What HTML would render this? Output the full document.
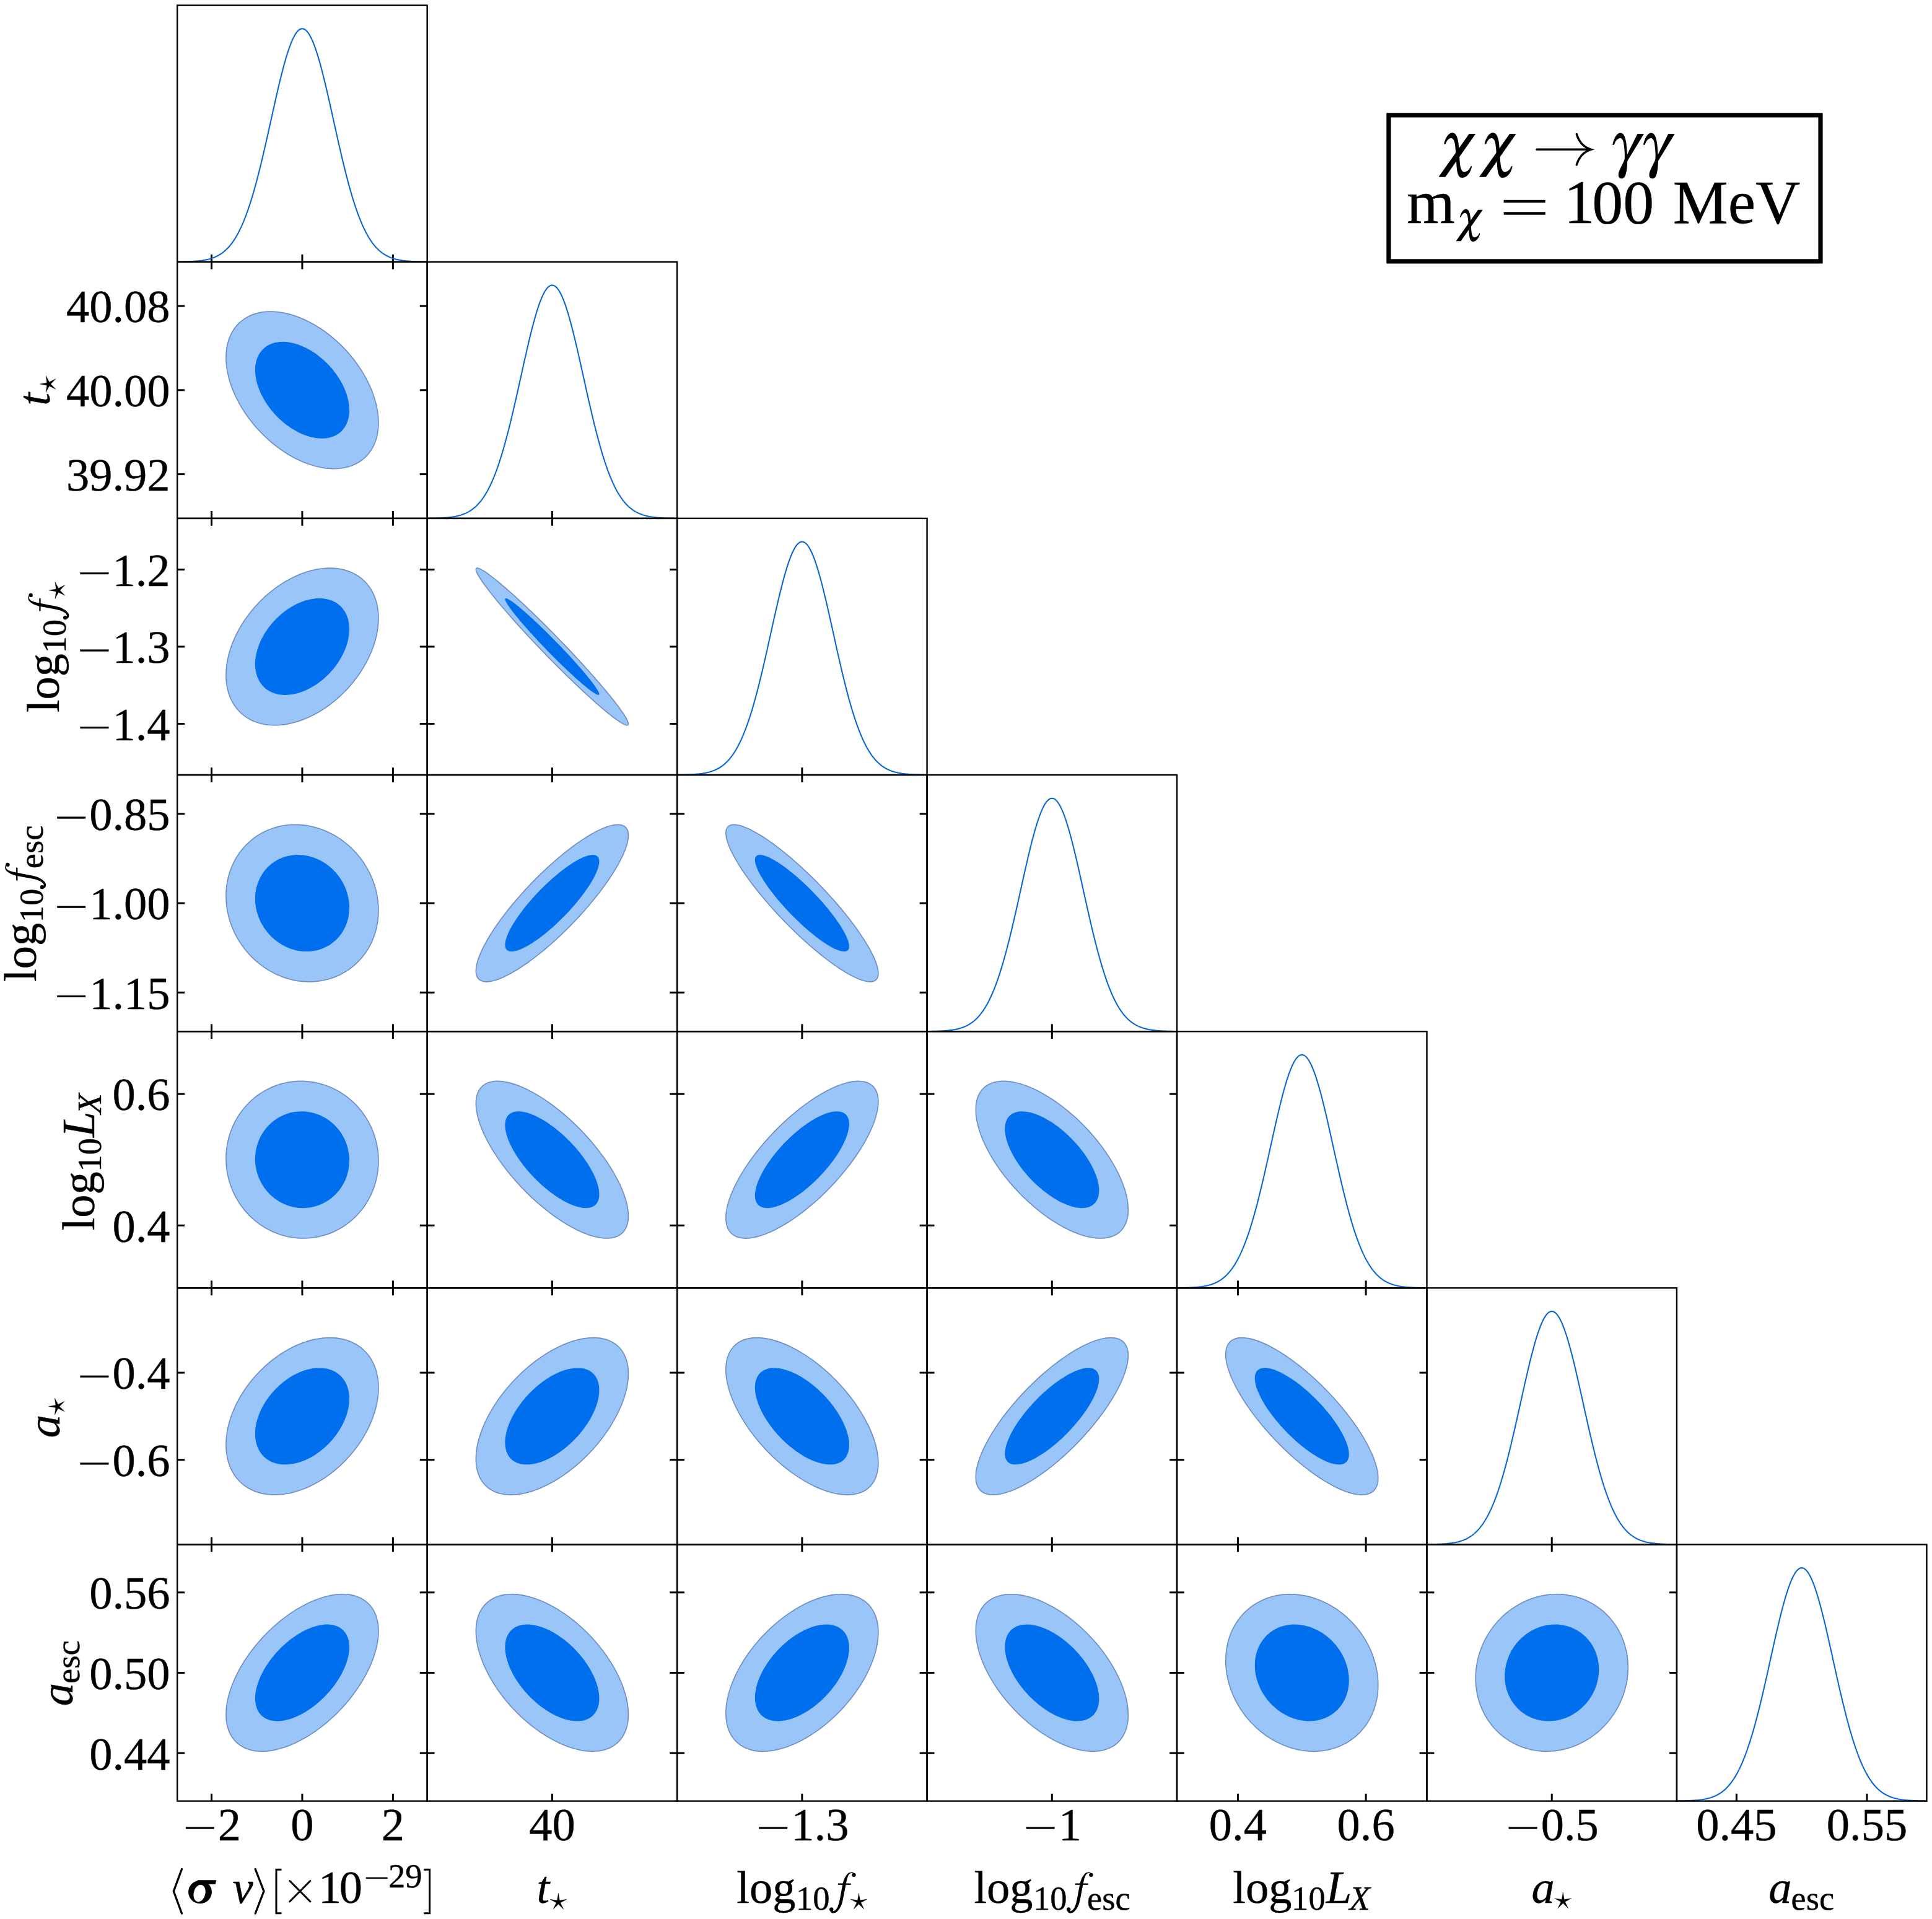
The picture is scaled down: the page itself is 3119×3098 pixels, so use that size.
<!DOCTYPE html>
<html><head><meta charset="utf-8"><title>corner plot</title>
<style>
html,body{margin:0;padding:0;background:#fff;}
body{width:3119px;height:3098px;overflow:hidden;font-family:"Liberation Serif",serif;}
svg{display:block;}
</style></head><body>
<svg width="3119" height="3098" viewBox="0 0 3119 3098">
<rect width="3119" height="3098" fill="#fff"/>
<g>
<path d="M610.93,682.43L610.84,677.86L610.55,673.22L610.08,668.51L609.42,663.74L608.57,658.91L607.53,654.05L606.31,649.14L604.91,644.21L603.33,639.25L601.57,634.28L599.63,629.3L597.52,624.32L595.25,619.35L592.8,614.4L590.2,609.47L587.44,604.57L584.52,599.71L581.46,594.9L578.25,590.14L574.9,585.44L571.42,580.81L567.81,576.26L564.08,571.79L560.23,567.41L556.27,563.12L552.2,558.94L548.03,554.87L543.77,550.91L539.43,547.07L535,543.36L530.5,539.79L525.94,536.35L521.32,533.06L516.64,529.92L511.93,526.93L507.17,524.1L502.39,521.43L497.58,518.93L492.76,516.6L487.93,514.44L483.1,512.47L478.28,510.67L473.47,509.06L468.69,507.63L463.93,506.4L459.22,505.35L454.54,504.49L449.92,503.83L445.36,503.36L440.86,503.09L436.43,503.01L432.09,503.13L427.83,503.44L423.66,503.95L419.59,504.65L415.63,505.55L411.78,506.63L408.05,507.91L404.44,509.37L400.96,511.03L397.61,512.86L394.4,514.87L391.34,517.06L388.42,519.43L385.66,521.96L383.06,524.66L380.61,527.53L378.34,530.55L376.23,533.72L374.29,537.05L372.53,540.51L370.95,544.11L369.55,547.85L368.33,551.71L367.29,555.69L366.44,559.79L365.78,563.99L365.31,568.3L365.02,572.7L364.93,577.19L365.02,581.76L365.31,586.4L365.78,591.11L366.44,595.88L367.29,600.71L368.33,605.57L369.55,610.48L370.95,615.41L372.53,620.37L374.29,625.34L376.23,630.32L378.34,635.3L380.61,640.27L383.06,645.22L385.66,650.15L388.42,655.05L391.34,659.91L394.4,664.72L397.61,669.48L400.96,674.18L404.44,678.81L408.05,683.36L411.78,687.83L415.63,692.21L419.59,696.5L423.66,700.68L427.83,704.75L432.09,708.71L436.43,712.55L440.86,716.26L445.36,719.83L449.92,723.27L454.54,726.56L459.22,729.7L463.93,732.69L468.69,735.52L473.47,738.19L478.28,740.69L483.1,743.02L487.93,745.18L492.76,747.15L497.58,748.95L502.39,750.56L507.17,751.99L511.93,753.22L516.64,754.27L521.32,755.13L525.94,755.79L530.5,756.26L535,756.53L539.43,756.61L543.77,756.49L548.03,756.18L552.2,755.67L556.27,754.97L560.23,754.07L564.08,752.99L567.81,751.71L571.42,750.25L574.9,748.59L578.25,746.76L581.46,744.75L584.52,742.56L587.44,740.19L590.2,737.66L592.8,734.96L595.25,732.09L597.52,729.07L599.63,725.9L601.57,722.57L603.33,719.11L604.91,715.51L606.31,711.77L607.53,707.91L608.57,703.93L609.42,699.83L610.08,695.63L610.55,691.32L610.84,686.92Z" fill="#99c5f8" stroke="#7090c4" stroke-width="1.7"/>
<path d="M563.93,662.18L563.87,659.37L563.7,656.51L563.4,653.61L562.99,650.68L562.47,647.71L561.83,644.72L561.08,641.7L560.21,638.67L559.23,635.62L558.14,632.56L556.95,629.5L555.65,626.43L554.24,623.38L552.73,620.33L551.12,617.3L549.42,614.29L547.61,611.3L545.72,608.34L543.74,605.41L541.67,602.52L539.52,599.67L537.29,596.87L534.98,594.12L532.6,591.42L530.15,588.79L527.64,586.21L525.07,583.71L522.43,581.27L519.75,578.91L517.01,576.63L514.23,574.43L511.42,572.32L508.56,570.29L505.67,568.36L502.76,566.52L499.82,564.78L496.86,563.14L493.89,561.6L490.91,560.17L487.93,558.84L484.95,557.63L481.97,556.52L479,555.53L476.04,554.65L473.1,553.89L470.19,553.25L467.3,552.72L464.44,552.31L461.63,552.03L458.85,551.86L456.11,551.81L453.43,551.88L450.79,552.08L448.22,552.39L445.71,552.82L443.26,553.37L440.88,554.04L438.57,554.82L436.34,555.73L434.19,556.74L432.12,557.87L430.14,559.11L428.25,560.45L426.44,561.91L424.74,563.47L423.13,565.13L421.62,566.89L420.21,568.75L418.91,570.7L417.72,572.75L416.63,574.88L415.65,577.09L414.78,579.39L414.03,581.77L413.39,584.22L412.87,586.74L412.46,589.32L412.16,591.97L411.99,594.68L411.93,597.44L411.99,600.25L412.16,603.11L412.46,606.01L412.87,608.94L413.39,611.91L414.03,614.9L414.78,617.92L415.65,620.95L416.63,624L417.72,627.06L418.91,630.12L420.21,633.19L421.62,636.24L423.13,639.29L424.74,642.32L426.44,645.33L428.25,648.32L430.14,651.28L432.12,654.21L434.19,657.1L436.34,659.95L438.57,662.75L440.88,665.5L443.26,668.2L445.71,670.83L448.22,673.41L450.79,675.91L453.43,678.35L456.11,680.71L458.85,682.99L461.63,685.19L464.44,687.3L467.3,689.33L470.19,691.26L473.1,693.1L476.04,694.84L479,696.48L481.97,698.02L484.95,699.45L487.93,700.78L490.91,701.99L493.89,703.1L496.86,704.09L499.82,704.97L502.76,705.73L505.67,706.37L508.56,706.9L511.42,707.31L514.23,707.59L517.01,707.76L519.75,707.81L522.43,707.74L525.07,707.54L527.64,707.23L530.15,706.8L532.6,706.25L534.98,705.58L537.29,704.8L539.52,703.89L541.67,702.88L543.74,701.75L545.72,700.51L547.61,699.17L549.42,697.71L551.12,696.15L552.73,694.49L554.24,692.73L555.65,690.87L556.95,688.92L558.14,686.87L559.23,684.74L560.21,682.53L561.08,680.23L561.83,677.85L562.47,675.4L562.99,672.88L563.4,670.3L563.7,667.65L563.87,664.94Z" fill="#006fed"/>
<path d="M610.93,998.05L610.84,993.44L610.55,988.92L610.08,984.47L609.42,980.12L608.57,975.87L607.53,971.72L606.31,967.69L604.91,963.77L603.33,959.97L601.57,956.31L599.63,952.78L597.52,949.39L595.25,946.15L592.8,943.05L590.2,940.12L587.44,937.34L584.52,934.73L581.46,932.28L578.25,930.01L574.9,927.91L571.42,925.99L567.81,924.26L564.08,922.71L560.23,921.34L556.27,920.17L552.2,919.18L548.03,918.39L543.77,917.79L539.43,917.39L535,917.18L530.5,917.17L525.94,917.35L521.32,917.73L516.64,918.3L511.93,919.07L507.17,920.02L502.39,921.17L497.58,922.51L492.76,924.04L487.93,925.75L483.1,927.64L478.28,929.72L473.47,931.96L468.69,934.39L463.93,936.98L459.22,939.73L454.54,942.65L449.92,945.72L445.36,948.94L440.86,952.31L436.43,955.82L432.09,959.47L427.83,963.25L423.66,967.15L419.59,971.17L415.63,975.3L411.78,979.54L408.05,983.88L404.44,988.31L400.96,992.83L397.61,997.42L394.4,1002.09L391.34,1006.82L388.42,1011.61L385.66,1016.45L383.06,1021.33L380.61,1026.24L378.34,1031.19L376.23,1036.15L374.29,1041.12L372.53,1046.1L370.95,1051.08L369.55,1056.04L368.33,1060.99L367.29,1065.91L366.44,1070.8L365.78,1075.64L365.31,1080.44L365.02,1085.18L364.93,1089.85L365.02,1094.46L365.31,1098.98L365.78,1103.43L366.44,1107.78L367.29,1112.03L368.33,1116.18L369.55,1120.21L370.95,1124.13L372.53,1127.93L374.29,1131.59L376.23,1135.12L378.34,1138.51L380.61,1141.75L383.06,1144.85L385.66,1147.78L388.42,1150.56L391.34,1153.17L394.4,1155.62L397.61,1157.89L400.96,1159.99L404.44,1161.91L408.05,1163.64L411.78,1165.19L415.63,1166.56L419.59,1167.73L423.66,1168.72L427.83,1169.51L432.09,1170.11L436.43,1170.51L440.86,1170.72L445.36,1170.73L449.92,1170.55L454.54,1170.17L459.22,1169.6L463.93,1168.83L468.69,1167.88L473.47,1166.73L478.28,1165.39L483.1,1163.86L487.93,1162.15L492.76,1160.26L497.58,1158.18L502.39,1155.94L507.17,1153.51L511.93,1150.92L516.64,1148.17L521.32,1145.25L525.94,1142.18L530.5,1138.96L535,1135.59L539.43,1132.08L543.77,1128.43L548.03,1124.65L552.2,1120.75L556.27,1116.73L560.23,1112.6L564.08,1108.36L567.81,1104.02L571.42,1099.59L574.9,1095.07L578.25,1090.48L581.46,1085.81L584.52,1081.08L587.44,1076.29L590.2,1071.45L592.8,1066.57L595.25,1061.66L597.52,1056.71L599.63,1051.75L601.57,1046.78L603.33,1041.8L604.91,1036.82L606.31,1031.86L607.53,1026.91L608.57,1021.99L609.42,1017.1L610.08,1012.26L610.55,1007.46L610.84,1002.72Z" fill="#99c5f8" stroke="#7090c4" stroke-width="1.7"/>
<path d="M563.93,1015.71L563.87,1012.88L563.7,1010.1L563.4,1007.36L562.99,1004.69L562.47,1002.07L561.83,999.52L561.08,997.04L560.21,994.63L559.23,992.29L558.14,990.04L556.95,987.87L555.65,985.78L554.24,983.79L552.73,981.88L551.12,980.08L549.42,978.37L547.61,976.76L545.72,975.26L543.74,973.86L541.67,972.57L539.52,971.39L537.29,970.32L534.98,969.37L532.6,968.53L530.15,967.81L527.64,967.2L525.07,966.71L522.43,966.35L519.75,966.1L517.01,965.97L514.23,965.96L511.42,966.07L508.56,966.31L505.67,966.66L502.76,967.13L499.82,967.72L496.86,968.43L493.89,969.25L490.91,970.19L487.93,971.24L484.95,972.4L481.97,973.68L479,975.06L476.04,976.55L473.1,978.15L470.19,979.84L467.3,981.63L464.44,983.52L461.63,985.51L458.85,987.58L456.11,989.74L453.43,991.98L450.79,994.31L448.22,996.71L445.71,999.18L443.26,1001.72L440.88,1004.33L438.57,1007L436.34,1009.72L434.19,1012.5L432.12,1015.33L430.14,1018.2L428.25,1021.11L426.44,1024.06L424.74,1027.03L423.13,1030.03L421.62,1033.06L420.21,1036.1L418.91,1039.15L417.72,1042.21L416.63,1045.27L415.65,1048.34L414.78,1051.39L414.03,1054.43L413.39,1057.46L412.87,1060.46L412.46,1063.44L412.16,1066.39L411.99,1069.31L411.93,1072.19L411.99,1075.02L412.16,1077.8L412.46,1080.54L412.87,1083.21L413.39,1085.83L414.03,1088.38L414.78,1090.86L415.65,1093.27L416.63,1095.61L417.72,1097.86L418.91,1100.03L420.21,1102.12L421.62,1104.11L423.13,1106.02L424.74,1107.82L426.44,1109.53L428.25,1111.14L430.14,1112.64L432.12,1114.04L434.19,1115.33L436.34,1116.51L438.57,1117.58L440.88,1118.53L443.26,1119.37L445.71,1120.09L448.22,1120.7L450.79,1121.19L453.43,1121.55L456.11,1121.8L458.85,1121.93L461.63,1121.94L464.44,1121.83L467.3,1121.59L470.19,1121.24L473.1,1120.77L476.04,1120.18L479,1119.47L481.97,1118.65L484.95,1117.71L487.93,1116.66L490.91,1115.5L493.89,1114.22L496.86,1112.84L499.82,1111.35L502.76,1109.75L505.67,1108.06L508.56,1106.27L511.42,1104.38L514.23,1102.39L517.01,1100.32L519.75,1098.16L522.43,1095.92L525.07,1093.59L527.64,1091.19L530.15,1088.72L532.6,1086.18L534.98,1083.57L537.29,1080.9L539.52,1078.18L541.67,1075.4L543.74,1072.57L545.72,1069.7L547.61,1066.79L549.42,1063.84L551.12,1060.87L552.73,1057.87L554.24,1054.84L555.65,1051.8L556.95,1048.75L558.14,1045.69L559.23,1042.63L560.21,1039.56L561.08,1036.51L561.83,1033.47L562.47,1030.44L562.99,1027.44L563.4,1024.46L563.7,1021.51L563.87,1018.59Z" fill="#006fed"/>
<path d="M1014.39,1168.59L1014.3,1167.58L1014.01,1166.38L1013.54,1164.99L1012.88,1163.42L1012.03,1161.66L1010.99,1159.72L1009.77,1157.6L1008.37,1155.3L1006.79,1152.83L1005.03,1150.2L1003.09,1147.4L1000.98,1144.44L998.71,1141.33L996.26,1138.06L993.66,1134.65L990.9,1131.11L987.98,1127.42L984.92,1123.61L981.71,1119.68L978.36,1115.62L974.88,1111.46L971.27,1107.2L967.54,1102.83L963.69,1098.38L959.73,1093.84L955.66,1089.23L951.49,1084.54L947.23,1079.79L942.89,1074.99L938.46,1070.14L933.96,1065.25L929.4,1060.33L924.78,1055.38L920.1,1050.41L915.39,1045.43L910.63,1040.45L905.85,1035.48L901.04,1030.52L896.22,1025.58L891.39,1020.67L886.56,1015.79L881.74,1010.96L876.93,1006.18L872.15,1001.46L867.39,996.8L862.68,992.21L858,987.71L853.38,983.29L848.82,978.97L844.32,974.74L839.89,970.62L835.55,966.62L831.29,962.73L827.12,958.97L823.05,955.34L819.09,951.85L815.24,948.5L811.51,945.3L807.9,942.25L804.42,939.35L801.07,936.62L797.86,934.05L794.8,931.65L791.88,929.43L789.12,927.38L786.52,925.51L784.07,923.82L781.8,922.32L779.69,921.01L777.75,919.88L775.99,918.95L774.41,918.21L773.01,917.67L771.79,917.31L770.75,917.16L769.9,917.2L769.24,917.43L768.77,917.86L768.48,918.49L768.39,919.31L768.48,920.32L768.77,921.52L769.24,922.91L769.9,924.48L770.75,926.24L771.79,928.18L773.01,930.3L774.41,932.6L775.99,935.07L777.75,937.7L779.69,940.5L781.8,943.46L784.07,946.57L786.52,949.84L789.12,953.25L791.88,956.79L794.8,960.48L797.86,964.29L801.07,968.22L804.42,972.28L807.9,976.44L811.51,980.7L815.24,985.07L819.09,989.52L823.05,994.06L827.12,998.67L831.29,1003.36L835.55,1008.11L839.89,1012.91L844.32,1017.76L848.82,1022.65L853.38,1027.57L858,1032.52L862.68,1037.49L867.39,1042.47L872.15,1047.45L876.93,1052.42L881.74,1057.38L886.56,1062.32L891.39,1067.23L896.22,1072.11L901.04,1076.94L905.85,1081.72L910.63,1086.44L915.39,1091.1L920.1,1095.69L924.78,1100.19L929.4,1104.61L933.96,1108.93L938.46,1113.16L942.89,1117.28L947.23,1121.28L951.49,1125.17L955.66,1128.93L959.73,1132.56L963.69,1136.05L967.54,1139.4L971.27,1142.6L974.88,1145.65L978.36,1148.55L981.71,1151.28L984.92,1153.85L987.98,1156.25L990.9,1158.47L993.66,1160.52L996.26,1162.39L998.71,1164.08L1000.98,1165.58L1003.09,1166.89L1005.03,1168.02L1006.79,1168.95L1008.37,1169.69L1009.77,1170.23L1010.99,1170.59L1012.03,1170.74L1012.88,1170.7L1013.54,1170.47L1014.01,1170.04L1014.3,1169.41Z" fill="#99c5f8" stroke="#7090c4" stroke-width="1.7"/>
<path d="M967.39,1120.62L967.33,1120L967.16,1119.26L966.86,1118.41L966.45,1117.44L965.93,1116.36L965.29,1115.16L964.54,1113.86L963.67,1112.45L962.69,1110.93L961.6,1109.31L960.41,1107.59L959.11,1105.77L957.7,1103.85L956.19,1101.84L954.58,1099.75L952.88,1097.56L951.07,1095.3L949.18,1092.95L947.2,1090.53L945.13,1088.04L942.98,1085.48L940.75,1082.86L938.44,1080.17L936.06,1077.43L933.61,1074.64L931.1,1071.8L928.53,1068.92L925.89,1066L923.21,1063.04L920.47,1060.06L917.69,1057.05L914.88,1054.02L912.02,1050.98L909.13,1047.92L906.22,1044.86L903.28,1041.8L900.32,1038.74L897.35,1035.69L894.37,1032.65L891.39,1029.63L888.41,1026.63L885.43,1023.66L882.46,1020.72L879.5,1017.81L876.56,1014.95L873.65,1012.13L870.76,1009.35L867.9,1006.64L865.09,1003.98L862.31,1001.38L859.57,998.84L856.89,996.38L854.25,993.99L851.68,991.68L849.17,989.44L846.72,987.3L844.34,985.23L842.03,983.26L839.8,981.39L837.65,979.61L835.58,977.93L833.6,976.35L831.71,974.87L829.9,973.5L828.2,972.24L826.59,971.09L825.08,970.05L823.67,969.13L822.37,968.32L821.18,967.63L820.09,967.06L819.11,966.6L818.24,966.27L817.49,966.05L816.85,965.96L816.33,965.98L815.92,966.12L815.62,966.39L815.45,966.77L815.39,967.28L815.45,967.9L815.62,968.64L815.92,969.49L816.33,970.46L816.85,971.54L817.49,972.74L818.24,974.04L819.11,975.45L820.09,976.97L821.18,978.59L822.37,980.31L823.67,982.13L825.08,984.05L826.59,986.06L828.2,988.15L829.9,990.34L831.71,992.6L833.6,994.95L835.58,997.37L837.65,999.86L839.8,1002.42L842.03,1005.04L844.34,1007.73L846.72,1010.47L849.17,1013.26L851.68,1016.1L854.25,1018.98L856.89,1021.9L859.57,1024.86L862.31,1027.84L865.09,1030.85L867.9,1033.88L870.76,1036.92L873.65,1039.98L876.56,1043.04L879.5,1046.1L882.46,1049.16L885.43,1052.21L888.41,1055.25L891.39,1058.27L894.37,1061.27L897.35,1064.24L900.32,1067.18L903.28,1070.09L906.22,1072.95L909.13,1075.77L912.02,1078.55L914.88,1081.26L917.69,1083.92L920.47,1086.52L923.21,1089.06L925.89,1091.52L928.53,1093.91L931.1,1096.22L933.61,1098.46L936.06,1100.6L938.44,1102.67L940.75,1104.64L942.98,1106.51L945.13,1108.29L947.2,1109.97L949.18,1111.55L951.07,1113.03L952.88,1114.4L954.58,1115.66L956.19,1116.81L957.7,1117.85L959.11,1118.77L960.41,1119.58L961.6,1120.27L962.69,1120.84L963.67,1121.3L964.54,1121.63L965.29,1121.85L965.93,1121.94L966.45,1121.92L966.86,1121.78L967.16,1121.51L967.33,1121.13Z" fill="#006fed"/>
<path d="M610.93,1469.76L610.84,1464.79L610.55,1459.81L610.08,1454.83L609.42,1449.86L608.57,1444.9L607.53,1439.96L606.31,1435.04L604.91,1430.17L603.33,1425.33L601.57,1420.55L599.63,1415.82L597.52,1411.16L595.25,1406.57L592.8,1402.06L590.2,1397.64L587.44,1393.31L584.52,1389.08L581.46,1384.96L578.25,1380.95L574.9,1377.06L571.42,1373.29L567.81,1369.66L564.08,1366.16L560.23,1362.8L556.27,1359.59L552.2,1356.53L548.03,1353.63L543.77,1350.89L539.43,1348.31L535,1345.9L530.5,1343.67L525.94,1341.61L521.32,1339.73L516.64,1338.04L511.93,1336.53L507.17,1335.21L502.39,1334.07L497.58,1333.13L492.76,1332.38L487.93,1331.83L483.1,1331.47L478.28,1331.3L473.47,1331.33L468.69,1331.56L463.93,1331.98L459.22,1332.59L454.54,1333.4L449.92,1334.4L445.36,1335.59L440.86,1336.97L436.43,1338.54L432.09,1340.29L427.83,1342.23L423.66,1344.34L419.59,1346.63L415.63,1349.08L411.78,1351.71L408.05,1354.5L404.44,1357.45L400.96,1360.56L397.61,1363.82L394.4,1367.22L391.34,1370.76L388.42,1374.44L385.66,1378.24L383.06,1382.17L380.61,1386.22L378.34,1390.37L376.23,1394.64L374.29,1398.99L372.53,1403.44L370.95,1407.98L369.55,1412.59L368.33,1417.27L367.29,1422.02L366.44,1426.82L365.78,1431.66L365.31,1436.55L365.02,1441.48L364.93,1446.42L365.02,1451.39L365.31,1456.37L365.78,1461.35L366.44,1466.32L367.29,1471.28L368.33,1476.22L369.55,1481.14L370.95,1486.01L372.53,1490.85L374.29,1495.63L376.23,1500.36L378.34,1505.02L380.61,1509.61L383.06,1514.12L385.66,1518.54L388.42,1522.87L391.34,1527.1L394.4,1531.22L397.61,1535.23L400.96,1539.12L404.44,1542.89L408.05,1546.52L411.78,1550.02L415.63,1553.38L419.59,1556.59L423.66,1559.65L427.83,1562.55L432.09,1565.29L436.43,1567.87L440.86,1570.28L445.36,1572.51L449.92,1574.57L454.54,1576.45L459.22,1578.14L463.93,1579.65L468.69,1580.97L473.47,1582.11L478.28,1583.05L483.1,1583.8L487.93,1584.35L492.76,1584.71L497.58,1584.88L502.39,1584.85L507.17,1584.62L511.93,1584.2L516.64,1583.59L521.32,1582.78L525.94,1581.78L530.5,1580.59L535,1579.21L539.43,1577.64L543.77,1575.89L548.03,1573.95L552.2,1571.84L556.27,1569.55L560.23,1567.1L564.08,1564.47L567.81,1561.68L571.42,1558.73L574.9,1555.62L578.25,1552.36L581.46,1548.96L584.52,1545.42L587.44,1541.74L590.2,1537.94L592.8,1534.01L595.25,1529.96L597.52,1525.81L599.63,1521.54L601.57,1517.19L603.33,1512.74L604.91,1508.2L606.31,1503.59L607.53,1498.91L608.57,1494.16L609.42,1489.36L610.08,1484.52L610.55,1479.63L610.84,1474.7Z" fill="#99c5f8" stroke="#7090c4" stroke-width="1.7"/>
<path d="M563.93,1465.27L563.87,1462.21L563.7,1459.15L563.4,1456.09L562.99,1453.03L562.47,1449.98L561.83,1446.94L561.08,1443.91L560.21,1440.91L559.23,1437.94L558.14,1435L556.95,1432.09L555.65,1429.22L554.24,1426.4L552.73,1423.63L551.12,1420.91L549.42,1418.24L547.61,1415.64L545.72,1413.1L543.74,1410.64L541.67,1408.24L539.52,1405.93L537.29,1403.69L534.98,1401.54L532.6,1399.47L530.15,1397.5L527.64,1395.62L525.07,1393.83L522.43,1392.14L519.75,1390.56L517.01,1389.08L514.23,1387.71L511.42,1386.44L508.56,1385.28L505.67,1384.24L502.76,1383.31L499.82,1382.5L496.86,1381.8L493.89,1381.22L490.91,1380.76L487.93,1380.42L484.95,1380.2L481.97,1380.1L479,1380.12L476.04,1380.25L473.1,1380.51L470.19,1380.89L467.3,1381.39L464.44,1382L461.63,1382.74L458.85,1383.59L456.11,1384.55L453.43,1385.63L450.79,1386.82L448.22,1388.12L445.71,1389.52L443.26,1391.04L440.88,1392.65L438.57,1394.37L436.34,1396.18L434.19,1398.1L432.12,1400.1L430.14,1402.19L428.25,1404.37L426.44,1406.63L424.74,1408.97L423.13,1411.39L421.62,1413.88L420.21,1416.44L418.91,1419.06L417.72,1421.74L416.63,1424.47L415.65,1427.26L414.78,1430.1L414.03,1432.98L413.39,1435.9L412.87,1438.85L412.46,1441.83L412.16,1444.84L411.99,1447.87L411.93,1450.91L411.99,1453.97L412.16,1457.03L412.46,1460.09L412.87,1463.15L413.39,1466.2L414.03,1469.24L414.78,1472.27L415.65,1475.27L416.63,1478.24L417.72,1481.18L418.91,1484.09L420.21,1486.96L421.62,1489.78L423.13,1492.55L424.74,1495.27L426.44,1497.94L428.25,1500.54L430.14,1503.08L432.12,1505.54L434.19,1507.94L436.34,1510.25L438.57,1512.49L440.88,1514.64L443.26,1516.71L445.71,1518.68L448.22,1520.56L450.79,1522.35L453.43,1524.04L456.11,1525.62L458.85,1527.1L461.63,1528.47L464.44,1529.74L467.3,1530.9L470.19,1531.94L473.1,1532.87L476.04,1533.68L479,1534.38L481.97,1534.96L484.95,1535.42L487.93,1535.76L490.91,1535.98L493.89,1536.08L496.86,1536.06L499.82,1535.93L502.76,1535.67L505.67,1535.29L508.56,1534.79L511.42,1534.18L514.23,1533.44L517.01,1532.59L519.75,1531.63L522.43,1530.55L525.07,1529.36L527.64,1528.06L530.15,1526.66L532.6,1525.14L534.98,1523.53L537.29,1521.81L539.52,1520L541.67,1518.08L543.74,1516.08L545.72,1513.99L547.61,1511.81L549.42,1509.55L551.12,1507.21L552.73,1504.79L554.24,1502.3L555.65,1499.74L556.95,1497.12L558.14,1494.44L559.23,1491.71L560.21,1488.92L561.08,1486.08L561.83,1483.2L562.47,1480.28L562.99,1477.33L563.4,1474.35L563.7,1471.34L563.87,1468.31Z" fill="#006fed"/>
<path d="M1014.39,1348.79L1014.3,1346.35L1014.01,1344.08L1013.54,1341.99L1012.88,1340.08L1012.03,1338.35L1010.99,1336.8L1009.77,1335.45L1008.37,1334.28L1006.79,1333.3L1005.03,1332.51L1003.09,1331.92L1000.98,1331.52L998.71,1331.32L996.26,1331.31L993.66,1331.5L990.9,1331.88L987.98,1332.46L984.92,1333.23L981.71,1334.2L978.36,1335.35L974.88,1336.7L971.27,1338.23L967.54,1339.95L963.69,1341.84L959.73,1343.92L955.66,1346.18L951.49,1348.6L947.23,1351.2L942.89,1353.96L938.46,1356.88L933.96,1359.96L929.4,1363.18L924.78,1366.56L920.1,1370.07L915.39,1373.73L910.63,1377.51L905.85,1381.41L901.04,1385.44L896.22,1389.57L891.39,1393.81L886.56,1398.15L881.74,1402.59L876.93,1407.11L872.15,1411.7L867.39,1416.37L862.68,1421.11L858,1425.9L853.38,1430.74L848.82,1435.62L844.32,1440.53L839.89,1445.48L835.55,1450.44L831.29,1455.42L827.12,1460.4L823.05,1465.37L819.09,1470.34L815.24,1475.28L811.51,1480.2L807.9,1485.08L804.42,1489.93L801.07,1494.72L797.86,1499.46L794.8,1504.13L791.88,1508.74L789.12,1513.26L786.52,1517.7L784.07,1522.05L781.8,1526.3L779.69,1530.44L777.75,1534.47L775.99,1538.39L774.41,1542.18L773.01,1545.84L771.79,1549.37L770.75,1552.75L769.9,1555.99L769.24,1559.08L768.77,1562.01L768.48,1564.78L768.39,1567.39L768.48,1569.83L768.77,1572.1L769.24,1574.19L769.9,1576.1L770.75,1577.83L771.79,1579.38L773.01,1580.73L774.41,1581.9L775.99,1582.88L777.75,1583.67L779.69,1584.26L781.8,1584.66L784.07,1584.86L786.52,1584.87L789.12,1584.68L791.88,1584.3L794.8,1583.72L797.86,1582.95L801.07,1581.98L804.42,1580.83L807.9,1579.48L811.51,1577.95L815.24,1576.23L819.09,1574.34L823.05,1572.26L827.12,1570L831.29,1567.58L835.55,1564.98L839.89,1562.22L844.32,1559.3L848.82,1556.22L853.38,1553L858,1549.62L862.68,1546.11L867.39,1542.45L872.15,1538.67L876.93,1534.77L881.74,1530.74L886.56,1526.61L891.39,1522.37L896.22,1518.03L901.04,1513.59L905.85,1509.07L910.63,1504.48L915.39,1499.81L920.1,1495.07L924.78,1490.28L929.4,1485.44L933.96,1480.56L938.46,1475.65L942.89,1470.7L947.23,1465.74L951.49,1460.76L955.66,1455.78L959.73,1450.81L963.69,1445.84L967.54,1440.9L971.27,1435.98L974.88,1431.1L978.36,1426.25L981.71,1421.46L984.92,1416.72L987.98,1412.05L990.9,1407.44L993.66,1402.92L996.26,1398.48L998.71,1394.13L1000.98,1389.88L1003.09,1385.74L1005.03,1381.71L1006.79,1377.79L1008.37,1374L1009.77,1370.34L1010.99,1366.81L1012.03,1363.43L1012.88,1360.19L1013.54,1357.1L1014.01,1354.17L1014.3,1351.4Z" fill="#99c5f8" stroke="#7090c4" stroke-width="1.7"/>
<path d="M967.39,1390.85L967.33,1389.35L967.16,1387.96L966.86,1386.67L966.45,1385.5L965.93,1384.43L965.29,1383.48L964.54,1382.65L963.67,1381.93L962.69,1381.32L961.6,1380.84L960.41,1380.48L959.11,1380.23L957.7,1380.11L956.19,1380.1L954.58,1380.22L952.88,1380.45L951.07,1380.81L949.18,1381.28L947.2,1381.88L945.13,1382.59L942.98,1383.42L940.75,1384.36L938.44,1385.41L936.06,1386.58L933.61,1387.86L931.1,1389.25L928.53,1390.74L925.89,1392.34L923.21,1394.03L920.47,1395.83L917.69,1397.72L914.88,1399.71L912.02,1401.79L909.13,1403.95L906.22,1406.19L903.28,1408.52L900.32,1410.92L897.35,1413.4L894.37,1415.94L891.39,1418.55L888.41,1421.22L885.43,1423.95L882.46,1426.73L879.5,1429.56L876.56,1432.43L873.65,1435.34L870.76,1438.29L867.9,1441.26L865.09,1444.27L862.31,1447.29L859.57,1450.33L856.89,1453.39L854.25,1456.45L851.68,1459.51L849.17,1462.57L846.72,1465.62L844.34,1468.66L842.03,1471.69L839.8,1474.7L837.65,1477.67L835.58,1480.62L833.6,1483.54L831.71,1486.41L829.9,1489.24L828.2,1492.03L826.59,1494.76L825.08,1497.43L823.67,1500.05L822.37,1502.6L821.18,1505.08L820.09,1507.49L819.11,1509.82L818.24,1512.07L817.49,1514.24L816.85,1516.32L816.33,1518.31L815.92,1520.21L815.62,1522.02L815.45,1523.72L815.39,1525.33L815.45,1526.83L815.62,1528.22L815.92,1529.51L816.33,1530.68L816.85,1531.75L817.49,1532.7L818.24,1533.53L819.11,1534.25L820.09,1534.86L821.18,1535.34L822.37,1535.7L823.67,1535.95L825.08,1536.07L826.59,1536.08L828.2,1535.96L829.9,1535.73L831.71,1535.37L833.6,1534.9L835.58,1534.3L837.65,1533.59L839.8,1532.76L842.03,1531.82L844.34,1530.77L846.72,1529.6L849.17,1528.32L851.68,1526.93L854.25,1525.44L856.89,1523.84L859.57,1522.15L862.31,1520.35L865.09,1518.46L867.9,1516.47L870.76,1514.39L873.65,1512.23L876.56,1509.99L879.5,1507.66L882.46,1505.26L885.43,1502.78L888.41,1500.24L891.39,1497.63L894.37,1494.96L897.35,1492.23L900.32,1489.45L903.28,1486.62L906.22,1483.75L909.13,1480.84L912.02,1477.89L914.88,1474.92L917.69,1471.91L920.47,1468.89L923.21,1465.85L925.89,1462.79L928.53,1459.73L931.1,1456.67L933.61,1453.61L936.06,1450.56L938.44,1447.52L940.75,1444.49L942.98,1441.48L945.13,1438.51L947.2,1435.56L949.18,1432.64L951.07,1429.77L952.88,1426.94L954.58,1424.15L956.19,1421.42L957.7,1418.75L959.11,1416.13L960.41,1413.58L961.6,1411.1L962.69,1408.69L963.67,1406.36L964.54,1404.11L965.29,1401.94L965.93,1399.86L966.45,1397.87L966.86,1395.97L967.16,1394.16L967.33,1392.46Z" fill="#006fed"/>
<path d="M1417.85,1571.32L1417.76,1568.99L1417.47,1566.5L1417,1563.83L1416.34,1561L1415.49,1558.01L1414.45,1554.87L1413.23,1551.58L1411.83,1548.15L1410.25,1544.57L1408.49,1540.86L1406.55,1537.03L1404.44,1533.07L1402.17,1529L1399.72,1524.82L1397.12,1520.53L1394.36,1516.15L1391.44,1511.68L1388.38,1507.13L1385.17,1502.5L1381.82,1497.8L1378.34,1493.05L1374.73,1488.23L1371,1483.38L1367.15,1478.48L1363.19,1473.55L1359.12,1468.6L1354.95,1463.63L1350.69,1458.65L1346.35,1453.67L1341.92,1448.7L1337.42,1443.74L1332.86,1438.81L1328.24,1433.9L1323.56,1429.03L1318.85,1424.21L1314.09,1419.44L1309.31,1414.73L1304.5,1410.08L1299.68,1405.51L1294.85,1401.02L1290.02,1396.62L1285.2,1392.31L1280.39,1388.11L1275.61,1384.01L1270.85,1380.03L1266.14,1376.17L1261.46,1372.43L1256.84,1368.83L1252.28,1365.36L1247.78,1362.03L1243.35,1358.86L1239.01,1355.84L1234.75,1352.97L1230.58,1350.27L1226.51,1347.73L1222.55,1345.37L1218.7,1343.17L1214.97,1341.16L1211.36,1339.32L1207.88,1337.67L1204.53,1336.2L1201.32,1334.93L1198.26,1333.84L1195.34,1332.94L1192.58,1332.24L1189.98,1331.73L1187.53,1331.41L1185.26,1331.29L1183.15,1331.37L1181.21,1331.64L1179.45,1332.1L1177.87,1332.76L1176.47,1333.62L1175.25,1334.66L1174.21,1335.9L1173.36,1337.32L1172.7,1338.93L1172.23,1340.73L1171.94,1342.7L1171.85,1344.86L1171.94,1347.19L1172.23,1349.68L1172.7,1352.35L1173.36,1355.18L1174.21,1358.17L1175.25,1361.31L1176.47,1364.6L1177.87,1368.03L1179.45,1371.61L1181.21,1375.32L1183.15,1379.15L1185.26,1383.11L1187.53,1387.18L1189.98,1391.36L1192.58,1395.65L1195.34,1400.03L1198.26,1404.5L1201.32,1409.05L1204.53,1413.68L1207.88,1418.38L1211.36,1423.13L1214.97,1427.95L1218.7,1432.8L1222.55,1437.7L1226.51,1442.63L1230.58,1447.58L1234.75,1452.55L1239.01,1457.53L1243.35,1462.51L1247.78,1467.48L1252.28,1472.44L1256.84,1477.37L1261.46,1482.28L1266.14,1487.15L1270.85,1491.97L1275.61,1496.74L1280.39,1501.45L1285.2,1506.1L1290.02,1510.67L1294.85,1515.16L1299.68,1519.56L1304.5,1523.87L1309.31,1528.07L1314.09,1532.17L1318.85,1536.15L1323.56,1540.01L1328.24,1543.75L1332.86,1547.35L1337.42,1550.82L1341.92,1554.15L1346.35,1557.32L1350.69,1560.34L1354.95,1563.21L1359.12,1565.91L1363.19,1568.45L1367.15,1570.81L1371,1573.01L1374.73,1575.02L1378.34,1576.86L1381.82,1578.51L1385.17,1579.98L1388.38,1581.25L1391.44,1582.34L1394.36,1583.24L1397.12,1583.94L1399.72,1584.45L1402.17,1584.77L1404.44,1584.89L1406.55,1584.81L1408.49,1584.54L1410.25,1584.08L1411.83,1583.42L1413.23,1582.56L1414.45,1581.52L1415.49,1580.28L1416.34,1578.86L1417,1577.25L1417.47,1575.45L1417.76,1573.48Z" fill="#99c5f8" stroke="#7090c4" stroke-width="1.7"/>
<path d="M1370.85,1527.74L1370.79,1526.31L1370.62,1524.78L1370.32,1523.14L1369.91,1521.39L1369.39,1519.56L1368.75,1517.62L1368,1515.6L1367.13,1513.49L1366.15,1511.29L1365.06,1509.01L1363.87,1506.65L1362.57,1504.22L1361.16,1501.71L1359.65,1499.14L1358.04,1496.5L1356.34,1493.81L1354.53,1491.06L1352.64,1488.26L1350.66,1485.41L1348.59,1482.52L1346.44,1479.59L1344.21,1476.63L1341.9,1473.64L1339.52,1470.63L1337.07,1467.6L1334.56,1464.55L1331.99,1461.5L1329.35,1458.43L1326.67,1455.37L1323.93,1452.31L1321.15,1449.26L1318.34,1446.23L1315.48,1443.21L1312.59,1440.22L1309.68,1437.25L1306.74,1434.31L1303.78,1431.42L1300.81,1428.56L1297.83,1425.75L1294.85,1422.99L1291.87,1420.28L1288.89,1417.63L1285.92,1415.04L1282.96,1412.52L1280.02,1410.07L1277.11,1407.7L1274.22,1405.4L1271.36,1403.18L1268.55,1401.05L1265.77,1399L1263.03,1397.05L1260.35,1395.19L1257.71,1393.43L1255.14,1391.76L1252.63,1390.2L1250.18,1388.75L1247.8,1387.4L1245.49,1386.16L1243.26,1385.03L1241.11,1384.01L1239.04,1383.11L1237.06,1382.33L1235.17,1381.66L1233.36,1381.1L1231.66,1380.67L1230.05,1380.36L1228.54,1380.16L1227.13,1380.09L1225.83,1380.14L1224.64,1380.3L1223.55,1380.59L1222.57,1381L1221.7,1381.52L1220.95,1382.17L1220.31,1382.93L1219.79,1383.8L1219.38,1384.79L1219.08,1385.9L1218.91,1387.11L1218.85,1388.44L1218.91,1389.87L1219.08,1391.4L1219.38,1393.04L1219.79,1394.79L1220.31,1396.62L1220.95,1398.56L1221.7,1400.58L1222.57,1402.69L1223.55,1404.89L1224.64,1407.17L1225.83,1409.53L1227.13,1411.96L1228.54,1414.47L1230.05,1417.04L1231.66,1419.68L1233.36,1422.37L1235.17,1425.12L1237.06,1427.92L1239.04,1430.77L1241.11,1433.66L1243.26,1436.59L1245.49,1439.55L1247.8,1442.54L1250.18,1445.55L1252.63,1448.58L1255.14,1451.63L1257.71,1454.68L1260.35,1457.75L1263.03,1460.81L1265.77,1463.87L1268.55,1466.92L1271.36,1469.95L1274.22,1472.97L1277.11,1475.96L1280.02,1478.93L1282.96,1481.87L1285.92,1484.76L1288.89,1487.62L1291.87,1490.43L1294.85,1493.19L1297.83,1495.9L1300.81,1498.55L1303.78,1501.14L1306.74,1503.66L1309.68,1506.11L1312.59,1508.48L1315.48,1510.78L1318.34,1513L1321.15,1515.13L1323.93,1517.18L1326.67,1519.13L1329.35,1520.99L1331.99,1522.75L1334.56,1524.42L1337.07,1525.98L1339.52,1527.43L1341.9,1528.78L1344.21,1530.02L1346.44,1531.15L1348.59,1532.17L1350.66,1533.07L1352.64,1533.85L1354.53,1534.52L1356.34,1535.08L1358.04,1535.51L1359.65,1535.82L1361.16,1536.02L1362.57,1536.09L1363.87,1536.04L1365.06,1535.88L1366.15,1535.59L1367.13,1535.18L1368,1534.66L1368.75,1534.01L1369.39,1533.25L1369.91,1532.38L1370.32,1531.39L1370.62,1530.28L1370.79,1529.07Z" fill="#006fed"/>
<path d="M610.93,1874.13L610.84,1869.15L610.55,1864.18L610.08,1859.22L609.42,1854.27L608.57,1849.36L607.53,1844.48L606.31,1839.65L604.91,1834.86L603.33,1830.13L601.57,1825.47L599.63,1820.88L597.52,1816.37L595.25,1811.94L592.8,1807.61L590.2,1803.37L587.44,1799.25L584.52,1795.23L581.46,1791.34L578.25,1787.56L574.9,1783.92L571.42,1780.42L567.81,1777.06L564.08,1773.84L560.23,1770.78L556.27,1767.87L552.2,1765.12L548.03,1762.54L543.77,1760.13L539.43,1757.89L535,1755.82L530.5,1753.94L525.94,1752.24L521.32,1750.72L516.64,1749.39L511.93,1748.25L507.17,1747.3L502.39,1746.55L497.58,1745.98L492.76,1745.62L487.93,1745.44L483.1,1745.47L478.28,1745.69L473.47,1746.1L468.69,1746.71L463.93,1747.51L459.22,1748.5L454.54,1749.69L449.92,1751.06L445.36,1752.62L440.86,1754.37L436.43,1756.29L432.09,1758.4L427.83,1760.68L423.66,1763.13L419.59,1765.75L415.63,1768.54L411.78,1771.49L408.05,1774.59L404.44,1777.84L400.96,1781.23L397.61,1784.77L394.4,1788.44L391.34,1792.24L388.42,1796.17L385.66,1800.21L383.06,1804.36L380.61,1808.62L378.34,1812.98L376.23,1817.42L374.29,1821.95L372.53,1826.56L370.95,1831.24L369.55,1835.98L368.33,1840.78L367.29,1845.63L366.44,1850.52L365.78,1855.44L365.31,1860.39L365.02,1865.35L364.93,1870.33L365.02,1875.31L365.31,1880.28L365.78,1885.24L366.44,1890.19L367.29,1895.1L368.33,1899.98L369.55,1904.81L370.95,1909.6L372.53,1914.33L374.29,1918.99L376.23,1923.58L378.34,1928.09L380.61,1932.52L383.06,1936.85L385.66,1941.09L388.42,1945.21L391.34,1949.23L394.4,1953.12L397.61,1956.9L400.96,1960.54L404.44,1964.04L408.05,1967.4L411.78,1970.62L415.63,1973.68L419.59,1976.59L423.66,1979.34L427.83,1981.92L432.09,1984.33L436.43,1986.57L440.86,1988.64L445.36,1990.52L449.92,1992.22L454.54,1993.74L459.22,1995.07L463.93,1996.21L468.69,1997.16L473.47,1997.91L478.28,1998.48L483.1,1998.84L487.93,1999.02L492.76,1998.99L497.58,1998.77L502.39,1998.36L507.17,1997.75L511.93,1996.95L516.64,1995.96L521.32,1994.77L525.94,1993.4L530.5,1991.84L535,1990.09L539.43,1988.17L543.77,1986.06L548.03,1983.78L552.2,1981.33L556.27,1978.71L560.23,1975.92L564.08,1972.97L567.81,1969.87L571.42,1966.62L574.9,1963.23L578.25,1959.69L581.46,1956.02L584.52,1952.22L587.44,1948.29L590.2,1944.25L592.8,1940.1L595.25,1935.84L597.52,1931.48L599.63,1927.04L601.57,1922.51L603.33,1917.9L604.91,1913.22L606.31,1908.48L607.53,1903.68L608.57,1898.83L609.42,1893.94L610.08,1889.02L610.55,1884.07L610.84,1879.11Z" fill="#99c5f8" stroke="#7090c4" stroke-width="1.7"/>
<path d="M563.93,1873.4L563.87,1870.34L563.7,1867.28L563.4,1864.23L562.99,1861.19L562.47,1858.16L561.83,1855.16L561.08,1852.19L560.21,1849.24L559.23,1846.33L558.14,1843.46L556.95,1840.64L555.65,1837.87L554.24,1835.14L552.73,1832.48L551.12,1829.87L549.42,1827.33L547.61,1824.86L545.72,1822.47L543.74,1820.15L541.67,1817.91L539.52,1815.75L537.29,1813.68L534.98,1811.71L532.6,1809.82L530.15,1808.03L527.64,1806.34L525.07,1804.75L522.43,1803.27L519.75,1801.89L517.01,1800.62L514.23,1799.46L511.42,1798.42L508.56,1797.48L505.67,1796.67L502.76,1795.97L499.82,1795.38L496.86,1794.92L493.89,1794.57L490.91,1794.34L487.93,1794.24L484.95,1794.25L481.97,1794.39L479,1794.64L476.04,1795.02L473.1,1795.51L470.19,1796.12L467.3,1796.85L464.44,1797.69L461.63,1798.65L458.85,1799.73L456.11,1800.91L453.43,1802.21L450.79,1803.61L448.22,1805.12L445.71,1806.73L443.26,1808.45L440.88,1810.26L438.57,1812.17L436.34,1814.17L434.19,1816.25L432.12,1818.43L430.14,1820.69L428.25,1823.03L426.44,1825.44L424.74,1827.93L423.13,1830.48L421.62,1833.1L420.21,1835.78L418.91,1838.52L417.72,1841.3L416.63,1844.14L415.65,1847.02L414.78,1849.93L414.03,1852.89L413.39,1855.87L412.87,1858.87L412.46,1861.9L412.16,1864.94L411.99,1868L411.93,1871.06L411.99,1874.12L412.16,1877.18L412.46,1880.23L412.87,1883.27L413.39,1886.3L414.03,1889.3L414.78,1892.27L415.65,1895.22L416.63,1898.13L417.72,1901L418.91,1903.82L420.21,1906.59L421.62,1909.32L423.13,1911.98L424.74,1914.59L426.44,1917.13L428.25,1919.6L430.14,1921.99L432.12,1924.31L434.19,1926.55L436.34,1928.71L438.57,1930.78L440.88,1932.75L443.26,1934.64L445.71,1936.43L448.22,1938.12L450.79,1939.71L453.43,1941.19L456.11,1942.57L458.85,1943.84L461.63,1945L464.44,1946.04L467.3,1946.98L470.19,1947.79L473.1,1948.49L476.04,1949.08L479,1949.54L481.97,1949.89L484.95,1950.12L487.93,1950.22L490.91,1950.21L493.89,1950.07L496.86,1949.82L499.82,1949.44L502.76,1948.95L505.67,1948.34L508.56,1947.61L511.42,1946.77L514.23,1945.81L517.01,1944.73L519.75,1943.55L522.43,1942.25L525.07,1940.85L527.64,1939.34L530.15,1937.73L532.6,1936.01L534.98,1934.2L537.29,1932.29L539.52,1930.29L541.67,1928.21L543.74,1926.03L545.72,1923.77L547.61,1921.43L549.42,1919.02L551.12,1916.53L552.73,1913.98L554.24,1911.36L555.65,1908.68L556.95,1905.94L558.14,1903.16L559.23,1900.32L560.21,1897.44L561.08,1894.53L561.83,1891.57L562.47,1888.59L562.99,1885.59L563.4,1882.56L563.7,1879.52L563.87,1876.46Z" fill="#006fed"/>
<path d="M1014.39,1963.02L1014.3,1959.47L1014.01,1955.79L1013.54,1951.99L1012.88,1948.05L1012.03,1944.01L1010.99,1939.85L1009.77,1935.58L1008.37,1931.22L1006.79,1926.77L1005.03,1922.23L1003.09,1917.62L1000.98,1912.94L998.71,1908.19L996.26,1903.39L993.66,1898.54L990.9,1893.65L987.98,1888.73L984.92,1883.78L981.71,1878.81L978.36,1873.83L974.88,1868.86L971.27,1863.88L967.54,1858.92L963.69,1853.98L959.73,1849.07L955.66,1844.19L951.49,1839.36L947.23,1834.58L942.89,1829.85L938.46,1825.19L933.96,1820.61L929.4,1816.1L924.78,1811.68L920.1,1807.35L915.39,1803.12L910.63,1799L905.85,1795L901.04,1791.11L896.22,1787.34L891.39,1783.71L886.56,1780.21L881.74,1776.86L876.93,1773.65L872.15,1770.6L867.39,1767.7L862.68,1764.96L858,1762.39L853.38,1759.99L848.82,1757.76L844.32,1755.71L839.89,1753.83L835.55,1752.14L831.29,1750.64L827.12,1749.32L823.05,1748.19L819.09,1747.25L815.24,1746.51L811.51,1745.96L807.9,1745.6L804.42,1745.44L801.07,1745.47L797.86,1745.71L794.8,1746.13L791.88,1746.75L789.12,1747.56L786.52,1748.57L784.07,1749.76L781.8,1751.15L779.69,1752.72L777.75,1754.48L775.99,1756.41L774.41,1758.53L773.01,1760.82L771.79,1763.29L770.75,1765.92L769.9,1768.71L769.24,1771.67L768.77,1774.78L768.48,1778.04L768.39,1781.44L768.48,1784.99L768.77,1788.67L769.24,1792.47L769.9,1796.41L770.75,1800.45L771.79,1804.61L773.01,1808.88L774.41,1813.24L775.99,1817.69L777.75,1822.23L779.69,1826.84L781.8,1831.52L784.07,1836.27L786.52,1841.07L789.12,1845.92L791.88,1850.81L794.8,1855.73L797.86,1860.68L801.07,1865.65L804.42,1870.63L807.9,1875.6L811.51,1880.58L815.24,1885.54L819.09,1890.48L823.05,1895.39L827.12,1900.27L831.29,1905.1L835.55,1909.88L839.89,1914.61L844.32,1919.27L848.82,1923.85L853.38,1928.36L858,1932.78L862.68,1937.11L867.39,1941.34L872.15,1945.46L876.93,1949.46L881.74,1953.35L886.56,1957.12L891.39,1960.75L896.22,1964.25L901.04,1967.6L905.85,1970.81L910.63,1973.86L915.39,1976.76L920.1,1979.5L924.78,1982.07L929.4,1984.47L933.96,1986.7L938.46,1988.75L942.89,1990.63L947.23,1992.32L951.49,1993.82L955.66,1995.14L959.73,1996.27L963.69,1997.21L967.54,1997.95L971.27,1998.5L974.88,1998.86L978.36,1999.02L981.71,1998.99L984.92,1998.75L987.98,1998.33L990.9,1997.71L993.66,1996.9L996.26,1995.89L998.71,1994.7L1000.98,1993.31L1003.09,1991.74L1005.03,1989.98L1006.79,1988.05L1008.37,1985.93L1009.77,1983.64L1010.99,1981.17L1012.03,1978.54L1012.88,1975.75L1013.54,1972.79L1014.01,1969.68L1014.3,1966.42Z" fill="#99c5f8" stroke="#7090c4" stroke-width="1.7"/>
<path d="M967.39,1928.08L967.33,1925.9L967.16,1923.63L966.86,1921.29L966.45,1918.87L965.93,1916.38L965.29,1913.82L964.54,1911.2L963.67,1908.52L962.69,1905.78L961.6,1902.99L960.41,1900.15L959.11,1897.27L957.7,1894.35L956.19,1891.4L954.58,1888.41L952.88,1885.41L951.07,1882.38L949.18,1879.33L947.2,1876.28L945.13,1873.22L942.98,1870.15L940.75,1867.09L938.44,1864.04L936.06,1861L933.61,1857.98L931.1,1854.98L928.53,1852.01L925.89,1849.07L923.21,1846.16L920.47,1843.3L917.69,1840.47L914.88,1837.7L912.02,1834.98L909.13,1832.32L906.22,1829.72L903.28,1827.19L900.32,1824.72L897.35,1822.33L894.37,1820.01L891.39,1817.78L888.41,1815.63L885.43,1813.56L882.46,1811.59L879.5,1809.71L876.56,1807.93L873.65,1806.25L870.76,1804.66L867.9,1803.19L865.09,1801.81L862.31,1800.55L859.57,1799.4L856.89,1798.36L854.25,1797.43L851.68,1796.62L849.17,1795.93L846.72,1795.35L844.34,1794.89L842.03,1794.55L839.8,1794.34L837.65,1794.24L835.58,1794.26L833.6,1794.4L831.71,1794.66L829.9,1795.04L828.2,1795.54L826.59,1796.16L825.08,1796.9L823.67,1797.75L822.37,1798.72L821.18,1799.8L820.09,1800.99L819.11,1802.29L818.24,1803.7L817.49,1805.21L816.85,1806.83L816.33,1808.55L815.92,1810.37L815.62,1812.28L815.45,1814.29L815.39,1816.38L815.45,1818.56L815.62,1820.83L815.92,1823.17L816.33,1825.59L816.85,1828.08L817.49,1830.64L818.24,1833.26L819.11,1835.94L820.09,1838.68L821.18,1841.47L822.37,1844.31L823.67,1847.19L825.08,1850.11L826.59,1853.06L828.2,1856.05L829.9,1859.05L831.71,1862.08L833.6,1865.13L835.58,1868.18L837.65,1871.24L839.8,1874.31L842.03,1877.37L844.34,1880.42L846.72,1883.46L849.17,1886.48L851.68,1889.48L854.25,1892.45L856.89,1895.39L859.57,1898.3L862.31,1901.16L865.09,1903.99L867.9,1906.76L870.76,1909.48L873.65,1912.14L876.56,1914.74L879.5,1917.27L882.46,1919.74L885.43,1922.13L888.41,1924.45L891.39,1926.68L894.37,1928.83L897.35,1930.9L900.32,1932.87L903.28,1934.75L906.22,1936.53L909.13,1938.21L912.02,1939.8L914.88,1941.27L917.69,1942.65L920.47,1943.91L923.21,1945.06L925.89,1946.1L928.53,1947.03L931.1,1947.84L933.61,1948.53L936.06,1949.11L938.44,1949.57L940.75,1949.91L942.98,1950.12L945.13,1950.22L947.2,1950.2L949.18,1950.06L951.07,1949.8L952.88,1949.42L954.58,1948.92L956.19,1948.3L957.7,1947.56L959.11,1946.71L960.41,1945.74L961.6,1944.66L962.69,1943.47L963.67,1942.17L964.54,1940.76L965.29,1939.25L965.93,1937.63L966.45,1935.91L966.86,1934.09L967.16,1932.18L967.33,1930.17Z" fill="#006fed"/>
<path d="M1417.85,1778.4L1417.76,1775.12L1417.47,1772L1417,1769.02L1416.34,1766.21L1415.49,1763.56L1414.45,1761.08L1413.23,1758.77L1411.83,1756.64L1410.25,1754.68L1408.49,1752.9L1406.55,1751.31L1404.44,1749.91L1402.17,1748.69L1399.72,1747.66L1397.12,1746.83L1394.36,1746.19L1391.44,1745.74L1388.38,1745.49L1385.17,1745.43L1381.82,1745.57L1378.34,1745.91L1374.73,1746.44L1371,1747.16L1367.15,1748.08L1363.19,1749.19L1359.12,1750.48L1354.95,1751.97L1350.69,1753.64L1346.35,1755.49L1341.92,1757.53L1337.42,1759.74L1332.86,1762.12L1328.24,1764.68L1323.56,1767.4L1318.85,1770.28L1314.09,1773.31L1309.31,1776.51L1304.5,1779.84L1299.68,1783.33L1294.85,1786.94L1290.02,1790.69L1285.2,1794.57L1280.39,1798.56L1275.61,1802.67L1270.85,1806.89L1266.14,1811.2L1261.46,1815.62L1256.84,1820.11L1252.28,1824.69L1247.78,1829.34L1243.35,1834.06L1239.01,1838.84L1234.75,1843.67L1230.58,1848.54L1226.51,1853.45L1222.55,1858.38L1218.7,1863.34L1214.97,1868.32L1211.36,1873.3L1207.88,1878.27L1204.53,1883.24L1201.32,1888.19L1198.26,1893.12L1195.34,1898.01L1192.58,1902.87L1189.98,1907.67L1187.53,1912.43L1185.26,1917.12L1183.15,1921.74L1181.21,1926.28L1179.45,1930.74L1177.87,1935.11L1176.47,1939.39L1175.25,1943.56L1174.21,1947.62L1173.36,1951.57L1172.7,1955.39L1172.23,1959.08L1171.94,1962.64L1171.85,1966.06L1171.94,1969.34L1172.23,1972.46L1172.7,1975.44L1173.36,1978.25L1174.21,1980.9L1175.25,1983.38L1176.47,1985.69L1177.87,1987.82L1179.45,1989.78L1181.21,1991.56L1183.15,1993.15L1185.26,1994.55L1187.53,1995.77L1189.98,1996.8L1192.58,1997.63L1195.34,1998.27L1198.26,1998.72L1201.32,1998.97L1204.53,1999.03L1207.88,1998.89L1211.36,1998.55L1214.97,1998.02L1218.7,1997.3L1222.55,1996.38L1226.51,1995.27L1230.58,1993.98L1234.75,1992.49L1239.01,1990.82L1243.35,1988.97L1247.78,1986.93L1252.28,1984.72L1256.84,1982.34L1261.46,1979.78L1266.14,1977.06L1270.85,1974.18L1275.61,1971.15L1280.39,1967.95L1285.2,1964.62L1290.02,1961.13L1294.85,1957.52L1299.68,1953.77L1304.5,1949.89L1309.31,1945.9L1314.09,1941.79L1318.85,1937.57L1323.56,1933.26L1328.24,1928.84L1332.86,1924.35L1337.42,1919.77L1341.92,1915.12L1346.35,1910.4L1350.69,1905.62L1354.95,1900.79L1359.12,1895.92L1363.19,1891.01L1367.15,1886.08L1371,1881.12L1374.73,1876.14L1378.34,1871.16L1381.82,1866.19L1385.17,1861.22L1388.38,1856.27L1391.44,1851.34L1394.36,1846.45L1397.12,1841.59L1399.72,1836.79L1402.17,1832.03L1404.44,1827.34L1406.55,1822.72L1408.49,1818.18L1410.25,1813.72L1411.83,1809.35L1413.23,1805.07L1414.45,1800.9L1415.49,1796.84L1416.34,1792.89L1417,1789.07L1417.47,1785.38L1417.76,1781.82Z" fill="#99c5f8" stroke="#7090c4" stroke-width="1.7"/>
<path d="M1370.85,1814.51L1370.79,1812.49L1370.62,1810.57L1370.32,1808.74L1369.91,1807.01L1369.39,1805.38L1368.75,1803.86L1368,1802.44L1367.13,1801.12L1366.15,1799.92L1365.06,1798.83L1363.87,1797.85L1362.57,1796.98L1361.16,1796.23L1359.65,1795.6L1358.04,1795.09L1356.34,1794.7L1354.53,1794.42L1352.64,1794.27L1350.66,1794.23L1348.59,1794.32L1346.44,1794.52L1344.21,1794.85L1341.9,1795.3L1339.52,1795.86L1337.07,1796.54L1334.56,1797.34L1331.99,1798.25L1329.35,1799.28L1326.67,1800.42L1323.93,1801.67L1321.15,1803.03L1318.34,1804.5L1315.48,1806.07L1312.59,1807.74L1309.68,1809.51L1306.74,1811.38L1303.78,1813.35L1300.81,1815.4L1297.83,1817.54L1294.85,1819.77L1291.87,1822.07L1288.89,1824.46L1285.92,1826.91L1282.96,1829.44L1280.02,1832.04L1277.11,1834.69L1274.22,1837.4L1271.36,1840.17L1268.55,1842.99L1265.77,1845.85L1263.03,1848.75L1260.35,1851.69L1257.71,1854.66L1255.14,1857.66L1252.63,1860.68L1250.18,1863.71L1247.8,1866.76L1245.49,1869.82L1243.26,1872.89L1241.11,1875.95L1239.04,1879L1237.06,1882.05L1235.17,1885.08L1233.36,1888.09L1231.66,1891.08L1230.05,1894.03L1228.54,1896.96L1227.13,1899.84L1225.83,1902.68L1224.64,1905.48L1223.55,1908.22L1222.57,1910.91L1221.7,1913.54L1220.95,1916.11L1220.31,1918.61L1219.79,1921.03L1219.38,1923.38L1219.08,1925.66L1218.91,1927.85L1218.85,1929.95L1218.91,1931.97L1219.08,1933.89L1219.38,1935.72L1219.79,1937.45L1220.31,1939.08L1220.95,1940.6L1221.7,1942.02L1222.57,1943.34L1223.55,1944.54L1224.64,1945.63L1225.83,1946.61L1227.13,1947.48L1228.54,1948.23L1230.05,1948.86L1231.66,1949.37L1233.36,1949.76L1235.17,1950.04L1237.06,1950.19L1239.04,1950.23L1241.11,1950.14L1243.26,1949.94L1245.49,1949.61L1247.8,1949.16L1250.18,1948.6L1252.63,1947.92L1255.14,1947.12L1257.71,1946.21L1260.35,1945.18L1263.03,1944.04L1265.77,1942.79L1268.55,1941.43L1271.36,1939.96L1274.22,1938.39L1277.11,1936.72L1280.02,1934.95L1282.96,1933.08L1285.92,1931.11L1288.89,1929.06L1291.87,1926.92L1294.85,1924.69L1297.83,1922.39L1300.81,1920L1303.78,1917.55L1306.74,1915.02L1309.68,1912.42L1312.59,1909.77L1315.48,1907.06L1318.34,1904.29L1321.15,1901.47L1323.93,1898.61L1326.67,1895.71L1329.35,1892.77L1331.99,1889.8L1334.56,1886.8L1337.07,1883.78L1339.52,1880.75L1341.9,1877.7L1344.21,1874.64L1346.44,1871.57L1348.59,1868.51L1350.66,1865.46L1352.64,1862.41L1354.53,1859.38L1356.34,1856.37L1358.04,1853.38L1359.65,1850.43L1361.16,1847.5L1362.57,1844.62L1363.87,1841.78L1365.06,1838.98L1366.15,1836.24L1367.13,1833.55L1368,1830.92L1368.75,1828.35L1369.39,1825.85L1369.91,1823.43L1370.32,1821.08L1370.62,1818.8L1370.79,1816.61Z" fill="#006fed"/>
<path d="M1821.31,1953L1821.22,1949.1L1820.93,1945.08L1820.46,1940.95L1819.8,1936.72L1818.95,1932.38L1817.91,1927.95L1816.69,1923.44L1815.29,1918.84L1813.71,1914.18L1811.95,1909.45L1810.01,1904.66L1807.9,1899.82L1805.63,1894.94L1803.18,1890.03L1800.58,1885.08L1797.82,1880.12L1794.9,1875.15L1791.84,1870.17L1788.63,1865.19L1785.28,1860.23L1781.8,1855.28L1778.19,1850.36L1774.46,1845.47L1770.61,1840.63L1766.65,1835.83L1762.58,1831.09L1758.41,1826.41L1754.15,1821.81L1749.81,1817.28L1745.38,1812.83L1740.88,1808.48L1736.32,1804.23L1731.7,1800.08L1727.02,1796.04L1722.31,1792.12L1717.55,1788.32L1712.77,1784.66L1707.96,1781.12L1703.14,1777.73L1698.31,1774.48L1693.48,1771.39L1688.66,1768.45L1683.85,1765.67L1679.07,1763.05L1674.31,1760.6L1669.6,1758.33L1664.92,1756.23L1660.3,1754.31L1655.74,1752.57L1651.24,1751.01L1646.81,1749.65L1642.47,1748.47L1638.21,1747.48L1634.04,1746.69L1629.97,1746.08L1626.01,1745.68L1622.16,1745.46L1618.43,1745.45L1614.82,1745.63L1611.34,1746L1607.99,1746.57L1604.78,1747.33L1601.72,1748.29L1598.8,1749.43L1596.04,1750.77L1593.44,1752.29L1590.99,1754L1588.72,1755.89L1586.61,1757.96L1584.67,1760.2L1582.91,1762.62L1581.33,1765.21L1579.93,1767.96L1578.71,1770.87L1577.67,1773.94L1576.82,1777.16L1576.16,1780.53L1575.69,1784.04L1575.4,1787.68L1575.31,1791.46L1575.4,1795.36L1575.69,1799.38L1576.16,1803.51L1576.82,1807.74L1577.67,1812.08L1578.71,1816.51L1579.93,1821.02L1581.33,1825.62L1582.91,1830.28L1584.67,1835.01L1586.61,1839.8L1588.72,1844.64L1590.99,1849.52L1593.44,1854.43L1596.04,1859.38L1598.8,1864.34L1601.72,1869.31L1604.78,1874.29L1607.99,1879.27L1611.34,1884.23L1614.82,1889.18L1618.43,1894.1L1622.16,1898.99L1626.01,1903.83L1629.97,1908.63L1634.04,1913.37L1638.21,1918.05L1642.47,1922.65L1646.81,1927.18L1651.24,1931.63L1655.74,1935.98L1660.3,1940.23L1664.92,1944.38L1669.6,1948.42L1674.31,1952.34L1679.07,1956.14L1683.85,1959.8L1688.66,1963.34L1693.48,1966.73L1698.31,1969.98L1703.14,1973.07L1707.96,1976.01L1712.77,1978.79L1717.55,1981.41L1722.31,1983.86L1727.02,1986.13L1731.7,1988.23L1736.32,1990.15L1740.88,1991.89L1745.38,1993.45L1749.81,1994.81L1754.15,1995.99L1758.41,1996.98L1762.58,1997.77L1766.65,1998.38L1770.61,1998.78L1774.46,1999L1778.19,1999.01L1781.8,1998.83L1785.28,1998.46L1788.63,1997.89L1791.84,1997.13L1794.9,1996.17L1797.82,1995.03L1800.58,1993.69L1803.18,1992.17L1805.63,1990.46L1807.9,1988.57L1810.01,1986.5L1811.95,1984.26L1813.71,1981.84L1815.29,1979.25L1816.69,1976.5L1817.91,1973.59L1818.95,1970.52L1819.8,1967.3L1820.46,1963.93L1820.93,1960.42L1821.22,1956.78Z" fill="#99c5f8" stroke="#7090c4" stroke-width="1.7"/>
<path d="M1774.31,1921.92L1774.25,1919.52L1774.08,1917.05L1773.78,1914.5L1773.37,1911.9L1772.85,1909.23L1772.21,1906.51L1771.46,1903.73L1770.59,1900.9L1769.61,1898.03L1768.52,1895.12L1767.33,1892.18L1766.03,1889.2L1764.62,1886.2L1763.11,1883.18L1761.5,1880.14L1759.8,1877.08L1757.99,1874.02L1756.1,1870.96L1754.12,1867.9L1752.05,1864.85L1749.9,1861.8L1747.67,1858.78L1745.36,1855.77L1742.98,1852.79L1740.53,1849.84L1738.02,1846.92L1735.45,1844.05L1732.81,1841.21L1730.13,1838.43L1727.39,1835.69L1724.61,1833.02L1721.8,1830.4L1718.94,1827.85L1716.05,1825.36L1713.14,1822.95L1710.2,1820.62L1707.24,1818.36L1704.27,1816.19L1701.29,1814.1L1698.31,1812.1L1695.33,1810.2L1692.35,1808.39L1689.38,1806.68L1686.42,1805.07L1683.48,1803.56L1680.57,1802.16L1677.68,1800.87L1674.82,1799.69L1672.01,1798.62L1669.23,1797.67L1666.49,1796.82L1663.81,1796.1L1661.17,1795.49L1658.6,1795L1656.09,1794.63L1653.64,1794.38L1651.26,1794.25L1648.95,1794.24L1646.72,1794.35L1644.57,1794.58L1642.5,1794.93L1640.52,1795.4L1638.63,1795.99L1636.82,1796.69L1635.12,1797.51L1633.51,1798.45L1632,1799.5L1630.59,1800.66L1629.29,1801.94L1628.1,1803.32L1627.01,1804.8L1626.03,1806.4L1625.16,1808.09L1624.41,1809.88L1623.77,1811.77L1623.25,1813.75L1622.84,1815.82L1622.54,1817.98L1622.37,1820.22L1622.31,1822.54L1622.37,1824.94L1622.54,1827.41L1622.84,1829.96L1623.25,1832.56L1623.77,1835.23L1624.41,1837.95L1625.16,1840.73L1626.03,1843.56L1627.01,1846.43L1628.1,1849.34L1629.29,1852.28L1630.59,1855.26L1632,1858.26L1633.51,1861.28L1635.12,1864.32L1636.82,1867.38L1638.63,1870.44L1640.52,1873.5L1642.5,1876.56L1644.57,1879.61L1646.72,1882.66L1648.95,1885.68L1651.26,1888.69L1653.64,1891.67L1656.09,1894.62L1658.6,1897.54L1661.17,1900.41L1663.81,1903.25L1666.49,1906.03L1669.23,1908.77L1672.01,1911.44L1674.82,1914.06L1677.68,1916.61L1680.57,1919.1L1683.48,1921.51L1686.42,1923.84L1689.38,1926.1L1692.35,1928.27L1695.33,1930.36L1698.31,1932.36L1701.29,1934.26L1704.27,1936.07L1707.24,1937.78L1710.2,1939.39L1713.14,1940.9L1716.05,1942.3L1718.94,1943.59L1721.8,1944.77L1724.61,1945.84L1727.39,1946.79L1730.13,1947.64L1732.81,1948.36L1735.45,1948.97L1738.02,1949.46L1740.53,1949.83L1742.98,1950.08L1745.36,1950.21L1747.67,1950.22L1749.9,1950.11L1752.05,1949.88L1754.12,1949.53L1756.1,1949.06L1757.99,1948.47L1759.8,1947.77L1761.5,1946.95L1763.11,1946.01L1764.62,1944.96L1766.03,1943.8L1767.33,1942.52L1768.52,1941.14L1769.61,1939.66L1770.59,1938.06L1771.46,1936.37L1772.21,1934.58L1772.85,1932.69L1773.37,1930.71L1773.78,1928.64L1774.08,1926.48L1774.25,1924.24Z" fill="#006fed"/>
<path d="M610.93,2240.47L610.84,2235.86L610.55,2231.34L610.08,2226.89L609.42,2222.54L608.57,2218.29L607.53,2214.14L606.31,2210.11L604.91,2206.19L603.33,2202.39L601.57,2198.73L599.63,2195.2L597.52,2191.81L595.25,2188.57L592.8,2185.47L590.2,2182.54L587.44,2179.76L584.52,2177.15L581.46,2174.7L578.25,2172.43L574.9,2170.33L571.42,2168.41L567.81,2166.68L564.08,2165.13L560.23,2163.76L556.27,2162.59L552.2,2161.6L548.03,2160.81L543.77,2160.21L539.43,2159.81L535,2159.6L530.5,2159.59L525.94,2159.77L521.32,2160.15L516.64,2160.72L511.93,2161.49L507.17,2162.44L502.39,2163.59L497.58,2164.93L492.76,2166.46L487.93,2168.17L483.1,2170.06L478.28,2172.14L473.47,2174.38L468.69,2176.81L463.93,2179.4L459.22,2182.15L454.54,2185.07L449.92,2188.14L445.36,2191.36L440.86,2194.73L436.43,2198.24L432.09,2201.89L427.83,2205.67L423.66,2209.57L419.59,2213.59L415.63,2217.72L411.78,2221.96L408.05,2226.3L404.44,2230.73L400.96,2235.25L397.61,2239.84L394.4,2244.51L391.34,2249.24L388.42,2254.03L385.66,2258.87L383.06,2263.75L380.61,2268.66L378.34,2273.61L376.23,2278.57L374.29,2283.54L372.53,2288.52L370.95,2293.5L369.55,2298.46L368.33,2303.41L367.29,2308.33L366.44,2313.22L365.78,2318.06L365.31,2322.86L365.02,2327.6L364.93,2332.27L365.02,2336.88L365.31,2341.4L365.78,2345.85L366.44,2350.2L367.29,2354.45L368.33,2358.6L369.55,2362.63L370.95,2366.55L372.53,2370.35L374.29,2374.01L376.23,2377.54L378.34,2380.93L380.61,2384.17L383.06,2387.27L385.66,2390.2L388.42,2392.98L391.34,2395.59L394.4,2398.04L397.61,2400.31L400.96,2402.41L404.44,2404.33L408.05,2406.06L411.78,2407.61L415.63,2408.98L419.59,2410.15L423.66,2411.14L427.83,2411.93L432.09,2412.53L436.43,2412.93L440.86,2413.14L445.36,2413.15L449.92,2412.97L454.54,2412.59L459.22,2412.02L463.93,2411.25L468.69,2410.3L473.47,2409.15L478.28,2407.81L483.1,2406.28L487.93,2404.57L492.76,2402.68L497.58,2400.6L502.39,2398.36L507.17,2395.93L511.93,2393.34L516.64,2390.59L521.32,2387.67L525.94,2384.6L530.5,2381.38L535,2378.01L539.43,2374.5L543.77,2370.85L548.03,2367.07L552.2,2363.17L556.27,2359.15L560.23,2355.02L564.08,2350.78L567.81,2346.44L571.42,2342.01L574.9,2337.49L578.25,2332.9L581.46,2328.23L584.52,2323.5L587.44,2318.71L590.2,2313.87L592.8,2308.99L595.25,2304.08L597.52,2299.13L599.63,2294.17L601.57,2289.2L603.33,2284.22L604.91,2279.24L606.31,2274.28L607.53,2269.33L608.57,2264.41L609.42,2259.52L610.08,2254.68L610.55,2249.88L610.84,2245.14Z" fill="#99c5f8" stroke="#7090c4" stroke-width="1.7"/>
<path d="M563.93,2258.13L563.87,2255.3L563.7,2252.52L563.4,2249.78L562.99,2247.11L562.47,2244.49L561.83,2241.94L561.08,2239.46L560.21,2237.05L559.23,2234.71L558.14,2232.46L556.95,2230.29L555.65,2228.2L554.24,2226.21L552.73,2224.3L551.12,2222.5L549.42,2220.79L547.61,2219.18L545.72,2217.68L543.74,2216.28L541.67,2214.99L539.52,2213.81L537.29,2212.74L534.98,2211.79L532.6,2210.95L530.15,2210.23L527.64,2209.62L525.07,2209.13L522.43,2208.77L519.75,2208.52L517.01,2208.39L514.23,2208.38L511.42,2208.49L508.56,2208.73L505.67,2209.08L502.76,2209.55L499.82,2210.14L496.86,2210.85L493.89,2211.67L490.91,2212.61L487.93,2213.66L484.95,2214.82L481.97,2216.1L479,2217.48L476.04,2218.97L473.1,2220.57L470.19,2222.26L467.3,2224.05L464.44,2225.94L461.63,2227.93L458.85,2230L456.11,2232.16L453.43,2234.4L450.79,2236.73L448.22,2239.13L445.71,2241.6L443.26,2244.14L440.88,2246.75L438.57,2249.42L436.34,2252.14L434.19,2254.92L432.12,2257.75L430.14,2260.62L428.25,2263.53L426.44,2266.48L424.74,2269.45L423.13,2272.45L421.62,2275.48L420.21,2278.52L418.91,2281.57L417.72,2284.63L416.63,2287.69L415.65,2290.76L414.78,2293.81L414.03,2296.85L413.39,2299.88L412.87,2302.88L412.46,2305.86L412.16,2308.81L411.99,2311.73L411.93,2314.61L411.99,2317.44L412.16,2320.22L412.46,2322.96L412.87,2325.63L413.39,2328.25L414.03,2330.8L414.78,2333.28L415.65,2335.69L416.63,2338.03L417.72,2340.28L418.91,2342.45L420.21,2344.54L421.62,2346.53L423.13,2348.44L424.74,2350.24L426.44,2351.95L428.25,2353.56L430.14,2355.06L432.12,2356.46L434.19,2357.75L436.34,2358.93L438.57,2360L440.88,2360.95L443.26,2361.79L445.71,2362.51L448.22,2363.12L450.79,2363.61L453.43,2363.97L456.11,2364.22L458.85,2364.35L461.63,2364.36L464.44,2364.25L467.3,2364.01L470.19,2363.66L473.1,2363.19L476.04,2362.6L479,2361.89L481.97,2361.07L484.95,2360.13L487.93,2359.08L490.91,2357.92L493.89,2356.64L496.86,2355.26L499.82,2353.77L502.76,2352.17L505.67,2350.48L508.56,2348.69L511.42,2346.8L514.23,2344.81L517.01,2342.74L519.75,2340.58L522.43,2338.34L525.07,2336.01L527.64,2333.61L530.15,2331.14L532.6,2328.6L534.98,2325.99L537.29,2323.32L539.52,2320.6L541.67,2317.82L543.74,2314.99L545.72,2312.12L547.61,2309.21L549.42,2306.26L551.12,2303.29L552.73,2300.29L554.24,2297.26L555.65,2294.22L556.95,2291.17L558.14,2288.11L559.23,2285.05L560.21,2281.98L561.08,2278.93L561.83,2275.89L562.47,2272.86L562.99,2269.86L563.4,2266.88L563.7,2263.93L563.87,2261.01Z" fill="#006fed"/>
<path d="M1014.39,2217.64L1014.3,2213.51L1014.01,2209.5L1013.54,2205.6L1012.88,2201.82L1012.03,2198.18L1010.99,2194.67L1009.77,2191.3L1008.37,2188.08L1006.79,2185.01L1005.03,2182.1L1003.09,2179.34L1000.98,2176.76L998.71,2174.34L996.26,2172.09L993.66,2170.03L990.9,2168.14L987.98,2166.43L984.92,2164.91L981.71,2163.57L978.36,2162.42L974.88,2161.47L971.27,2160.71L967.54,2160.14L963.69,2159.77L959.73,2159.59L955.66,2159.6L951.49,2159.82L947.23,2160.22L942.89,2160.83L938.46,2161.62L933.96,2162.61L929.4,2163.79L924.78,2165.16L920.1,2166.71L915.39,2168.45L910.63,2170.37L905.85,2172.47L901.04,2174.75L896.22,2177.19L891.39,2179.81L886.56,2182.59L881.74,2185.53L876.93,2188.63L872.15,2191.87L867.39,2195.27L862.68,2198.8L858,2202.47L853.38,2206.26L848.82,2210.18L844.32,2214.22L839.89,2218.37L835.55,2222.63L831.29,2226.98L827.12,2231.42L823.05,2235.95L819.09,2240.56L815.24,2245.23L811.51,2249.97L807.9,2254.77L804.42,2259.62L801.07,2264.5L797.86,2269.42L794.8,2274.37L791.88,2279.34L789.12,2284.31L786.52,2289.29L784.07,2294.27L781.8,2299.23L779.69,2304.17L777.75,2309.09L775.99,2313.97L774.41,2318.8L773.01,2323.59L771.79,2328.32L770.75,2332.99L769.9,2337.58L769.24,2342.09L768.77,2346.52L768.48,2350.86L768.39,2355.1L768.48,2359.23L768.77,2363.24L769.24,2367.14L769.9,2370.92L770.75,2374.56L771.79,2378.07L773.01,2381.44L774.41,2384.66L775.99,2387.73L777.75,2390.64L779.69,2393.4L781.8,2395.98L784.07,2398.4L786.52,2400.65L789.12,2402.71L791.88,2404.6L794.8,2406.31L797.86,2407.83L801.07,2409.17L804.42,2410.32L807.9,2411.27L811.51,2412.03L815.24,2412.6L819.09,2412.97L823.05,2413.15L827.12,2413.14L831.29,2412.92L835.55,2412.52L839.89,2411.91L844.32,2411.12L848.82,2410.13L853.38,2408.95L858,2407.58L862.68,2406.03L867.39,2404.29L872.15,2402.37L876.93,2400.27L881.74,2397.99L886.56,2395.55L891.39,2392.93L896.22,2390.15L901.04,2387.21L905.85,2384.11L910.63,2380.87L915.39,2377.47L920.1,2373.94L924.78,2370.27L929.4,2366.48L933.96,2362.56L938.46,2358.52L942.89,2354.37L947.23,2350.11L951.49,2345.76L955.66,2341.32L959.73,2336.79L963.69,2332.18L967.54,2327.51L971.27,2322.77L974.88,2317.97L978.36,2313.12L981.71,2308.24L984.92,2303.32L987.98,2298.37L990.9,2293.4L993.66,2288.43L996.26,2283.45L998.71,2278.47L1000.98,2273.51L1003.09,2268.57L1005.03,2263.65L1006.79,2258.77L1008.37,2253.94L1009.77,2249.15L1010.99,2244.42L1012.03,2239.75L1012.88,2235.16L1013.54,2230.65L1014.01,2226.22L1014.3,2221.88Z" fill="#99c5f8" stroke="#7090c4" stroke-width="1.7"/>
<path d="M967.39,2244.09L967.33,2241.55L967.16,2239.08L966.86,2236.68L966.45,2234.36L965.93,2232.12L965.29,2229.96L964.54,2227.89L963.67,2225.91L962.69,2224.02L961.6,2222.23L960.41,2220.53L959.11,2218.94L957.7,2217.46L956.19,2216.07L954.58,2214.8L952.88,2213.64L951.07,2212.59L949.18,2211.65L947.2,2210.83L945.13,2210.13L942.98,2209.54L940.75,2209.07L938.44,2208.72L936.06,2208.49L933.61,2208.38L931.1,2208.39L928.53,2208.52L925.89,2208.77L923.21,2209.14L920.47,2209.63L917.69,2210.24L914.88,2210.96L912.02,2211.81L909.13,2212.76L906.22,2213.83L903.28,2215.01L900.32,2216.31L897.35,2217.71L894.37,2219.21L891.39,2220.82L888.41,2222.53L885.43,2224.34L882.46,2226.24L879.5,2228.24L876.56,2230.33L873.65,2232.5L870.76,2234.76L867.9,2237.09L865.09,2239.5L862.31,2241.99L859.57,2244.54L856.89,2247.16L854.25,2249.84L851.68,2252.57L849.17,2255.35L846.72,2258.19L844.34,2261.07L842.03,2263.98L839.8,2266.93L837.65,2269.91L835.58,2272.92L833.6,2275.95L831.71,2278.99L829.9,2282.04L828.2,2285.1L826.59,2288.17L825.08,2291.23L823.67,2294.28L822.37,2297.32L821.18,2300.34L820.09,2303.35L819.11,2306.32L818.24,2309.27L817.49,2312.18L816.85,2315.05L816.33,2317.87L815.92,2320.65L815.62,2323.37L815.45,2326.04L815.39,2328.65L815.45,2331.19L815.62,2333.66L815.92,2336.06L816.33,2338.38L816.85,2340.62L817.49,2342.78L818.24,2344.85L819.11,2346.83L820.09,2348.72L821.18,2350.51L822.37,2352.21L823.67,2353.8L825.08,2355.28L826.59,2356.67L828.2,2357.94L829.9,2359.1L831.71,2360.15L833.6,2361.09L835.58,2361.91L837.65,2362.61L839.8,2363.2L842.03,2363.67L844.34,2364.02L846.72,2364.25L849.17,2364.36L851.68,2364.35L854.25,2364.22L856.89,2363.97L859.57,2363.6L862.31,2363.11L865.09,2362.5L867.9,2361.78L870.76,2360.93L873.65,2359.98L876.56,2358.91L879.5,2357.73L882.46,2356.43L885.43,2355.03L888.41,2353.53L891.39,2351.92L894.37,2350.21L897.35,2348.4L900.32,2346.5L903.28,2344.5L906.22,2342.41L909.13,2340.24L912.02,2337.98L914.88,2335.65L917.69,2333.24L920.47,2330.75L923.21,2328.2L925.89,2325.58L928.53,2322.9L931.1,2320.17L933.61,2317.39L936.06,2314.55L938.44,2311.67L940.75,2308.76L942.98,2305.81L945.13,2302.83L947.2,2299.82L949.18,2296.79L951.07,2293.75L952.88,2290.7L954.58,2287.64L956.19,2284.57L957.7,2281.51L959.11,2278.46L960.41,2275.42L961.6,2272.4L962.69,2269.39L963.67,2266.42L964.54,2263.47L965.29,2260.56L965.93,2257.69L966.45,2254.87L966.86,2252.09L967.16,2249.37L967.33,2246.7Z" fill="#006fed"/>
<path d="M1417.85,2361.69L1417.76,2357.63L1417.47,2353.45L1417,2349.18L1416.34,2344.8L1415.49,2340.34L1414.45,2335.8L1413.23,2331.17L1411.83,2326.48L1410.25,2321.73L1408.49,2316.92L1406.55,2312.06L1404.44,2307.17L1402.17,2302.24L1399.72,2297.29L1397.12,2292.32L1394.36,2287.35L1391.44,2282.37L1388.38,2277.4L1385.17,2272.44L1381.82,2267.5L1378.34,2262.59L1374.73,2257.72L1371,2252.89L1367.15,2248.12L1363.19,2243.4L1359.12,2238.75L1354.95,2234.17L1350.69,2229.68L1346.35,2225.27L1341.92,2220.95L1337.42,2216.74L1332.86,2212.63L1328.24,2208.64L1323.56,2204.77L1318.85,2201.02L1314.09,2197.4L1309.31,2193.92L1304.5,2190.59L1299.68,2187.4L1294.85,2184.36L1290.02,2181.49L1285.2,2178.77L1280.39,2176.22L1275.61,2173.84L1270.85,2171.63L1266.14,2169.6L1261.46,2167.75L1256.84,2166.08L1252.28,2164.6L1247.78,2163.31L1243.35,2162.2L1239.01,2161.29L1234.75,2160.57L1230.58,2160.04L1226.51,2159.71L1222.55,2159.57L1218.7,2159.63L1214.97,2159.89L1211.36,2160.34L1207.88,2160.98L1204.53,2161.82L1201.32,2162.85L1198.26,2164.07L1195.34,2165.48L1192.58,2167.07L1189.98,2168.85L1187.53,2170.81L1185.26,2172.95L1183.15,2175.26L1181.21,2177.75L1179.45,2180.4L1177.87,2183.22L1176.47,2186.19L1175.25,2189.32L1174.21,2192.6L1173.36,2196.02L1172.7,2199.58L1172.23,2203.28L1171.94,2207.1L1171.85,2211.05L1171.94,2215.11L1172.23,2219.29L1172.7,2223.56L1173.36,2227.94L1174.21,2232.4L1175.25,2236.94L1176.47,2241.57L1177.87,2246.26L1179.45,2251.01L1181.21,2255.82L1183.15,2260.68L1185.26,2265.57L1187.53,2270.5L1189.98,2275.45L1192.58,2280.42L1195.34,2285.39L1198.26,2290.37L1201.32,2295.34L1204.53,2300.3L1207.88,2305.24L1211.36,2310.15L1214.97,2315.02L1218.7,2319.85L1222.55,2324.62L1226.51,2329.34L1230.58,2333.99L1234.75,2338.57L1239.01,2343.06L1243.35,2347.47L1247.78,2351.79L1252.28,2356L1256.84,2360.11L1261.46,2364.1L1266.14,2367.97L1270.85,2371.72L1275.61,2375.34L1280.39,2378.82L1285.2,2382.15L1290.02,2385.34L1294.85,2388.38L1299.68,2391.25L1304.5,2393.97L1309.31,2396.52L1314.09,2398.9L1318.85,2401.11L1323.56,2403.14L1328.24,2404.99L1332.86,2406.66L1337.42,2408.14L1341.92,2409.43L1346.35,2410.54L1350.69,2411.45L1354.95,2412.17L1359.12,2412.7L1363.19,2413.03L1367.15,2413.17L1371,2413.11L1374.73,2412.85L1378.34,2412.4L1381.82,2411.76L1385.17,2410.92L1388.38,2409.89L1391.44,2408.67L1394.36,2407.26L1397.12,2405.67L1399.72,2403.89L1402.17,2401.93L1404.44,2399.79L1406.55,2397.48L1408.49,2394.99L1410.25,2392.34L1411.83,2389.52L1413.23,2386.55L1414.45,2383.42L1415.49,2380.14L1416.34,2376.72L1417,2373.16L1417.47,2369.46L1417.76,2365.64Z" fill="#99c5f8" stroke="#7090c4" stroke-width="1.7"/>
<path d="M1370.85,2332.7L1370.79,2330.2L1370.62,2327.64L1370.32,2325.01L1369.91,2322.32L1369.39,2319.57L1368.75,2316.77L1368,2313.93L1367.13,2311.04L1366.15,2308.12L1365.06,2305.16L1363.87,2302.18L1362.57,2299.16L1361.16,2296.13L1359.65,2293.09L1358.04,2290.03L1356.34,2286.97L1354.53,2283.91L1352.64,2280.85L1350.66,2277.8L1348.59,2274.76L1346.44,2271.74L1344.21,2268.75L1341.9,2265.78L1339.52,2262.84L1337.07,2259.94L1334.56,2257.08L1331.99,2254.26L1329.35,2251.5L1326.67,2248.78L1323.93,2246.13L1321.15,2243.54L1318.34,2241.01L1315.48,2238.55L1312.59,2236.17L1309.68,2233.87L1306.74,2231.64L1303.78,2229.5L1300.81,2227.45L1297.83,2225.49L1294.85,2223.62L1291.87,2221.85L1288.89,2220.18L1285.92,2218.61L1282.96,2217.15L1280.02,2215.79L1277.11,2214.54L1274.22,2213.4L1271.36,2212.38L1268.55,2211.46L1265.77,2210.67L1263.03,2209.99L1260.35,2209.43L1257.71,2208.98L1255.14,2208.66L1252.63,2208.46L1250.18,2208.37L1247.8,2208.41L1245.49,2208.57L1243.26,2208.84L1241.11,2209.24L1239.04,2209.75L1237.06,2210.39L1235.17,2211.14L1233.36,2212L1231.66,2212.99L1230.05,2214.08L1228.54,2215.29L1227.13,2216.6L1225.83,2218.02L1224.64,2219.55L1223.55,2221.18L1222.57,2222.92L1221.7,2224.75L1220.95,2226.67L1220.31,2228.69L1219.79,2230.79L1219.38,2232.98L1219.08,2235.26L1218.91,2237.61L1218.85,2240.04L1218.91,2242.54L1219.08,2245.1L1219.38,2247.73L1219.79,2250.42L1220.31,2253.17L1220.95,2255.97L1221.7,2258.81L1222.57,2261.7L1223.55,2264.62L1224.64,2267.58L1225.83,2270.56L1227.13,2273.58L1228.54,2276.61L1230.05,2279.65L1231.66,2282.71L1233.36,2285.77L1235.17,2288.83L1237.06,2291.89L1239.04,2294.94L1241.11,2297.98L1243.26,2301L1245.49,2303.99L1247.8,2306.96L1250.18,2309.9L1252.63,2312.8L1255.14,2315.66L1257.71,2318.48L1260.35,2321.24L1263.03,2323.96L1265.77,2326.61L1268.55,2329.2L1271.36,2331.73L1274.22,2334.19L1277.11,2336.57L1280.02,2338.87L1282.96,2341.1L1285.92,2343.24L1288.89,2345.29L1291.87,2347.25L1294.85,2349.12L1297.83,2350.89L1300.81,2352.56L1303.78,2354.13L1306.74,2355.59L1309.68,2356.95L1312.59,2358.2L1315.48,2359.34L1318.34,2360.36L1321.15,2361.28L1323.93,2362.07L1326.67,2362.75L1329.35,2363.31L1331.99,2363.76L1334.56,2364.08L1337.07,2364.28L1339.52,2364.37L1341.9,2364.33L1344.21,2364.17L1346.44,2363.9L1348.59,2363.5L1350.66,2362.99L1352.64,2362.35L1354.53,2361.6L1356.34,2360.74L1358.04,2359.75L1359.65,2358.66L1361.16,2357.45L1362.57,2356.14L1363.87,2354.72L1365.06,2353.19L1366.15,2351.56L1367.13,2349.82L1368,2347.99L1368.75,2346.07L1369.39,2344.05L1369.91,2341.95L1370.32,2339.76L1370.62,2337.48L1370.79,2335.13Z" fill="#006fed"/>
<path d="M1821.31,2188.35L1821.22,2185.27L1820.93,2182.34L1820.46,2179.58L1819.8,2176.98L1818.95,2174.54L1817.91,2172.28L1816.69,2170.2L1815.29,2168.29L1813.71,2166.57L1811.95,2165.03L1810.01,2163.68L1807.9,2162.52L1805.63,2161.55L1803.18,2160.77L1800.58,2160.18L1797.82,2159.79L1794.9,2159.59L1791.84,2159.59L1788.63,2159.79L1785.28,2160.18L1781.8,2160.77L1778.19,2161.54L1774.46,2162.52L1770.61,2163.68L1766.65,2165.03L1762.58,2166.57L1758.41,2168.29L1754.15,2170.2L1749.81,2172.28L1745.38,2174.54L1740.88,2176.97L1736.32,2179.58L1731.7,2182.34L1727.02,2185.27L1722.31,2188.35L1717.55,2191.58L1712.77,2194.96L1707.96,2198.49L1703.14,2202.14L1698.31,2205.93L1693.48,2209.84L1688.66,2213.87L1683.85,2218.01L1679.07,2222.25L1674.31,2226.6L1669.6,2231.03L1664.92,2235.55L1660.3,2240.15L1655.74,2244.82L1651.24,2249.56L1646.81,2254.35L1642.47,2259.19L1638.21,2264.08L1634.04,2268.99L1629.97,2273.94L1626.01,2278.9L1622.16,2283.88L1618.43,2288.86L1614.82,2293.83L1611.34,2298.8L1607.99,2303.74L1604.78,2308.66L1601.72,2313.54L1598.8,2318.38L1596.04,2323.18L1593.44,2327.91L1590.99,2332.58L1588.72,2337.18L1586.61,2341.7L1584.67,2346.14L1582.91,2350.49L1581.33,2354.73L1579.93,2358.87L1578.71,2362.9L1577.67,2366.81L1576.82,2370.6L1576.16,2374.25L1575.69,2377.77L1575.4,2381.15L1575.31,2384.39L1575.4,2387.47L1575.69,2390.4L1576.16,2393.16L1576.82,2395.76L1577.67,2398.2L1578.71,2400.46L1579.93,2402.54L1581.33,2404.45L1582.91,2406.17L1584.67,2407.71L1586.61,2409.06L1588.72,2410.22L1590.99,2411.19L1593.44,2411.97L1596.04,2412.56L1598.8,2412.95L1601.72,2413.15L1604.78,2413.15L1607.99,2412.95L1611.34,2412.56L1614.82,2411.97L1618.43,2411.2L1622.16,2410.22L1626.01,2409.06L1629.97,2407.71L1634.04,2406.17L1638.21,2404.45L1642.47,2402.54L1646.81,2400.46L1651.24,2398.2L1655.74,2395.77L1660.3,2393.16L1664.92,2390.4L1669.6,2387.47L1674.31,2384.39L1679.07,2381.16L1683.85,2377.78L1688.66,2374.25L1693.48,2370.6L1698.31,2366.81L1703.14,2362.9L1707.96,2358.87L1712.77,2354.73L1717.55,2350.49L1722.31,2346.14L1727.02,2341.71L1731.7,2337.19L1736.32,2332.59L1740.88,2327.92L1745.38,2323.18L1749.81,2318.39L1754.15,2313.55L1758.41,2308.66L1762.58,2303.75L1766.65,2298.8L1770.61,2293.84L1774.46,2288.86L1778.19,2283.88L1781.8,2278.91L1785.28,2273.94L1788.63,2269L1791.84,2264.08L1794.9,2259.2L1797.82,2254.36L1800.58,2249.56L1803.18,2244.83L1805.63,2240.16L1807.9,2235.56L1810.01,2231.04L1811.95,2226.6L1813.71,2222.25L1815.29,2218.01L1816.69,2213.87L1817.91,2209.84L1818.95,2205.93L1819.8,2202.14L1820.46,2198.49L1820.93,2194.97L1821.22,2191.59Z" fill="#99c5f8" stroke="#7090c4" stroke-width="1.7"/>
<path d="M1774.31,2226.08L1774.25,2224.18L1774.08,2222.38L1773.78,2220.68L1773.37,2219.08L1772.85,2217.58L1772.21,2216.19L1771.46,2214.91L1770.59,2213.74L1769.61,2212.68L1768.52,2211.73L1767.33,2210.9L1766.03,2210.18L1764.62,2209.58L1763.11,2209.11L1761.5,2208.75L1759.8,2208.51L1757.99,2208.39L1756.1,2208.39L1754.12,2208.51L1752.05,2208.75L1749.9,2209.11L1747.67,2209.58L1745.36,2210.18L1742.98,2210.9L1740.53,2211.73L1738.02,2212.67L1735.45,2213.73L1732.81,2214.91L1730.13,2216.19L1727.39,2217.58L1724.61,2219.08L1721.8,2220.68L1718.94,2222.38L1716.05,2224.18L1713.14,2226.07L1710.2,2228.06L1707.24,2230.14L1704.27,2232.31L1701.29,2234.56L1698.31,2236.89L1695.33,2239.29L1692.35,2241.77L1689.38,2244.32L1686.42,2246.93L1683.48,2249.6L1680.57,2252.33L1677.68,2255.11L1674.82,2257.94L1672.01,2260.81L1669.23,2263.73L1666.49,2266.67L1663.81,2269.65L1661.17,2272.66L1658.6,2275.68L1656.09,2278.72L1653.64,2281.78L1651.26,2284.84L1648.95,2287.9L1646.72,2290.96L1644.57,2294.01L1642.5,2297.06L1640.52,2300.08L1638.63,2303.08L1636.82,2306.06L1635.12,2309.01L1633.51,2311.92L1632,2314.8L1630.59,2317.63L1629.29,2320.41L1628.1,2323.14L1627.01,2325.81L1626.03,2328.42L1625.16,2330.97L1624.41,2333.45L1623.77,2335.85L1623.25,2338.18L1622.84,2340.43L1622.54,2342.6L1622.37,2344.67L1622.31,2346.66L1622.37,2348.56L1622.54,2350.36L1622.84,2352.06L1623.25,2353.66L1623.77,2355.16L1624.41,2356.55L1625.16,2357.83L1626.03,2359L1627.01,2360.06L1628.1,2361.01L1629.29,2361.84L1630.59,2362.56L1632,2363.16L1633.51,2363.63L1635.12,2363.99L1636.82,2364.23L1638.63,2364.35L1640.52,2364.35L1642.5,2364.23L1644.57,2363.99L1646.72,2363.63L1648.95,2363.16L1651.26,2362.56L1653.64,2361.84L1656.09,2361.01L1658.6,2360.07L1661.17,2359.01L1663.81,2357.83L1666.49,2356.55L1669.23,2355.16L1672.01,2353.66L1674.82,2352.06L1677.68,2350.36L1680.57,2348.56L1683.48,2346.67L1686.42,2344.68L1689.38,2342.6L1692.35,2340.43L1695.33,2338.18L1698.31,2335.85L1701.29,2333.45L1704.27,2330.97L1707.24,2328.42L1710.2,2325.81L1713.14,2323.14L1716.05,2320.41L1718.94,2317.63L1721.8,2314.8L1724.61,2311.93L1727.39,2309.01L1730.13,2306.07L1732.81,2303.09L1735.45,2300.08L1738.02,2297.06L1740.53,2294.02L1742.98,2290.96L1745.36,2287.9L1747.67,2284.84L1749.9,2281.78L1752.05,2278.73L1754.12,2275.68L1756.1,2272.66L1757.99,2269.66L1759.8,2266.68L1761.5,2263.73L1763.11,2260.82L1764.62,2257.94L1766.03,2255.11L1767.33,2252.33L1768.52,2249.6L1769.61,2246.93L1770.59,2244.32L1771.46,2241.77L1772.21,2239.29L1772.85,2236.89L1773.37,2234.56L1773.78,2232.31L1774.08,2230.14L1774.25,2228.07Z" fill="#006fed"/>
<path d="M2224.77,2386.16L2224.68,2383.01L2224.39,2379.72L2223.92,2376.27L2223.26,2372.7L2222.41,2368.98L2221.37,2365.14L2220.15,2361.18L2218.75,2357.1L2217.17,2352.92L2215.41,2348.63L2213.47,2344.24L2211.36,2339.77L2209.09,2335.21L2206.64,2330.58L2204.04,2325.88L2201.28,2321.12L2198.36,2316.31L2195.3,2311.45L2192.09,2306.55L2188.74,2301.62L2185.26,2296.66L2181.65,2291.69L2177.92,2286.72L2174.07,2281.74L2170.11,2276.77L2166.04,2271.81L2161.87,2266.88L2157.61,2261.97L2153.27,2257.11L2148.84,2252.28L2144.34,2247.52L2139.78,2242.81L2135.16,2238.16L2130.48,2233.6L2125.77,2229.11L2121.01,2224.71L2116.23,2220.41L2111.42,2216.21L2106.6,2212.12L2101.77,2208.14L2096.94,2204.28L2092.12,2200.55L2087.31,2196.95L2082.53,2193.49L2077.77,2190.18L2073.06,2187.01L2068.38,2183.99L2063.76,2181.13L2059.2,2178.44L2054.7,2175.91L2050.27,2173.55L2045.93,2171.36L2041.67,2169.35L2037.5,2167.53L2033.43,2165.88L2029.47,2164.42L2025.62,2163.15L2021.89,2162.07L2018.28,2161.19L2014.8,2160.49L2011.45,2159.99L2008.24,2159.68L2005.18,2159.57L2002.26,2159.65L1999.5,2159.93L1996.9,2160.41L1994.45,2161.08L1992.18,2161.94L1990.07,2162.99L1988.13,2164.24L1986.37,2165.67L1984.79,2167.29L1983.39,2169.09L1982.17,2171.07L1981.13,2173.23L1980.28,2175.57L1979.62,2178.08L1979.15,2180.75L1978.86,2183.58L1978.77,2186.58L1978.86,2189.73L1979.15,2193.02L1979.62,2196.47L1980.28,2200.04L1981.13,2203.76L1982.17,2207.6L1983.39,2211.56L1984.79,2215.64L1986.37,2219.82L1988.13,2224.11L1990.07,2228.5L1992.18,2232.97L1994.45,2237.53L1996.9,2242.16L1999.5,2246.86L2002.26,2251.62L2005.18,2256.43L2008.24,2261.29L2011.45,2266.19L2014.8,2271.12L2018.28,2276.08L2021.89,2281.05L2025.62,2286.02L2029.47,2291L2033.43,2295.97L2037.5,2300.93L2041.67,2305.86L2045.93,2310.77L2050.27,2315.63L2054.7,2320.46L2059.2,2325.22L2063.76,2329.93L2068.38,2334.58L2073.06,2339.14L2077.77,2343.63L2082.53,2348.03L2087.31,2352.33L2092.12,2356.53L2096.94,2360.62L2101.77,2364.6L2106.6,2368.46L2111.42,2372.19L2116.23,2375.79L2121.01,2379.25L2125.77,2382.56L2130.48,2385.73L2135.16,2388.75L2139.78,2391.61L2144.34,2394.3L2148.84,2396.83L2153.27,2399.19L2157.61,2401.38L2161.87,2403.39L2166.04,2405.21L2170.11,2406.86L2174.07,2408.32L2177.92,2409.59L2181.65,2410.67L2185.26,2411.55L2188.74,2412.25L2192.09,2412.75L2195.3,2413.06L2198.36,2413.17L2201.28,2413.09L2204.04,2412.81L2206.64,2412.33L2209.09,2411.66L2211.36,2410.8L2213.47,2409.75L2215.41,2408.5L2217.17,2407.07L2218.75,2405.45L2220.15,2403.65L2221.37,2401.67L2222.41,2399.51L2223.26,2397.17L2223.92,2394.66L2224.39,2391.99L2224.68,2389.16Z" fill="#99c5f8" stroke="#7090c4" stroke-width="1.7"/>
<path d="M2177.77,2347.76L2177.71,2345.82L2177.54,2343.79L2177.24,2341.67L2176.83,2339.47L2176.31,2337.19L2175.67,2334.83L2174.92,2332.39L2174.05,2329.88L2173.07,2327.31L2171.98,2324.67L2170.79,2321.97L2169.49,2319.22L2168.08,2316.42L2166.57,2313.57L2164.96,2310.68L2163.26,2307.75L2161.45,2304.79L2159.56,2301.8L2157.58,2298.78L2155.51,2295.75L2153.36,2292.7L2151.13,2289.64L2148.82,2286.58L2146.44,2283.52L2143.99,2280.46L2141.48,2277.41L2138.91,2274.38L2136.27,2271.36L2133.59,2268.37L2130.85,2265.4L2128.07,2262.47L2125.26,2259.57L2122.4,2256.72L2119.51,2253.91L2116.6,2251.15L2113.66,2248.44L2110.7,2245.8L2107.73,2243.21L2104.75,2240.69L2101.77,2238.25L2098.79,2235.87L2095.81,2233.58L2092.84,2231.37L2089.88,2229.24L2086.94,2227.2L2084.03,2225.25L2081.14,2223.39L2078.28,2221.63L2075.47,2219.98L2072.69,2218.42L2069.95,2216.97L2067.27,2215.62L2064.63,2214.39L2062.06,2213.26L2059.55,2212.25L2057.1,2211.36L2054.72,2210.58L2052.41,2209.91L2050.18,2209.36L2048.03,2208.94L2045.96,2208.63L2043.98,2208.44L2042.09,2208.37L2040.28,2208.42L2038.58,2208.59L2036.97,2208.89L2035.46,2209.3L2034.05,2209.83L2032.75,2210.48L2031.56,2211.24L2030.47,2212.12L2029.49,2213.12L2028.62,2214.23L2027.87,2215.45L2027.23,2216.78L2026.71,2218.21L2026.3,2219.75L2026,2221.4L2025.83,2223.14L2025.77,2224.98L2025.83,2226.92L2026,2228.95L2026.3,2231.07L2026.71,2233.27L2027.23,2235.55L2027.87,2237.91L2028.62,2240.35L2029.49,2242.86L2030.47,2245.43L2031.56,2248.07L2032.75,2250.77L2034.05,2253.52L2035.46,2256.32L2036.97,2259.17L2038.58,2262.06L2040.28,2264.99L2042.09,2267.95L2043.98,2270.94L2045.96,2273.96L2048.03,2276.99L2050.18,2280.04L2052.41,2283.1L2054.72,2286.16L2057.1,2289.22L2059.55,2292.28L2062.06,2295.33L2064.63,2298.36L2067.27,2301.38L2069.95,2304.37L2072.69,2307.34L2075.47,2310.27L2078.28,2313.17L2081.14,2316.02L2084.03,2318.83L2086.94,2321.59L2089.88,2324.3L2092.84,2326.94L2095.81,2329.53L2098.79,2332.05L2101.77,2334.49L2104.75,2336.87L2107.73,2339.16L2110.7,2341.37L2113.66,2343.5L2116.6,2345.54L2119.51,2347.49L2122.4,2349.35L2125.26,2351.11L2128.07,2352.76L2130.85,2354.32L2133.59,2355.77L2136.27,2357.12L2138.91,2358.35L2141.48,2359.48L2143.99,2360.49L2146.44,2361.38L2148.82,2362.16L2151.13,2362.83L2153.36,2363.38L2155.51,2363.8L2157.58,2364.11L2159.56,2364.3L2161.45,2364.37L2163.26,2364.32L2164.96,2364.15L2166.57,2363.85L2168.08,2363.44L2169.49,2362.91L2170.79,2362.26L2171.98,2361.5L2173.07,2360.62L2174.05,2359.62L2174.92,2358.51L2175.67,2357.29L2176.31,2355.96L2176.83,2354.53L2177.24,2352.99L2177.54,2351.34L2177.71,2349.6Z" fill="#006fed"/>
<path d="M610.93,2633.31L610.84,2629.14L610.55,2625.08L610.08,2621.13L609.42,2617.31L608.57,2613.62L607.53,2610.06L606.31,2606.64L604.91,2603.37L603.33,2600.24L601.57,2597.27L599.63,2594.46L597.52,2591.81L595.25,2589.34L592.8,2587.03L590.2,2584.89L587.44,2582.94L584.52,2581.16L581.46,2579.58L578.25,2578.17L574.9,2576.96L571.42,2575.93L567.81,2575.1L564.08,2574.46L560.23,2574.02L556.27,2573.77L552.2,2573.71L548.03,2573.86L543.77,2574.19L539.43,2574.73L535,2575.45L530.5,2576.37L525.94,2577.48L521.32,2578.78L516.64,2580.27L511.93,2581.94L507.17,2583.79L502.39,2585.83L497.58,2588.04L492.76,2590.43L487.93,2592.98L483.1,2595.71L478.28,2598.59L473.47,2601.63L468.69,2604.82L463.93,2608.16L459.22,2611.64L454.54,2615.26L449.92,2619.01L445.36,2622.89L440.86,2626.89L436.43,2631L432.09,2635.21L427.83,2639.53L423.66,2643.94L419.59,2648.44L415.63,2653.02L411.78,2657.67L408.05,2662.39L404.44,2667.17L400.96,2672L397.61,2676.87L394.4,2681.78L391.34,2686.72L388.42,2691.68L385.66,2696.65L383.06,2701.63L380.61,2706.61L378.34,2711.57L376.23,2716.52L374.29,2721.45L372.53,2726.34L370.95,2731.2L369.55,2736L368.33,2740.76L367.29,2745.45L366.44,2750.07L365.78,2754.61L365.31,2759.07L365.02,2763.44L364.93,2767.71L365.02,2771.88L365.31,2775.94L365.78,2779.89L366.44,2783.71L367.29,2787.4L368.33,2790.96L369.55,2794.38L370.95,2797.65L372.53,2800.78L374.29,2803.75L376.23,2806.56L378.34,2809.21L380.61,2811.68L383.06,2813.99L385.66,2816.13L388.42,2818.08L391.34,2819.86L394.4,2821.44L397.61,2822.85L400.96,2824.06L404.44,2825.09L408.05,2825.92L411.78,2826.56L415.63,2827L419.59,2827.25L423.66,2827.31L427.83,2827.16L432.09,2826.83L436.43,2826.29L440.86,2825.57L445.36,2824.65L449.92,2823.54L454.54,2822.24L459.22,2820.75L463.93,2819.08L468.69,2817.23L473.47,2815.19L478.28,2812.98L483.1,2810.59L487.93,2808.04L492.76,2805.31L497.58,2802.43L502.39,2799.39L507.17,2796.2L511.93,2792.86L516.64,2789.38L521.32,2785.76L525.94,2782.01L530.5,2778.13L535,2774.13L539.43,2770.02L543.77,2765.81L548.03,2761.49L552.2,2757.08L556.27,2752.58L560.23,2748L564.08,2743.35L567.81,2738.63L571.42,2733.85L574.9,2729.02L578.25,2724.15L581.46,2719.24L584.52,2714.3L587.44,2709.34L590.2,2704.37L592.8,2699.39L595.25,2694.41L597.52,2689.45L599.63,2684.5L601.57,2679.57L603.33,2674.68L604.91,2669.82L606.31,2665.02L607.53,2660.26L608.57,2655.57L609.42,2650.95L610.08,2646.41L610.55,2641.95L610.84,2637.58Z" fill="#99c5f8" stroke="#7090c4" stroke-width="1.7"/>
<path d="M563.93,2659.17L563.87,2656.61L563.7,2654.11L563.4,2651.68L562.99,2649.33L562.47,2647.06L561.83,2644.87L561.08,2642.77L560.21,2640.75L559.23,2638.83L558.14,2637L556.95,2635.28L555.65,2633.65L554.24,2632.12L552.73,2630.7L551.12,2629.39L549.42,2628.19L547.61,2627.1L545.72,2626.12L543.74,2625.25L541.67,2624.51L539.52,2623.88L537.29,2623.37L534.98,2622.97L532.6,2622.7L530.15,2622.55L527.64,2622.51L525.07,2622.6L522.43,2622.81L519.75,2623.13L517.01,2623.58L514.23,2624.15L511.42,2624.83L508.56,2625.63L505.67,2626.54L502.76,2627.57L499.82,2628.71L496.86,2629.97L493.89,2631.33L490.91,2632.79L487.93,2634.37L484.95,2636.04L481.97,2637.81L479,2639.68L476.04,2641.65L473.1,2643.7L470.19,2645.84L467.3,2648.07L464.44,2650.38L461.63,2652.76L458.85,2655.22L456.11,2657.75L453.43,2660.34L450.79,2663L448.22,2665.71L445.71,2668.48L443.26,2671.3L440.88,2674.16L438.57,2677.06L436.34,2680L434.19,2682.97L432.12,2685.97L430.14,2688.99L428.25,2692.03L426.44,2695.08L424.74,2698.14L423.13,2701.2L421.62,2704.26L420.21,2707.32L418.91,2710.36L417.72,2713.39L416.63,2716.4L415.65,2719.39L414.78,2722.34L414.03,2725.27L413.39,2728.15L412.87,2730.99L412.46,2733.79L412.16,2736.53L411.99,2739.22L411.93,2741.85L411.99,2744.41L412.16,2746.91L412.46,2749.34L412.87,2751.69L413.39,2753.96L414.03,2756.15L414.78,2758.25L415.65,2760.27L416.63,2762.19L417.72,2764.02L418.91,2765.74L420.21,2767.37L421.62,2768.9L423.13,2770.32L424.74,2771.63L426.44,2772.83L428.25,2773.92L430.14,2774.9L432.12,2775.77L434.19,2776.51L436.34,2777.14L438.57,2777.65L440.88,2778.05L443.26,2778.32L445.71,2778.47L448.22,2778.51L450.79,2778.42L453.43,2778.21L456.11,2777.89L458.85,2777.44L461.63,2776.87L464.44,2776.19L467.3,2775.39L470.19,2774.48L473.1,2773.45L476.04,2772.31L479,2771.05L481.97,2769.69L484.95,2768.23L487.93,2766.65L490.91,2764.98L493.89,2763.21L496.86,2761.34L499.82,2759.37L502.76,2757.32L505.67,2755.18L508.56,2752.95L511.42,2750.64L514.23,2748.26L517.01,2745.8L519.75,2743.27L522.43,2740.68L525.07,2738.02L527.64,2735.31L530.15,2732.54L532.6,2729.72L534.98,2726.86L537.29,2723.96L539.52,2721.02L541.67,2718.05L543.74,2715.05L545.72,2712.03L547.61,2708.99L549.42,2705.94L551.12,2702.88L552.73,2699.82L554.24,2696.76L555.65,2693.7L556.95,2690.66L558.14,2687.63L559.23,2684.62L560.21,2681.63L561.08,2678.68L561.83,2675.75L562.47,2672.87L562.99,2670.03L563.4,2667.23L563.7,2664.49L563.87,2661.8Z" fill="#006fed"/>
<path d="M1014.39,2767.71L1014.3,2763.44L1014.01,2759.07L1013.54,2754.61L1012.88,2750.07L1012.03,2745.45L1010.99,2740.76L1009.77,2736L1008.37,2731.2L1006.79,2726.34L1005.03,2721.45L1003.09,2716.52L1000.98,2711.57L998.71,2706.61L996.26,2701.63L993.66,2696.65L990.9,2691.68L987.98,2686.72L984.92,2681.78L981.71,2676.87L978.36,2672L974.88,2667.17L971.27,2662.39L967.54,2657.67L963.69,2653.02L959.73,2648.44L955.66,2643.94L951.49,2639.53L947.23,2635.21L942.89,2631L938.46,2626.89L933.96,2622.89L929.4,2619.01L924.78,2615.26L920.1,2611.64L915.39,2608.16L910.63,2604.82L905.85,2601.63L901.04,2598.59L896.22,2595.71L891.39,2592.98L886.56,2590.43L881.74,2588.04L876.93,2585.83L872.15,2583.79L867.39,2581.94L862.68,2580.27L858,2578.78L853.38,2577.48L848.82,2576.37L844.32,2575.45L839.89,2574.73L835.55,2574.19L831.29,2573.86L827.12,2573.71L823.05,2573.77L819.09,2574.02L815.24,2574.46L811.51,2575.1L807.9,2575.93L804.42,2576.96L801.07,2578.17L797.86,2579.58L794.8,2581.16L791.88,2582.94L789.12,2584.89L786.52,2587.03L784.07,2589.34L781.8,2591.81L779.69,2594.46L777.75,2597.27L775.99,2600.24L774.41,2603.37L773.01,2606.64L771.79,2610.06L770.75,2613.62L769.9,2617.31L769.24,2621.13L768.77,2625.08L768.48,2629.14L768.39,2633.31L768.48,2637.58L768.77,2641.95L769.24,2646.41L769.9,2650.95L770.75,2655.57L771.79,2660.26L773.01,2665.02L774.41,2669.82L775.99,2674.68L777.75,2679.57L779.69,2684.5L781.8,2689.45L784.07,2694.41L786.52,2699.39L789.12,2704.37L791.88,2709.34L794.8,2714.3L797.86,2719.24L801.07,2724.15L804.42,2729.02L807.9,2733.85L811.51,2738.63L815.24,2743.35L819.09,2748L823.05,2752.58L827.12,2757.08L831.29,2761.49L835.55,2765.81L839.89,2770.02L844.32,2774.13L848.82,2778.13L853.38,2782.01L858,2785.76L862.68,2789.38L867.39,2792.86L872.15,2796.2L876.93,2799.39L881.74,2802.43L886.56,2805.31L891.39,2808.04L896.22,2810.59L901.04,2812.98L905.85,2815.19L910.63,2817.23L915.39,2819.08L920.1,2820.75L924.78,2822.24L929.4,2823.54L933.96,2824.65L938.46,2825.57L942.89,2826.29L947.23,2826.83L951.49,2827.16L955.66,2827.31L959.73,2827.25L963.69,2827L967.54,2826.56L971.27,2825.92L974.88,2825.09L978.36,2824.06L981.71,2822.85L984.92,2821.44L987.98,2819.86L990.9,2818.08L993.66,2816.13L996.26,2813.99L998.71,2811.68L1000.98,2809.21L1003.09,2806.56L1005.03,2803.75L1006.79,2800.78L1008.37,2797.65L1009.77,2794.38L1010.99,2790.96L1012.03,2787.4L1012.88,2783.71L1013.54,2779.89L1014.01,2775.94L1014.3,2771.88Z" fill="#99c5f8" stroke="#7090c4" stroke-width="1.7"/>
<path d="M967.39,2741.85L967.33,2739.22L967.16,2736.53L966.86,2733.79L966.45,2730.99L965.93,2728.15L965.29,2725.27L964.54,2722.34L963.67,2719.39L962.69,2716.4L961.6,2713.39L960.41,2710.36L959.11,2707.32L957.7,2704.26L956.19,2701.2L954.58,2698.14L952.88,2695.08L951.07,2692.03L949.18,2688.99L947.2,2685.97L945.13,2682.97L942.98,2680L940.75,2677.06L938.44,2674.16L936.06,2671.3L933.61,2668.48L931.1,2665.71L928.53,2663L925.89,2660.34L923.21,2657.75L920.47,2655.22L917.69,2652.76L914.88,2650.38L912.02,2648.07L909.13,2645.84L906.22,2643.7L903.28,2641.65L900.32,2639.68L897.35,2637.81L894.37,2636.04L891.39,2634.37L888.41,2632.79L885.43,2631.33L882.46,2629.97L879.5,2628.71L876.56,2627.57L873.65,2626.54L870.76,2625.63L867.9,2624.83L865.09,2624.15L862.31,2623.58L859.57,2623.13L856.89,2622.81L854.25,2622.6L851.68,2622.51L849.17,2622.55L846.72,2622.7L844.34,2622.97L842.03,2623.37L839.8,2623.88L837.65,2624.51L835.58,2625.25L833.6,2626.12L831.71,2627.1L829.9,2628.19L828.2,2629.39L826.59,2630.7L825.08,2632.12L823.67,2633.65L822.37,2635.28L821.18,2637L820.09,2638.83L819.11,2640.75L818.24,2642.77L817.49,2644.87L816.85,2647.06L816.33,2649.33L815.92,2651.68L815.62,2654.11L815.45,2656.61L815.39,2659.17L815.45,2661.8L815.62,2664.49L815.92,2667.23L816.33,2670.03L816.85,2672.87L817.49,2675.75L818.24,2678.68L819.11,2681.63L820.09,2684.62L821.18,2687.63L822.37,2690.66L823.67,2693.7L825.08,2696.76L826.59,2699.82L828.2,2702.88L829.9,2705.94L831.71,2708.99L833.6,2712.03L835.58,2715.05L837.65,2718.05L839.8,2721.02L842.03,2723.96L844.34,2726.86L846.72,2729.72L849.17,2732.54L851.68,2735.31L854.25,2738.02L856.89,2740.68L859.57,2743.27L862.31,2745.8L865.09,2748.26L867.9,2750.64L870.76,2752.95L873.65,2755.18L876.56,2757.32L879.5,2759.37L882.46,2761.34L885.43,2763.21L888.41,2764.98L891.39,2766.65L894.37,2768.23L897.35,2769.69L900.32,2771.05L903.28,2772.31L906.22,2773.45L909.13,2774.48L912.02,2775.39L914.88,2776.19L917.69,2776.87L920.47,2777.44L923.21,2777.89L925.89,2778.21L928.53,2778.42L931.1,2778.51L933.61,2778.47L936.06,2778.32L938.44,2778.05L940.75,2777.65L942.98,2777.14L945.13,2776.51L947.2,2775.77L949.18,2774.9L951.07,2773.92L952.88,2772.83L954.58,2771.63L956.19,2770.32L957.7,2768.9L959.11,2767.37L960.41,2765.74L961.6,2764.02L962.69,2762.19L963.67,2760.27L964.54,2758.25L965.29,2756.15L965.93,2753.96L966.45,2751.69L966.86,2749.34L967.16,2746.91L967.33,2744.41Z" fill="#006fed"/>
<path d="M1417.85,2635.21L1417.76,2630.99L1417.47,2626.88L1417,2622.89L1416.34,2619.01L1415.49,2615.26L1414.45,2611.64L1413.23,2608.16L1411.83,2604.82L1410.25,2601.62L1408.49,2598.58L1406.55,2595.7L1404.44,2592.98L1402.17,2590.43L1399.72,2588.04L1397.12,2585.83L1394.36,2583.79L1391.44,2581.94L1388.38,2580.26L1385.17,2578.78L1381.82,2577.48L1378.34,2576.37L1374.73,2575.45L1371,2574.72L1367.15,2574.19L1363.19,2573.86L1359.12,2573.71L1354.95,2573.77L1350.69,2574.02L1346.35,2574.46L1341.92,2575.1L1337.42,2575.93L1332.86,2576.96L1328.24,2578.17L1323.56,2579.58L1318.85,2581.17L1314.09,2582.94L1309.31,2584.9L1304.5,2587.03L1299.68,2589.34L1294.85,2591.82L1290.02,2594.47L1285.2,2597.28L1280.39,2600.25L1275.61,2603.37L1270.85,2606.65L1266.14,2610.07L1261.46,2613.62L1256.84,2617.32L1252.28,2621.14L1247.78,2625.08L1243.35,2629.14L1239.01,2633.31L1234.75,2637.58L1230.58,2641.96L1226.51,2646.42L1222.55,2650.96L1218.7,2655.58L1214.97,2660.27L1211.36,2665.02L1207.88,2669.83L1204.53,2674.68L1201.32,2679.58L1198.26,2684.5L1195.34,2689.45L1192.58,2694.42L1189.98,2699.4L1187.53,2704.38L1185.26,2709.35L1183.15,2714.31L1181.21,2719.25L1179.45,2724.16L1177.87,2729.03L1176.47,2733.86L1175.25,2738.63L1174.21,2743.35L1173.36,2748L1172.7,2752.58L1172.23,2757.08L1171.94,2761.49L1171.85,2765.81L1171.94,2770.03L1172.23,2774.14L1172.7,2778.13L1173.36,2782.01L1174.21,2785.76L1175.25,2789.38L1176.47,2792.86L1177.87,2796.2L1179.45,2799.4L1181.21,2802.44L1183.15,2805.32L1185.26,2808.04L1187.53,2810.59L1189.98,2812.98L1192.58,2815.19L1195.34,2817.23L1198.26,2819.08L1201.32,2820.76L1204.53,2822.24L1207.88,2823.54L1211.36,2824.65L1214.97,2825.57L1218.7,2826.3L1222.55,2826.83L1226.51,2827.16L1230.58,2827.31L1234.75,2827.25L1239.01,2827L1243.35,2826.56L1247.78,2825.92L1252.28,2825.09L1256.84,2824.06L1261.46,2822.85L1266.14,2821.44L1270.85,2819.85L1275.61,2818.08L1280.39,2816.12L1285.2,2813.99L1290.02,2811.68L1294.85,2809.2L1299.68,2806.55L1304.5,2803.74L1309.31,2800.77L1314.09,2797.65L1318.85,2794.37L1323.56,2790.95L1328.24,2787.4L1332.86,2783.7L1337.42,2779.88L1341.92,2775.94L1346.35,2771.88L1350.69,2767.71L1354.95,2763.44L1359.12,2759.06L1363.19,2754.6L1367.15,2750.06L1371,2745.44L1374.73,2740.75L1378.34,2736L1381.82,2731.19L1385.17,2726.34L1388.38,2721.44L1391.44,2716.52L1394.36,2711.57L1397.12,2706.6L1399.72,2701.62L1402.17,2696.64L1404.44,2691.67L1406.55,2686.71L1408.49,2681.77L1410.25,2676.86L1411.83,2671.99L1413.23,2667.16L1414.45,2662.39L1415.49,2657.67L1416.34,2653.02L1417,2648.44L1417.47,2643.94L1417.76,2639.53Z" fill="#99c5f8" stroke="#7090c4" stroke-width="1.7"/>
<path d="M1370.85,2660.34L1370.79,2657.75L1370.62,2655.22L1370.32,2652.76L1369.91,2650.38L1369.39,2648.07L1368.75,2645.84L1368,2643.7L1367.13,2641.64L1366.15,2639.68L1365.06,2637.81L1363.87,2636.04L1362.57,2634.36L1361.16,2632.79L1359.65,2631.32L1358.04,2629.96L1356.34,2628.71L1354.53,2627.57L1352.64,2626.54L1350.66,2625.63L1348.59,2624.83L1346.44,2624.15L1344.21,2623.58L1341.9,2623.13L1339.52,2622.81L1337.07,2622.6L1334.56,2622.51L1331.99,2622.55L1329.35,2622.7L1326.67,2622.97L1323.93,2623.37L1321.15,2623.88L1318.34,2624.51L1315.48,2625.26L1312.59,2626.12L1309.68,2627.1L1306.74,2628.19L1303.78,2629.39L1300.81,2630.7L1297.83,2632.12L1294.85,2633.65L1291.87,2635.28L1288.89,2637.01L1285.92,2638.83L1282.96,2640.76L1280.02,2642.77L1277.11,2644.87L1274.22,2647.06L1271.36,2649.33L1268.55,2651.69L1265.77,2654.11L1263.03,2656.61L1260.35,2659.17L1257.71,2661.8L1255.14,2664.49L1252.63,2667.23L1250.18,2670.03L1247.8,2672.87L1245.49,2675.76L1243.26,2678.68L1241.11,2681.64L1239.04,2684.62L1237.06,2687.63L1235.17,2690.66L1233.36,2693.71L1231.66,2696.76L1230.05,2699.83L1228.54,2702.89L1227.13,2705.95L1225.83,2709L1224.64,2712.04L1223.55,2715.06L1222.57,2718.05L1221.7,2721.02L1220.95,2723.96L1220.31,2726.86L1219.79,2729.73L1219.38,2732.54L1219.08,2735.31L1218.91,2738.02L1218.85,2740.68L1218.91,2743.27L1219.08,2745.8L1219.38,2748.26L1219.79,2750.64L1220.31,2752.95L1220.95,2755.18L1221.7,2757.32L1222.57,2759.38L1223.55,2761.34L1224.64,2763.21L1225.83,2764.98L1227.13,2766.66L1228.54,2768.23L1230.05,2769.7L1231.66,2771.06L1233.36,2772.31L1235.17,2773.45L1237.06,2774.48L1239.04,2775.39L1241.11,2776.19L1243.26,2776.87L1245.49,2777.44L1247.8,2777.89L1250.18,2778.21L1252.63,2778.42L1255.14,2778.51L1257.71,2778.47L1260.35,2778.32L1263.03,2778.05L1265.77,2777.65L1268.55,2777.14L1271.36,2776.51L1274.22,2775.76L1277.11,2774.9L1280.02,2773.92L1282.96,2772.83L1285.92,2771.63L1288.89,2770.32L1291.87,2768.9L1294.85,2767.37L1297.83,2765.74L1300.81,2764.01L1303.78,2762.19L1306.74,2760.26L1309.68,2758.25L1312.59,2756.15L1315.48,2753.96L1318.34,2751.69L1321.15,2749.33L1323.93,2746.91L1326.67,2744.41L1329.35,2741.85L1331.99,2739.22L1334.56,2736.53L1337.07,2733.79L1339.52,2730.99L1341.9,2728.15L1344.21,2725.26L1346.44,2722.34L1348.59,2719.38L1350.66,2716.4L1352.64,2713.39L1354.53,2710.36L1356.34,2707.31L1358.04,2704.26L1359.65,2701.19L1361.16,2698.13L1362.57,2695.07L1363.87,2692.02L1365.06,2688.98L1366.15,2685.96L1367.13,2682.97L1368,2680L1368.75,2677.06L1369.39,2674.16L1369.91,2671.29L1370.32,2668.48L1370.62,2665.71L1370.79,2663Z" fill="#006fed"/>
<path d="M1821.31,2768.47L1821.22,2764.22L1820.93,2759.87L1820.46,2755.42L1819.8,2750.89L1818.95,2746.29L1817.91,2741.61L1816.69,2736.87L1815.29,2732.07L1813.71,2727.22L1811.95,2722.34L1810.01,2717.42L1807.9,2712.47L1805.63,2707.5L1803.18,2702.53L1800.58,2697.55L1797.82,2692.57L1794.9,2687.61L1791.84,2682.67L1788.63,2677.75L1785.28,2672.87L1781.8,2668.04L1778.19,2663.25L1774.46,2658.52L1770.61,2653.86L1766.65,2649.26L1762.58,2644.75L1758.41,2640.32L1754.15,2635.99L1749.81,2631.75L1745.38,2627.62L1740.88,2623.6L1736.32,2619.7L1731.7,2615.93L1727.02,2612.29L1722.31,2608.78L1717.55,2605.41L1712.77,2602.19L1707.96,2599.13L1703.14,2596.21L1698.31,2593.46L1693.48,2590.88L1688.66,2588.46L1683.85,2586.22L1679.07,2584.15L1674.31,2582.26L1669.6,2580.55L1664.92,2579.03L1660.3,2577.7L1655.74,2576.56L1651.24,2575.6L1646.81,2574.84L1642.47,2574.28L1638.21,2573.9L1634.04,2573.73L1629.97,2573.74L1626.01,2573.96L1622.16,2574.37L1618.43,2574.97L1614.82,2575.77L1611.34,2576.76L1607.99,2577.94L1604.78,2579.31L1601.72,2580.86L1598.8,2582.6L1596.04,2584.53L1593.44,2586.63L1590.99,2588.91L1588.72,2591.35L1586.61,2593.97L1584.67,2596.75L1582.91,2599.7L1581.33,2602.79L1579.93,2606.04L1578.71,2609.43L1577.67,2612.97L1576.82,2616.64L1576.16,2620.43L1575.69,2624.36L1575.4,2628.39L1575.31,2632.55L1575.4,2636.8L1575.69,2641.15L1576.16,2645.6L1576.82,2650.13L1577.67,2654.73L1578.71,2659.41L1579.93,2664.15L1581.33,2668.95L1582.91,2673.8L1584.67,2678.68L1586.61,2683.6L1588.72,2688.55L1590.99,2693.52L1593.44,2698.49L1596.04,2703.47L1598.8,2708.45L1601.72,2713.41L1604.78,2718.35L1607.99,2723.27L1611.34,2728.15L1614.82,2732.98L1618.43,2737.77L1622.16,2742.5L1626.01,2747.16L1629.97,2751.76L1634.04,2756.27L1638.21,2760.7L1642.47,2765.03L1646.81,2769.27L1651.24,2773.4L1655.74,2777.42L1660.3,2781.32L1664.92,2785.09L1669.6,2788.73L1674.31,2792.24L1679.07,2795.61L1683.85,2798.83L1688.66,2801.89L1693.48,2804.81L1698.31,2807.56L1703.14,2810.14L1707.96,2812.56L1712.77,2814.8L1717.55,2816.87L1722.31,2818.76L1727.02,2820.47L1731.7,2821.99L1736.32,2823.32L1740.88,2824.46L1745.38,2825.42L1749.81,2826.18L1754.15,2826.74L1758.41,2827.12L1762.58,2827.29L1766.65,2827.28L1770.61,2827.06L1774.46,2826.65L1778.19,2826.05L1781.8,2825.25L1785.28,2824.26L1788.63,2823.08L1791.84,2821.71L1794.9,2820.16L1797.82,2818.42L1800.58,2816.49L1803.18,2814.39L1805.63,2812.11L1807.9,2809.67L1810.01,2807.05L1811.95,2804.27L1813.71,2801.32L1815.29,2798.23L1816.69,2794.98L1817.91,2791.59L1818.95,2788.05L1819.8,2784.38L1820.46,2780.59L1820.93,2776.66L1821.22,2772.63Z" fill="#99c5f8" stroke="#7090c4" stroke-width="1.7"/>
<path d="M1774.31,2742.32L1774.25,2739.7L1774.08,2737.02L1773.78,2734.29L1773.37,2731.5L1772.85,2728.67L1772.21,2725.79L1771.46,2722.87L1770.59,2719.92L1769.61,2716.94L1768.52,2713.94L1767.33,2710.91L1766.03,2707.87L1764.62,2704.81L1763.11,2701.75L1761.5,2698.69L1759.8,2695.63L1757.99,2692.58L1756.1,2689.54L1754.12,2686.51L1752.05,2683.51L1749.9,2680.53L1747.67,2677.59L1745.36,2674.68L1742.98,2671.81L1740.53,2668.99L1738.02,2666.21L1735.45,2663.49L1732.81,2660.82L1730.13,2658.21L1727.39,2655.67L1724.61,2653.2L1721.8,2650.8L1718.94,2648.48L1716.05,2646.24L1713.14,2644.08L1710.2,2642.01L1707.24,2640.03L1704.27,2638.14L1701.29,2636.35L1698.31,2634.66L1695.33,2633.07L1692.35,2631.58L1689.38,2630.2L1686.42,2628.93L1683.48,2627.77L1680.57,2626.72L1677.68,2625.78L1674.82,2624.96L1672.01,2624.26L1669.23,2623.67L1666.49,2623.21L1663.81,2622.86L1661.17,2622.63L1658.6,2622.52L1656.09,2622.53L1653.64,2622.66L1651.26,2622.91L1648.95,2623.29L1646.72,2623.78L1644.57,2624.39L1642.5,2625.11L1640.52,2625.95L1638.63,2626.91L1636.82,2627.98L1635.12,2629.16L1633.51,2630.46L1632,2631.86L1630.59,2633.36L1629.29,2634.97L1628.1,2636.69L1627.01,2638.49L1626.03,2640.4L1625.16,2642.4L1624.41,2644.49L1623.77,2646.66L1623.25,2648.92L1622.84,2651.25L1622.54,2653.66L1622.37,2656.15L1622.31,2658.7L1622.37,2661.32L1622.54,2664L1622.84,2666.73L1623.25,2669.52L1623.77,2672.35L1624.41,2675.23L1625.16,2678.15L1626.03,2681.1L1627.01,2684.08L1628.1,2687.08L1629.29,2690.11L1630.59,2693.15L1632,2696.21L1633.51,2699.27L1635.12,2702.33L1636.82,2705.39L1638.63,2708.44L1640.52,2711.48L1642.5,2714.51L1644.57,2717.51L1646.72,2720.49L1648.95,2723.43L1651.26,2726.34L1653.64,2729.21L1656.09,2732.03L1658.6,2734.81L1661.17,2737.53L1663.81,2740.2L1666.49,2742.81L1669.23,2745.35L1672.01,2747.82L1674.82,2750.22L1677.68,2752.54L1680.57,2754.78L1683.48,2756.94L1686.42,2759.01L1689.38,2760.99L1692.35,2762.88L1695.33,2764.67L1698.31,2766.36L1701.29,2767.95L1704.27,2769.44L1707.24,2770.82L1710.2,2772.09L1713.14,2773.25L1716.05,2774.3L1718.94,2775.24L1721.8,2776.06L1724.61,2776.76L1727.39,2777.35L1730.13,2777.81L1732.81,2778.16L1735.45,2778.39L1738.02,2778.5L1740.53,2778.49L1742.98,2778.36L1745.36,2778.11L1747.67,2777.73L1749.9,2777.24L1752.05,2776.63L1754.12,2775.91L1756.1,2775.07L1757.99,2774.11L1759.8,2773.04L1761.5,2771.86L1763.11,2770.56L1764.62,2769.16L1766.03,2767.66L1767.33,2766.05L1768.52,2764.33L1769.61,2762.53L1770.59,2760.62L1771.46,2758.62L1772.21,2756.53L1772.85,2754.36L1773.37,2752.1L1773.78,2749.77L1774.08,2747.36L1774.25,2744.87Z" fill="#006fed"/>
<path d="M2224.77,2720.16L2224.68,2715.23L2224.39,2710.28L2223.92,2705.3L2223.26,2700.33L2222.41,2695.35L2221.37,2690.38L2220.15,2685.42L2218.75,2680.49L2217.17,2675.59L2215.41,2670.73L2213.47,2665.91L2211.36,2661.15L2209.09,2656.45L2206.64,2651.82L2204.04,2647.26L2201.28,2642.78L2198.36,2638.39L2195.3,2634.1L2192.09,2629.91L2188.74,2625.83L2185.26,2621.86L2181.65,2618.02L2177.92,2614.3L2174.07,2610.72L2170.11,2607.27L2166.04,2603.97L2161.87,2600.82L2157.61,2597.82L2153.27,2594.98L2148.84,2592.3L2144.34,2589.79L2139.78,2587.45L2135.16,2585.28L2130.48,2583.29L2125.77,2581.48L2121.01,2579.86L2116.23,2578.42L2111.42,2577.17L2106.6,2576.11L2101.77,2575.24L2096.94,2574.57L2092.12,2574.09L2087.31,2573.8L2082.53,2573.71L2077.77,2573.82L2073.06,2574.12L2068.38,2574.61L2063.76,2575.3L2059.2,2576.18L2054.7,2577.26L2050.27,2578.52L2045.93,2579.97L2041.67,2581.61L2037.5,2583.43L2033.43,2585.43L2029.47,2587.61L2025.62,2589.97L2021.89,2592.49L2018.28,2595.18L2014.8,2598.03L2011.45,2601.05L2008.24,2604.21L2005.18,2607.52L2002.26,2610.98L1999.5,2614.57L1996.9,2618.3L1994.45,2622.15L1992.18,2626.13L1990.07,2630.22L1988.13,2634.41L1986.37,2638.71L1984.79,2643.11L1983.39,2647.59L1982.17,2652.16L1981.13,2656.8L1980.28,2661.5L1979.62,2666.27L1979.15,2671.09L1978.86,2675.95L1978.77,2680.86L1978.86,2685.79L1979.15,2690.74L1979.62,2695.72L1980.28,2700.69L1981.13,2705.67L1982.17,2710.64L1983.39,2715.6L1984.79,2720.53L1986.37,2725.43L1988.13,2730.29L1990.07,2735.11L1992.18,2739.87L1994.45,2744.57L1996.9,2749.2L1999.5,2753.76L2002.26,2758.24L2005.18,2762.63L2008.24,2766.92L2011.45,2771.11L2014.8,2775.19L2018.28,2779.16L2021.89,2783L2025.62,2786.72L2029.47,2790.3L2033.43,2793.75L2037.5,2797.05L2041.67,2800.2L2045.93,2803.2L2050.27,2806.04L2054.7,2808.72L2059.2,2811.23L2063.76,2813.57L2068.38,2815.74L2073.06,2817.73L2077.77,2819.54L2082.53,2821.16L2087.31,2822.6L2092.12,2823.85L2096.94,2824.91L2101.77,2825.78L2106.6,2826.45L2111.42,2826.93L2116.23,2827.22L2121.01,2827.31L2125.77,2827.2L2130.48,2826.9L2135.16,2826.41L2139.78,2825.72L2144.34,2824.84L2148.84,2823.76L2153.27,2822.5L2157.61,2821.05L2161.87,2819.41L2166.04,2817.59L2170.11,2815.59L2174.07,2813.41L2177.92,2811.05L2181.65,2808.53L2185.26,2805.84L2188.74,2802.99L2192.09,2799.97L2195.3,2796.81L2198.36,2793.5L2201.28,2790.04L2204.04,2786.45L2206.64,2782.72L2209.09,2778.87L2211.36,2774.89L2213.47,2770.8L2215.41,2766.61L2217.17,2762.31L2218.75,2757.91L2220.15,2753.43L2221.37,2748.86L2222.41,2744.22L2223.26,2739.52L2223.92,2734.75L2224.39,2729.93L2224.68,2725.07Z" fill="#99c5f8" stroke="#7090c4" stroke-width="1.7"/>
<path d="M2177.77,2712.6L2177.71,2709.57L2177.54,2706.52L2177.24,2703.46L2176.83,2700.4L2176.31,2697.33L2175.67,2694.28L2174.92,2691.23L2174.05,2688.2L2173.07,2685.18L2171.98,2682.19L2170.79,2679.23L2169.49,2676.3L2168.08,2673.41L2166.57,2670.56L2164.96,2667.75L2163.26,2665L2161.45,2662.3L2159.56,2659.66L2157.58,2657.08L2155.51,2654.57L2153.36,2652.13L2151.13,2649.77L2148.82,2647.48L2146.44,2645.28L2143.99,2643.16L2141.48,2641.12L2138.91,2639.19L2136.27,2637.34L2133.59,2635.59L2130.85,2633.94L2128.07,2632.4L2125.26,2630.96L2122.4,2629.63L2119.51,2628.4L2116.6,2627.29L2113.66,2626.29L2110.7,2625.41L2107.73,2624.64L2104.75,2623.99L2101.77,2623.45L2098.79,2623.04L2095.81,2622.74L2092.84,2622.57L2089.88,2622.51L2086.94,2622.57L2084.03,2622.76L2081.14,2623.06L2078.28,2623.49L2075.47,2624.03L2072.69,2624.69L2069.95,2625.47L2067.27,2626.36L2064.63,2627.37L2062.06,2628.49L2059.55,2629.72L2057.1,2631.06L2054.72,2632.51L2052.41,2634.06L2050.18,2635.72L2048.03,2637.47L2045.96,2639.33L2043.98,2641.27L2042.09,2643.31L2040.28,2645.44L2038.58,2647.65L2036.97,2649.94L2035.46,2652.31L2034.05,2654.75L2032.75,2657.27L2031.56,2659.85L2030.47,2662.5L2029.49,2665.2L2028.62,2667.96L2027.87,2670.77L2027.23,2673.62L2026.71,2676.51L2026.3,2679.45L2026,2682.41L2025.83,2685.4L2025.77,2688.42L2025.83,2691.45L2026,2694.5L2026.3,2697.56L2026.71,2700.62L2027.23,2703.69L2027.87,2706.74L2028.62,2709.79L2029.49,2712.82L2030.47,2715.84L2031.56,2718.83L2032.75,2721.79L2034.05,2724.72L2035.46,2727.61L2036.97,2730.46L2038.58,2733.27L2040.28,2736.02L2042.09,2738.72L2043.98,2741.36L2045.96,2743.94L2048.03,2746.45L2050.18,2748.89L2052.41,2751.25L2054.72,2753.54L2057.1,2755.74L2059.55,2757.86L2062.06,2759.9L2064.63,2761.83L2067.27,2763.68L2069.95,2765.43L2072.69,2767.08L2075.47,2768.62L2078.28,2770.06L2081.14,2771.39L2084.03,2772.62L2086.94,2773.73L2089.88,2774.73L2092.84,2775.61L2095.81,2776.38L2098.79,2777.03L2101.77,2777.57L2104.75,2777.98L2107.73,2778.28L2110.7,2778.45L2113.66,2778.51L2116.6,2778.45L2119.51,2778.26L2122.4,2777.96L2125.26,2777.53L2128.07,2776.99L2130.85,2776.33L2133.59,2775.55L2136.27,2774.66L2138.91,2773.65L2141.48,2772.53L2143.99,2771.3L2146.44,2769.96L2148.82,2768.51L2151.13,2766.96L2153.36,2765.3L2155.51,2763.55L2157.58,2761.69L2159.56,2759.75L2161.45,2757.71L2163.26,2755.58L2164.96,2753.37L2166.57,2751.08L2168.08,2748.71L2169.49,2746.27L2170.79,2743.75L2171.98,2741.17L2173.07,2738.52L2174.05,2735.82L2174.92,2733.06L2175.67,2730.25L2176.31,2727.4L2176.83,2724.51L2177.24,2721.57L2177.54,2718.61L2177.71,2715.62Z" fill="#006fed"/>
<path d="M2628.23,2691.89L2628.14,2686.93L2627.85,2681.99L2627.38,2677.08L2626.72,2672.2L2625.87,2667.37L2624.83,2662.59L2623.61,2657.87L2622.21,2653.22L2620.63,2648.63L2618.87,2644.13L2616.93,2639.72L2614.82,2635.39L2612.55,2631.17L2610.1,2627.06L2607.5,2623.06L2604.74,2619.18L2601.82,2615.42L2598.76,2611.79L2595.55,2608.31L2592.2,2604.96L2588.72,2601.76L2585.11,2598.71L2581.38,2595.82L2577.53,2593.1L2573.57,2590.53L2569.5,2588.14L2565.33,2585.92L2561.07,2583.88L2556.73,2582.01L2552.3,2580.33L2547.8,2578.84L2543.24,2577.53L2538.62,2576.41L2533.94,2575.49L2529.23,2574.75L2524.47,2574.21L2519.69,2573.87L2514.88,2573.72L2510.06,2573.76L2505.23,2574L2500.4,2574.44L2495.58,2575.07L2490.77,2575.89L2485.99,2576.91L2481.23,2578.12L2476.52,2579.51L2471.84,2581.09L2467.22,2582.86L2462.66,2584.81L2458.16,2586.93L2453.73,2589.23L2449.39,2591.71L2445.13,2594.35L2440.96,2597.15L2436.89,2600.11L2432.93,2603.23L2429.08,2606.5L2425.35,2609.91L2421.74,2613.47L2418.26,2617.15L2414.91,2620.97L2411.7,2624.91L2408.64,2628.96L2405.72,2633.13L2402.96,2637.4L2400.36,2641.76L2397.91,2646.22L2395.64,2650.76L2393.53,2655.38L2391.59,2660.06L2389.83,2664.81L2388.25,2669.62L2386.85,2674.47L2385.63,2679.36L2384.59,2684.29L2383.74,2689.24L2383.08,2694.2L2382.61,2699.18L2382.32,2704.16L2382.23,2709.13L2382.32,2714.09L2382.61,2719.03L2383.08,2723.94L2383.74,2728.82L2384.59,2733.65L2385.63,2738.43L2386.85,2743.15L2388.25,2747.8L2389.83,2752.39L2391.59,2756.89L2393.53,2761.3L2395.64,2765.63L2397.91,2769.85L2400.36,2773.96L2402.96,2777.96L2405.72,2781.84L2408.64,2785.6L2411.7,2789.23L2414.91,2792.71L2418.26,2796.06L2421.74,2799.26L2425.35,2802.31L2429.08,2805.2L2432.93,2807.92L2436.89,2810.49L2440.96,2812.88L2445.13,2815.1L2449.39,2817.14L2453.73,2819.01L2458.16,2820.69L2462.66,2822.18L2467.22,2823.49L2471.84,2824.61L2476.52,2825.53L2481.23,2826.27L2485.99,2826.81L2490.77,2827.15L2495.58,2827.3L2500.4,2827.26L2505.23,2827.02L2510.06,2826.58L2514.88,2825.95L2519.69,2825.13L2524.47,2824.11L2529.23,2822.9L2533.94,2821.51L2538.62,2819.93L2543.24,2818.16L2547.8,2816.21L2552.3,2814.09L2556.73,2811.79L2561.07,2809.31L2565.33,2806.67L2569.5,2803.87L2573.57,2800.91L2577.53,2797.79L2581.38,2794.52L2585.11,2791.11L2588.72,2787.55L2592.2,2783.87L2595.55,2780.05L2598.76,2776.11L2601.82,2772.06L2604.74,2767.89L2607.5,2763.62L2610.1,2759.26L2612.55,2754.8L2614.82,2750.26L2616.93,2745.64L2618.87,2740.96L2620.63,2736.21L2622.21,2731.4L2623.61,2726.55L2624.83,2721.66L2625.87,2716.73L2626.72,2711.78L2627.38,2706.82L2627.85,2701.84L2628.14,2696.86Z" fill="#99c5f8" stroke="#7090c4" stroke-width="1.7"/>
<path d="M2581.23,2695.21L2581.17,2692.15L2581,2689.12L2580.7,2686.1L2580.29,2683.1L2579.77,2680.13L2579.13,2677.19L2578.38,2674.28L2577.51,2671.42L2576.53,2668.6L2575.44,2665.83L2574.25,2663.11L2572.95,2660.45L2571.54,2657.86L2570.03,2655.33L2568.42,2652.87L2566.72,2650.48L2564.91,2648.17L2563.02,2645.94L2561.04,2643.79L2558.97,2641.73L2556.82,2639.77L2554.59,2637.89L2552.28,2636.11L2549.9,2634.44L2547.45,2632.86L2544.94,2631.39L2542.37,2630.02L2539.73,2628.76L2537.05,2627.62L2534.31,2626.58L2531.53,2625.66L2528.72,2624.86L2525.86,2624.17L2522.97,2623.6L2520.06,2623.15L2517.12,2622.82L2514.16,2622.61L2511.19,2622.51L2508.21,2622.54L2505.23,2622.69L2502.25,2622.96L2499.27,2623.35L2496.3,2623.85L2493.34,2624.48L2490.4,2625.22L2487.49,2626.08L2484.6,2627.05L2481.74,2628.14L2478.93,2629.34L2476.15,2630.64L2473.41,2632.06L2470.73,2633.58L2468.09,2635.2L2465.52,2636.93L2463.01,2638.75L2460.56,2640.67L2458.18,2642.68L2455.87,2644.78L2453.64,2646.97L2451.49,2649.23L2449.42,2651.58L2447.44,2654L2445.55,2656.5L2443.74,2659.06L2442.04,2661.69L2440.43,2664.37L2438.92,2667.11L2437.51,2669.91L2436.21,2672.75L2435.02,2675.63L2433.93,2678.55L2432.95,2681.51L2432.08,2684.49L2431.33,2687.5L2430.69,2690.53L2430.17,2693.58L2429.76,2696.63L2429.46,2699.69L2429.29,2702.75L2429.23,2705.81L2429.29,2708.87L2429.46,2711.9L2429.76,2714.92L2430.17,2717.92L2430.69,2720.89L2431.33,2723.83L2432.08,2726.74L2432.95,2729.6L2433.93,2732.42L2435.02,2735.19L2436.21,2737.91L2437.51,2740.57L2438.92,2743.16L2440.43,2745.69L2442.04,2748.15L2443.74,2750.54L2445.55,2752.85L2447.44,2755.08L2449.42,2757.23L2451.49,2759.29L2453.64,2761.25L2455.87,2763.13L2458.18,2764.91L2460.56,2766.58L2463.01,2768.16L2465.52,2769.63L2468.09,2771L2470.73,2772.26L2473.41,2773.4L2476.15,2774.44L2478.93,2775.36L2481.74,2776.16L2484.6,2776.85L2487.49,2777.42L2490.4,2777.87L2493.34,2778.2L2496.3,2778.41L2499.27,2778.51L2502.25,2778.48L2505.23,2778.33L2508.21,2778.06L2511.19,2777.67L2514.16,2777.17L2517.12,2776.54L2520.06,2775.8L2522.97,2774.94L2525.86,2773.97L2528.72,2772.88L2531.53,2771.68L2534.31,2770.38L2537.05,2768.96L2539.73,2767.44L2542.37,2765.82L2544.94,2764.09L2547.45,2762.27L2549.9,2760.35L2552.28,2758.34L2554.59,2756.24L2556.82,2754.05L2558.97,2751.79L2561.04,2749.44L2563.02,2747.02L2564.91,2744.52L2566.72,2741.96L2568.42,2739.33L2570.03,2736.65L2571.54,2733.91L2572.95,2731.11L2574.25,2728.27L2575.44,2725.39L2576.53,2722.47L2577.51,2719.51L2578.38,2716.53L2579.13,2713.52L2579.77,2710.49L2580.29,2707.44L2580.7,2704.39L2581,2701.33L2581.17,2698.27Z" fill="#006fed"/>
</g>
<g stroke="#000" stroke-width="3.0">
<path d="M341.48,422.74V410.84"/>
<path d="M487.93,422.74V410.84"/>
<path d="M634.38,422.74V410.84"/>
<path d="M341.48,836.88V824.98"/>
<path d="M341.48,422.74V434.64"/>
<path d="M487.93,836.88V824.98"/>
<path d="M487.93,422.74V434.64"/>
<path d="M634.38,836.88V824.98"/>
<path d="M634.38,422.74V434.64"/>
<path d="M286.2,494.01H298.1"/>
<path d="M689.66,494.01H677.76"/>
<path d="M286.2,629.81H298.1"/>
<path d="M689.66,629.81H677.76"/>
<path d="M286.2,765.61H298.1"/>
<path d="M689.66,765.61H677.76"/>
<path d="M891.39,836.88V824.98"/>
<path d="M341.48,1251.02V1239.12"/>
<path d="M341.48,836.88V848.78"/>
<path d="M487.93,1251.02V1239.12"/>
<path d="M487.93,836.88V848.78"/>
<path d="M634.38,1251.02V1239.12"/>
<path d="M634.38,836.88V848.78"/>
<path d="M286.2,919.45H298.1"/>
<path d="M689.66,919.45H677.76"/>
<path d="M286.2,1043.95H298.1"/>
<path d="M689.66,1043.95H677.76"/>
<path d="M286.2,1168.45H298.1"/>
<path d="M689.66,1168.45H677.76"/>
<path d="M891.39,1251.02V1239.12"/>
<path d="M891.39,836.88V848.78"/>
<path d="M689.66,919.45H701.56"/>
<path d="M1093.12,919.45H1081.22"/>
<path d="M689.66,1043.95H701.56"/>
<path d="M1093.12,1043.95H1081.22"/>
<path d="M689.66,1168.45H701.56"/>
<path d="M1093.12,1168.45H1081.22"/>
<path d="M1294.85,1251.02V1239.12"/>
<path d="M341.48,1665.16V1653.26"/>
<path d="M341.48,1251.02V1262.92"/>
<path d="M487.93,1665.16V1653.26"/>
<path d="M487.93,1251.02V1262.92"/>
<path d="M634.38,1665.16V1653.26"/>
<path d="M634.38,1251.02V1262.92"/>
<path d="M286.2,1313.89H298.1"/>
<path d="M689.66,1313.89H677.76"/>
<path d="M286.2,1458.09H298.1"/>
<path d="M689.66,1458.09H677.76"/>
<path d="M286.2,1602.29H298.1"/>
<path d="M689.66,1602.29H677.76"/>
<path d="M891.39,1665.16V1653.26"/>
<path d="M891.39,1251.02V1262.92"/>
<path d="M689.66,1313.89H701.56"/>
<path d="M1093.12,1313.89H1081.22"/>
<path d="M689.66,1458.09H701.56"/>
<path d="M1093.12,1458.09H1081.22"/>
<path d="M689.66,1602.29H701.56"/>
<path d="M1093.12,1602.29H1081.22"/>
<path d="M1294.85,1665.16V1653.26"/>
<path d="M1294.85,1251.02V1262.92"/>
<path d="M1093.12,1313.89H1105.02"/>
<path d="M1496.58,1313.89H1484.68"/>
<path d="M1093.12,1458.09H1105.02"/>
<path d="M1496.58,1458.09H1484.68"/>
<path d="M1093.12,1602.29H1105.02"/>
<path d="M1496.58,1602.29H1484.68"/>
<path d="M1698.31,1665.16V1653.26"/>
<path d="M341.48,2079.3V2067.4"/>
<path d="M341.48,1665.16V1677.06"/>
<path d="M487.93,2079.3V2067.4"/>
<path d="M487.93,1665.16V1677.06"/>
<path d="M634.38,2079.3V2067.4"/>
<path d="M634.38,1665.16V1677.06"/>
<path d="M286.2,1766.13H298.1"/>
<path d="M689.66,1766.13H677.76"/>
<path d="M286.2,1978.33H298.1"/>
<path d="M689.66,1978.33H677.76"/>
<path d="M891.39,2079.3V2067.4"/>
<path d="M891.39,1665.16V1677.06"/>
<path d="M689.66,1766.13H701.56"/>
<path d="M1093.12,1766.13H1081.22"/>
<path d="M689.66,1978.33H701.56"/>
<path d="M1093.12,1978.33H1081.22"/>
<path d="M1294.85,2079.3V2067.4"/>
<path d="M1294.85,1665.16V1677.06"/>
<path d="M1093.12,1766.13H1105.02"/>
<path d="M1496.58,1766.13H1484.68"/>
<path d="M1093.12,1978.33H1105.02"/>
<path d="M1496.58,1978.33H1484.68"/>
<path d="M1698.31,2079.3V2067.4"/>
<path d="M1698.31,1665.16V1677.06"/>
<path d="M1496.58,1766.13H1508.48"/>
<path d="M1900.04,1766.13H1888.14"/>
<path d="M1496.58,1978.33H1508.48"/>
<path d="M1900.04,1978.33H1888.14"/>
<path d="M1998.42,2079.3V2067.4"/>
<path d="M2205.12,2079.3V2067.4"/>
<path d="M341.48,2493.44V2481.54"/>
<path d="M341.48,2079.3V2091.2"/>
<path d="M487.93,2493.44V2481.54"/>
<path d="M487.93,2079.3V2091.2"/>
<path d="M634.38,2493.44V2481.54"/>
<path d="M634.38,2079.3V2091.2"/>
<path d="M286.2,2216.07H298.1"/>
<path d="M689.66,2216.07H677.76"/>
<path d="M286.2,2356.67H298.1"/>
<path d="M689.66,2356.67H677.76"/>
<path d="M891.39,2493.44V2481.54"/>
<path d="M891.39,2079.3V2091.2"/>
<path d="M689.66,2216.07H701.56"/>
<path d="M1093.12,2216.07H1081.22"/>
<path d="M689.66,2356.67H701.56"/>
<path d="M1093.12,2356.67H1081.22"/>
<path d="M1294.85,2493.44V2481.54"/>
<path d="M1294.85,2079.3V2091.2"/>
<path d="M1093.12,2216.07H1105.02"/>
<path d="M1496.58,2216.07H1484.68"/>
<path d="M1093.12,2356.67H1105.02"/>
<path d="M1496.58,2356.67H1484.68"/>
<path d="M1698.31,2493.44V2481.54"/>
<path d="M1698.31,2079.3V2091.2"/>
<path d="M1496.58,2216.07H1508.48"/>
<path d="M1900.04,2216.07H1888.14"/>
<path d="M1496.58,2356.67H1508.48"/>
<path d="M1900.04,2356.67H1888.14"/>
<path d="M1998.42,2493.44V2481.54"/>
<path d="M1998.42,2079.3V2091.2"/>
<path d="M2205.12,2493.44V2481.54"/>
<path d="M2205.12,2079.3V2091.2"/>
<path d="M1900.04,2216.07H1911.94"/>
<path d="M2303.5,2216.07H2291.6"/>
<path d="M1900.04,2356.67H1911.94"/>
<path d="M2303.5,2356.67H2291.6"/>
<path d="M2505.23,2493.44V2481.54"/>
<path d="M341.48,2907.58V2895.68"/>
<path d="M341.48,2493.44V2505.34"/>
<path d="M487.93,2907.58V2895.68"/>
<path d="M487.93,2493.44V2505.34"/>
<path d="M634.38,2907.58V2895.68"/>
<path d="M634.38,2493.44V2505.34"/>
<path d="M286.2,2570.81H298.1"/>
<path d="M689.66,2570.81H677.76"/>
<path d="M286.2,2700.51H298.1"/>
<path d="M689.66,2700.51H677.76"/>
<path d="M286.2,2830.21H298.1"/>
<path d="M689.66,2830.21H677.76"/>
<path d="M891.39,2907.58V2895.68"/>
<path d="M891.39,2493.44V2505.34"/>
<path d="M689.66,2570.81H701.56"/>
<path d="M1093.12,2570.81H1081.22"/>
<path d="M689.66,2700.51H701.56"/>
<path d="M1093.12,2700.51H1081.22"/>
<path d="M689.66,2830.21H701.56"/>
<path d="M1093.12,2830.21H1081.22"/>
<path d="M1294.85,2907.58V2895.68"/>
<path d="M1294.85,2493.44V2505.34"/>
<path d="M1093.12,2570.81H1105.02"/>
<path d="M1496.58,2570.81H1484.68"/>
<path d="M1093.12,2700.51H1105.02"/>
<path d="M1496.58,2700.51H1484.68"/>
<path d="M1093.12,2830.21H1105.02"/>
<path d="M1496.58,2830.21H1484.68"/>
<path d="M1698.31,2907.58V2895.68"/>
<path d="M1698.31,2493.44V2505.34"/>
<path d="M1496.58,2570.81H1508.48"/>
<path d="M1900.04,2570.81H1888.14"/>
<path d="M1496.58,2700.51H1508.48"/>
<path d="M1900.04,2700.51H1888.14"/>
<path d="M1496.58,2830.21H1508.48"/>
<path d="M1900.04,2830.21H1888.14"/>
<path d="M1998.42,2907.58V2895.68"/>
<path d="M1998.42,2493.44V2505.34"/>
<path d="M2205.12,2907.58V2895.68"/>
<path d="M2205.12,2493.44V2505.34"/>
<path d="M1900.04,2570.81H1911.94"/>
<path d="M2303.5,2570.81H2291.6"/>
<path d="M1900.04,2700.51H1911.94"/>
<path d="M2303.5,2700.51H2291.6"/>
<path d="M1900.04,2830.21H1911.94"/>
<path d="M2303.5,2830.21H2291.6"/>
<path d="M2505.23,2907.58V2895.68"/>
<path d="M2505.23,2493.44V2505.34"/>
<path d="M2303.5,2570.81H2315.4"/>
<path d="M2706.96,2570.81H2695.06"/>
<path d="M2303.5,2700.51H2315.4"/>
<path d="M2706.96,2700.51H2695.06"/>
<path d="M2303.5,2830.21H2315.4"/>
<path d="M2706.96,2830.21H2695.06"/>
<path d="M2803.39,2907.58V2895.68"/>
<path d="M3013.99,2907.58V2895.68"/>
</g>
<g fill="none" stroke="#0a68d2" stroke-width="2.1" stroke-linejoin="round">
<path d="M286.2,422.61L288.22,422.59L290.23,422.56L292.25,422.53L294.27,422.5L296.29,422.46L298.3,422.41L300.32,422.36L302.34,422.29L304.36,422.22L306.37,422.14L308.39,422.05L310.41,421.95L312.42,421.83L314.44,421.7L316.46,421.55L318.48,421.37L320.49,421.18L322.51,420.96L324.53,420.71L326.55,420.44L328.56,420.12L330.58,419.78L332.6,419.39L334.62,418.95L336.63,418.47L338.65,417.93L340.67,417.33L342.68,416.67L344.7,415.94L346.72,415.13L348.74,414.24L350.75,413.26L352.77,412.19L354.79,411.01L356.81,409.72L358.82,408.31L360.84,406.77L362.86,405.1L364.87,403.29L366.89,401.32L368.91,399.19L370.93,396.89L372.94,394.41L374.96,391.75L376.98,388.88L379,385.81L381.01,382.53L383.03,379.02L385.05,375.29L387.06,371.31L389.08,367.09L391.1,362.63L393.12,357.9L395.13,352.92L397.15,347.67L399.17,342.16L401.19,336.38L403.2,330.33L405.22,324.01L407.24,317.44L409.26,310.6L411.27,303.51L413.29,296.17L415.31,288.6L417.32,280.79L419.34,272.78L421.36,264.56L423.38,256.16L425.39,247.59L427.41,238.87L429.43,230.02L431.45,221.08L433.46,212.05L435.48,202.96L437.5,193.86L439.51,184.75L441.53,175.67L443.55,166.66L445.57,157.74L447.58,148.94L449.6,140.31L451.62,131.86L453.64,123.64L455.65,115.68L457.67,108.01L459.69,100.65L461.71,93.65L463.72,87.04L465.74,80.83L467.76,75.07L469.77,69.77L471.79,64.96L473.81,60.66L475.83,56.89L477.84,53.67L479.86,51.02L481.88,48.94L483.9,47.45L485.91,46.55L487.93,46.25L489.95,46.55L491.96,47.45L493.98,48.94L496,51.02L498.02,53.67L500.03,56.89L502.05,60.66L504.07,64.96L506.09,69.77L508.1,75.07L510.12,80.83L512.14,87.04L514.15,93.65L516.17,100.65L518.19,108.01L520.21,115.68L522.22,123.64L524.24,131.86L526.26,140.31L528.28,148.94L530.29,157.74L532.31,166.66L534.33,175.67L536.35,184.75L538.36,193.86L540.38,202.96L542.4,212.05L544.41,221.08L546.43,230.02L548.45,238.87L550.47,247.59L552.48,256.16L554.5,264.56L556.52,272.78L558.54,280.79L560.55,288.6L562.57,296.17L564.59,303.51L566.6,310.6L568.62,317.44L570.64,324.01L572.66,330.33L574.67,336.38L576.69,342.16L578.71,347.67L580.73,352.92L582.74,357.9L584.76,362.63L586.78,367.09L588.8,371.31L590.81,375.29L592.83,379.02L594.85,382.53L596.86,385.81L598.88,388.88L600.9,391.75L602.92,394.41L604.93,396.89L606.95,399.19L608.97,401.32L610.99,403.29L613,405.1L615.02,406.77L617.04,408.31L619.05,409.72L621.07,411.01L623.09,412.19L625.11,413.26L627.12,414.24L629.14,415.13L631.16,415.94L633.18,416.67L635.19,417.33L637.21,417.93L639.23,418.47L641.24,418.95L643.26,419.39L645.28,419.78L647.3,420.12L649.31,420.44L651.33,420.71L653.35,420.96L655.37,421.18L657.38,421.37L659.4,421.55L661.42,421.7L663.44,421.83L665.45,421.95L667.47,422.05L669.49,422.14L671.5,422.22L673.52,422.29L675.54,422.36L677.56,422.41L679.57,422.46L681.59,422.5L683.61,422.53L685.63,422.56L687.64,422.59L689.66,422.61"/>
<path d="M689.66,836.75L691.68,836.73L693.69,836.7L695.71,836.67L697.73,836.64L699.75,836.6L701.76,836.55L703.78,836.5L705.8,836.43L707.82,836.36L709.83,836.28L711.85,836.19L713.87,836.09L715.88,835.97L717.9,835.84L719.92,835.69L721.94,835.51L723.95,835.32L725.97,835.1L727.99,834.85L730.01,834.58L732.02,834.26L734.04,833.92L736.06,833.53L738.08,833.09L740.09,832.61L742.11,832.07L744.13,831.47L746.14,830.81L748.16,830.08L750.18,829.27L752.2,828.38L754.21,827.4L756.23,826.33L758.25,825.15L760.27,823.86L762.28,822.45L764.3,820.91L766.32,819.24L768.33,817.43L770.35,815.46L772.37,813.33L774.39,811.03L776.4,808.55L778.42,805.89L780.44,803.02L782.46,799.95L784.47,796.67L786.49,793.16L788.51,789.43L790.52,785.45L792.54,781.23L794.56,776.77L796.58,772.04L798.59,767.06L800.61,761.81L802.63,756.3L804.65,750.52L806.66,744.47L808.68,738.15L810.7,731.58L812.72,724.74L814.73,717.65L816.75,710.31L818.77,702.74L820.78,694.93L822.8,686.92L824.82,678.7L826.84,670.3L828.85,661.73L830.87,653.01L832.89,644.16L834.91,635.22L836.92,626.19L838.94,617.1L840.96,608L842.97,598.89L844.99,589.81L847.01,580.8L849.03,571.88L851.04,563.08L853.06,554.45L855.08,546L857.1,537.78L859.11,529.82L861.13,522.15L863.15,514.79L865.17,507.79L867.18,501.18L869.2,494.97L871.22,489.21L873.23,483.91L875.25,479.1L877.27,474.8L879.29,471.03L881.3,467.81L883.32,465.16L885.34,463.08L887.36,461.59L889.37,460.69L891.39,460.39L893.41,460.69L895.42,461.59L897.44,463.08L899.46,465.16L901.48,467.81L903.49,471.03L905.51,474.8L907.53,479.1L909.55,483.91L911.56,489.21L913.58,494.97L915.6,501.18L917.61,507.79L919.63,514.79L921.65,522.15L923.67,529.82L925.68,537.78L927.7,546L929.72,554.45L931.74,563.08L933.75,571.88L935.77,580.8L937.79,589.81L939.81,598.89L941.82,608L943.84,617.1L945.86,626.19L947.87,635.22L949.89,644.16L951.91,653.01L953.93,661.73L955.94,670.3L957.96,678.7L959.98,686.92L962,694.93L964.01,702.74L966.03,710.31L968.05,717.65L970.06,724.74L972.08,731.58L974.1,738.15L976.12,744.47L978.13,750.52L980.15,756.3L982.17,761.81L984.19,767.06L986.2,772.04L988.22,776.77L990.24,781.23L992.25,785.45L994.27,789.43L996.29,793.16L998.31,796.67L1000.32,799.95L1002.34,803.02L1004.36,805.89L1006.38,808.55L1008.39,811.03L1010.41,813.33L1012.43,815.46L1014.45,817.43L1016.46,819.24L1018.48,820.91L1020.5,822.45L1022.51,823.86L1024.53,825.15L1026.55,826.33L1028.57,827.4L1030.58,828.38L1032.6,829.27L1034.62,830.08L1036.64,830.81L1038.65,831.47L1040.67,832.07L1042.69,832.61L1044.7,833.09L1046.72,833.53L1048.74,833.92L1050.76,834.26L1052.77,834.58L1054.79,834.85L1056.81,835.1L1058.83,835.32L1060.84,835.51L1062.86,835.69L1064.88,835.84L1066.9,835.97L1068.91,836.09L1070.93,836.19L1072.95,836.28L1074.96,836.36L1076.98,836.43L1079,836.5L1081.02,836.55L1083.03,836.6L1085.05,836.64L1087.07,836.67L1089.09,836.7L1091.1,836.73L1093.12,836.75"/>
<path d="M1093.12,1250.89L1095.14,1250.87L1097.15,1250.84L1099.17,1250.81L1101.19,1250.78L1103.21,1250.74L1105.22,1250.69L1107.24,1250.64L1109.26,1250.57L1111.28,1250.5L1113.29,1250.42L1115.31,1250.33L1117.33,1250.23L1119.34,1250.11L1121.36,1249.98L1123.38,1249.83L1125.4,1249.65L1127.41,1249.46L1129.43,1249.24L1131.45,1248.99L1133.47,1248.72L1135.48,1248.4L1137.5,1248.06L1139.52,1247.67L1141.54,1247.23L1143.55,1246.75L1145.57,1246.21L1147.59,1245.61L1149.6,1244.95L1151.62,1244.22L1153.64,1243.41L1155.66,1242.52L1157.67,1241.54L1159.69,1240.47L1161.71,1239.29L1163.73,1238L1165.74,1236.59L1167.76,1235.05L1169.78,1233.38L1171.79,1231.57L1173.81,1229.6L1175.83,1227.47L1177.85,1225.17L1179.86,1222.69L1181.88,1220.03L1183.9,1217.16L1185.92,1214.09L1187.93,1210.81L1189.95,1207.3L1191.97,1203.57L1193.98,1199.59L1196,1195.37L1198.02,1190.91L1200.04,1186.18L1202.05,1181.2L1204.07,1175.95L1206.09,1170.44L1208.11,1164.66L1210.12,1158.61L1212.14,1152.29L1214.16,1145.72L1216.18,1138.88L1218.19,1131.79L1220.21,1124.45L1222.23,1116.88L1224.24,1109.07L1226.26,1101.06L1228.28,1092.84L1230.3,1084.44L1232.31,1075.87L1234.33,1067.15L1236.35,1058.3L1238.37,1049.36L1240.38,1040.33L1242.4,1031.24L1244.42,1022.14L1246.43,1013.03L1248.45,1003.95L1250.47,994.94L1252.49,986.02L1254.5,977.22L1256.52,968.59L1258.54,960.14L1260.56,951.92L1262.57,943.96L1264.59,936.29L1266.61,928.93L1268.63,921.93L1270.64,915.32L1272.66,909.11L1274.68,903.35L1276.69,898.05L1278.71,893.24L1280.73,888.94L1282.75,885.17L1284.76,881.95L1286.78,879.3L1288.8,877.22L1290.82,875.73L1292.83,874.83L1294.85,874.53L1296.87,874.83L1298.88,875.73L1300.9,877.22L1302.92,879.3L1304.94,881.95L1306.95,885.17L1308.97,888.94L1310.99,893.24L1313.01,898.05L1315.02,903.35L1317.04,909.11L1319.06,915.32L1321.07,921.93L1323.09,928.93L1325.11,936.29L1327.13,943.96L1329.14,951.92L1331.16,960.14L1333.18,968.59L1335.2,977.22L1337.21,986.02L1339.23,994.94L1341.25,1003.95L1343.27,1013.03L1345.28,1022.14L1347.3,1031.24L1349.32,1040.33L1351.33,1049.36L1353.35,1058.3L1355.37,1067.15L1357.39,1075.87L1359.4,1084.44L1361.42,1092.84L1363.44,1101.06L1365.46,1109.07L1367.47,1116.88L1369.49,1124.45L1371.51,1131.79L1373.52,1138.88L1375.54,1145.72L1377.56,1152.29L1379.58,1158.61L1381.59,1164.66L1383.61,1170.44L1385.63,1175.95L1387.65,1181.2L1389.66,1186.18L1391.68,1190.91L1393.7,1195.37L1395.71,1199.59L1397.73,1203.57L1399.75,1207.3L1401.77,1210.81L1403.78,1214.09L1405.8,1217.16L1407.82,1220.03L1409.84,1222.69L1411.85,1225.17L1413.87,1227.47L1415.89,1229.6L1417.91,1231.57L1419.92,1233.38L1421.94,1235.05L1423.96,1236.59L1425.97,1238L1427.99,1239.29L1430.01,1240.47L1432.03,1241.54L1434.04,1242.52L1436.06,1243.41L1438.08,1244.22L1440.1,1244.95L1442.11,1245.61L1444.13,1246.21L1446.15,1246.75L1448.16,1247.23L1450.18,1247.67L1452.2,1248.06L1454.22,1248.4L1456.23,1248.72L1458.25,1248.99L1460.27,1249.24L1462.29,1249.46L1464.3,1249.65L1466.32,1249.83L1468.34,1249.98L1470.36,1250.11L1472.37,1250.23L1474.39,1250.33L1476.41,1250.42L1478.42,1250.5L1480.44,1250.57L1482.46,1250.64L1484.48,1250.69L1486.49,1250.74L1488.51,1250.78L1490.53,1250.81L1492.55,1250.84L1494.56,1250.87L1496.58,1250.89"/>
<path d="M1496.58,1665.03L1498.6,1665.01L1500.61,1664.98L1502.63,1664.95L1504.65,1664.92L1506.67,1664.88L1508.68,1664.83L1510.7,1664.78L1512.72,1664.71L1514.74,1664.64L1516.75,1664.56L1518.77,1664.47L1520.79,1664.37L1522.8,1664.25L1524.82,1664.12L1526.84,1663.97L1528.86,1663.79L1530.87,1663.6L1532.89,1663.38L1534.91,1663.13L1536.93,1662.86L1538.94,1662.54L1540.96,1662.2L1542.98,1661.81L1545,1661.37L1547.01,1660.89L1549.03,1660.35L1551.05,1659.75L1553.06,1659.09L1555.08,1658.36L1557.1,1657.55L1559.12,1656.66L1561.13,1655.68L1563.15,1654.61L1565.17,1653.43L1567.19,1652.14L1569.2,1650.73L1571.22,1649.19L1573.24,1647.52L1575.25,1645.71L1577.27,1643.74L1579.29,1641.61L1581.31,1639.31L1583.32,1636.83L1585.34,1634.17L1587.36,1631.3L1589.38,1628.23L1591.39,1624.95L1593.41,1621.44L1595.43,1617.71L1597.44,1613.73L1599.46,1609.51L1601.48,1605.05L1603.5,1600.32L1605.51,1595.34L1607.53,1590.09L1609.55,1584.58L1611.57,1578.8L1613.58,1572.75L1615.6,1566.43L1617.62,1559.86L1619.64,1553.02L1621.65,1545.93L1623.67,1538.59L1625.69,1531.02L1627.7,1523.21L1629.72,1515.2L1631.74,1506.98L1633.76,1498.58L1635.77,1490.01L1637.79,1481.29L1639.81,1472.44L1641.83,1463.5L1643.84,1454.47L1645.86,1445.38L1647.88,1436.28L1649.89,1427.17L1651.91,1418.09L1653.93,1409.08L1655.95,1400.16L1657.96,1391.36L1659.98,1382.73L1662,1374.28L1664.02,1366.06L1666.03,1358.1L1668.05,1350.43L1670.07,1343.07L1672.09,1336.07L1674.1,1329.46L1676.12,1323.25L1678.14,1317.49L1680.15,1312.19L1682.17,1307.38L1684.19,1303.08L1686.21,1299.31L1688.22,1296.09L1690.24,1293.44L1692.26,1291.36L1694.28,1289.87L1696.29,1288.97L1698.31,1288.67L1700.33,1288.97L1702.34,1289.87L1704.36,1291.36L1706.38,1293.44L1708.4,1296.09L1710.41,1299.31L1712.43,1303.08L1714.45,1307.38L1716.47,1312.19L1718.48,1317.49L1720.5,1323.25L1722.52,1329.46L1724.53,1336.07L1726.55,1343.07L1728.57,1350.43L1730.59,1358.1L1732.6,1366.06L1734.62,1374.28L1736.64,1382.73L1738.66,1391.36L1740.67,1400.16L1742.69,1409.08L1744.71,1418.09L1746.73,1427.17L1748.74,1436.28L1750.76,1445.38L1752.78,1454.47L1754.79,1463.5L1756.81,1472.44L1758.83,1481.29L1760.85,1490.01L1762.86,1498.58L1764.88,1506.98L1766.9,1515.2L1768.92,1523.21L1770.93,1531.02L1772.95,1538.59L1774.97,1545.93L1776.98,1553.02L1779,1559.86L1781.02,1566.43L1783.04,1572.75L1785.05,1578.8L1787.07,1584.58L1789.09,1590.09L1791.11,1595.34L1793.12,1600.32L1795.14,1605.05L1797.16,1609.51L1799.17,1613.73L1801.19,1617.71L1803.21,1621.44L1805.23,1624.95L1807.24,1628.23L1809.26,1631.3L1811.28,1634.17L1813.3,1636.83L1815.31,1639.31L1817.33,1641.61L1819.35,1643.74L1821.37,1645.71L1823.38,1647.52L1825.4,1649.19L1827.42,1650.73L1829.43,1652.14L1831.45,1653.43L1833.47,1654.61L1835.49,1655.68L1837.5,1656.66L1839.52,1657.55L1841.54,1658.36L1843.56,1659.09L1845.57,1659.75L1847.59,1660.35L1849.61,1660.89L1851.62,1661.37L1853.64,1661.81L1855.66,1662.2L1857.68,1662.54L1859.69,1662.86L1861.71,1663.13L1863.73,1663.38L1865.75,1663.6L1867.76,1663.79L1869.78,1663.97L1871.8,1664.12L1873.82,1664.25L1875.83,1664.37L1877.85,1664.47L1879.87,1664.56L1881.88,1664.64L1883.9,1664.71L1885.92,1664.78L1887.94,1664.83L1889.95,1664.88L1891.97,1664.92L1893.99,1664.95L1896.01,1664.98L1898.02,1665.01L1900.04,1665.03"/>
<path d="M1900.04,2079.17L1902.06,2079.15L1904.07,2079.12L1906.09,2079.09L1908.11,2079.06L1910.13,2079.02L1912.14,2078.97L1914.16,2078.92L1916.18,2078.85L1918.2,2078.78L1920.21,2078.7L1922.23,2078.61L1924.25,2078.51L1926.26,2078.39L1928.28,2078.26L1930.3,2078.11L1932.32,2077.93L1934.33,2077.74L1936.35,2077.52L1938.37,2077.27L1940.39,2077L1942.4,2076.68L1944.42,2076.34L1946.44,2075.95L1948.46,2075.51L1950.47,2075.03L1952.49,2074.49L1954.51,2073.89L1956.52,2073.23L1958.54,2072.5L1960.56,2071.69L1962.58,2070.8L1964.59,2069.82L1966.61,2068.75L1968.63,2067.57L1970.65,2066.28L1972.66,2064.87L1974.68,2063.33L1976.7,2061.66L1978.71,2059.85L1980.73,2057.88L1982.75,2055.75L1984.77,2053.45L1986.78,2050.97L1988.8,2048.31L1990.82,2045.44L1992.84,2042.37L1994.85,2039.09L1996.87,2035.58L1998.89,2031.85L2000.9,2027.87L2002.92,2023.65L2004.94,2019.19L2006.96,2014.46L2008.97,2009.48L2010.99,2004.23L2013.01,1998.72L2015.03,1992.94L2017.04,1986.89L2019.06,1980.57L2021.08,1974L2023.1,1967.16L2025.11,1960.07L2027.13,1952.73L2029.15,1945.16L2031.16,1937.35L2033.18,1929.34L2035.2,1921.12L2037.22,1912.72L2039.23,1904.15L2041.25,1895.43L2043.27,1886.58L2045.29,1877.64L2047.3,1868.61L2049.32,1859.52L2051.34,1850.42L2053.35,1841.31L2055.37,1832.23L2057.39,1823.22L2059.41,1814.3L2061.42,1805.5L2063.44,1796.87L2065.46,1788.42L2067.48,1780.2L2069.49,1772.24L2071.51,1764.57L2073.53,1757.21L2075.55,1750.21L2077.56,1743.6L2079.58,1737.39L2081.6,1731.63L2083.61,1726.33L2085.63,1721.52L2087.65,1717.22L2089.67,1713.45L2091.68,1710.23L2093.7,1707.58L2095.72,1705.5L2097.74,1704.01L2099.75,1703.11L2101.77,1702.81L2103.79,1703.11L2105.8,1704.01L2107.82,1705.5L2109.84,1707.58L2111.86,1710.23L2113.87,1713.45L2115.89,1717.22L2117.91,1721.52L2119.93,1726.33L2121.94,1731.63L2123.96,1737.39L2125.98,1743.6L2127.99,1750.21L2130.01,1757.21L2132.03,1764.57L2134.05,1772.24L2136.06,1780.2L2138.08,1788.42L2140.1,1796.87L2142.12,1805.5L2144.13,1814.3L2146.15,1823.22L2148.17,1832.23L2150.19,1841.31L2152.2,1850.42L2154.22,1859.52L2156.24,1868.61L2158.25,1877.64L2160.27,1886.58L2162.29,1895.43L2164.31,1904.15L2166.32,1912.72L2168.34,1921.12L2170.36,1929.34L2172.38,1937.35L2174.39,1945.16L2176.41,1952.73L2178.43,1960.07L2180.44,1967.16L2182.46,1974L2184.48,1980.57L2186.5,1986.89L2188.51,1992.94L2190.53,1998.72L2192.55,2004.23L2194.57,2009.48L2196.58,2014.46L2198.6,2019.19L2200.62,2023.65L2202.64,2027.87L2204.65,2031.85L2206.67,2035.58L2208.69,2039.09L2210.7,2042.37L2212.72,2045.44L2214.74,2048.31L2216.76,2050.97L2218.77,2053.45L2220.79,2055.75L2222.81,2057.88L2224.83,2059.85L2226.84,2061.66L2228.86,2063.33L2230.88,2064.87L2232.89,2066.28L2234.91,2067.57L2236.93,2068.75L2238.95,2069.82L2240.96,2070.8L2242.98,2071.69L2245,2072.5L2247.02,2073.23L2249.03,2073.89L2251.05,2074.49L2253.07,2075.03L2255.08,2075.51L2257.1,2075.95L2259.12,2076.34L2261.14,2076.68L2263.15,2077L2265.17,2077.27L2267.19,2077.52L2269.21,2077.74L2271.22,2077.93L2273.24,2078.11L2275.26,2078.26L2277.28,2078.39L2279.29,2078.51L2281.31,2078.61L2283.33,2078.7L2285.34,2078.78L2287.36,2078.85L2289.38,2078.92L2291.4,2078.97L2293.41,2079.02L2295.43,2079.06L2297.45,2079.09L2299.47,2079.12L2301.48,2079.15L2303.5,2079.17"/>
<path d="M2303.5,2493.31L2305.52,2493.29L2307.53,2493.26L2309.55,2493.23L2311.57,2493.2L2313.59,2493.16L2315.6,2493.11L2317.62,2493.06L2319.64,2492.99L2321.66,2492.92L2323.67,2492.84L2325.69,2492.75L2327.71,2492.65L2329.72,2492.53L2331.74,2492.4L2333.76,2492.25L2335.78,2492.07L2337.79,2491.88L2339.81,2491.66L2341.83,2491.41L2343.85,2491.14L2345.86,2490.82L2347.88,2490.48L2349.9,2490.09L2351.92,2489.65L2353.93,2489.17L2355.95,2488.63L2357.97,2488.03L2359.98,2487.37L2362,2486.64L2364.02,2485.83L2366.04,2484.94L2368.05,2483.96L2370.07,2482.89L2372.09,2481.71L2374.11,2480.42L2376.12,2479.01L2378.14,2477.47L2380.16,2475.8L2382.17,2473.99L2384.19,2472.02L2386.21,2469.89L2388.23,2467.59L2390.24,2465.11L2392.26,2462.45L2394.28,2459.58L2396.3,2456.51L2398.31,2453.23L2400.33,2449.72L2402.35,2445.99L2404.36,2442.01L2406.38,2437.79L2408.4,2433.33L2410.42,2428.6L2412.43,2423.62L2414.45,2418.37L2416.47,2412.86L2418.49,2407.08L2420.5,2401.03L2422.52,2394.71L2424.54,2388.14L2426.56,2381.3L2428.57,2374.21L2430.59,2366.87L2432.61,2359.3L2434.62,2351.49L2436.64,2343.48L2438.66,2335.26L2440.68,2326.86L2442.69,2318.29L2444.71,2309.57L2446.73,2300.72L2448.75,2291.78L2450.76,2282.75L2452.78,2273.66L2454.8,2264.56L2456.81,2255.45L2458.83,2246.37L2460.85,2237.36L2462.87,2228.44L2464.88,2219.64L2466.9,2211.01L2468.92,2202.56L2470.94,2194.34L2472.95,2186.38L2474.97,2178.71L2476.99,2171.35L2479.01,2164.35L2481.02,2157.74L2483.04,2151.53L2485.06,2145.77L2487.07,2140.47L2489.09,2135.66L2491.11,2131.36L2493.13,2127.59L2495.14,2124.37L2497.16,2121.72L2499.18,2119.64L2501.2,2118.15L2503.21,2117.25L2505.23,2116.95L2507.25,2117.25L2509.26,2118.15L2511.28,2119.64L2513.3,2121.72L2515.32,2124.37L2517.33,2127.59L2519.35,2131.36L2521.37,2135.66L2523.39,2140.47L2525.4,2145.77L2527.42,2151.53L2529.44,2157.74L2531.45,2164.35L2533.47,2171.35L2535.49,2178.71L2537.51,2186.38L2539.52,2194.34L2541.54,2202.56L2543.56,2211.01L2545.58,2219.64L2547.59,2228.44L2549.61,2237.36L2551.63,2246.37L2553.65,2255.45L2555.66,2264.56L2557.68,2273.66L2559.7,2282.75L2561.71,2291.78L2563.73,2300.72L2565.75,2309.57L2567.77,2318.29L2569.78,2326.86L2571.8,2335.26L2573.82,2343.48L2575.84,2351.49L2577.85,2359.3L2579.87,2366.87L2581.89,2374.21L2583.9,2381.3L2585.92,2388.14L2587.94,2394.71L2589.96,2401.03L2591.97,2407.08L2593.99,2412.86L2596.01,2418.37L2598.03,2423.62L2600.04,2428.6L2602.06,2433.33L2604.08,2437.79L2606.1,2442.01L2608.11,2445.99L2610.13,2449.72L2612.15,2453.23L2614.16,2456.51L2616.18,2459.58L2618.2,2462.45L2620.22,2465.11L2622.23,2467.59L2624.25,2469.89L2626.27,2472.02L2628.29,2473.99L2630.3,2475.8L2632.32,2477.47L2634.34,2479.01L2636.35,2480.42L2638.37,2481.71L2640.39,2482.89L2642.41,2483.96L2644.42,2484.94L2646.44,2485.83L2648.46,2486.64L2650.48,2487.37L2652.49,2488.03L2654.51,2488.63L2656.53,2489.17L2658.54,2489.65L2660.56,2490.09L2662.58,2490.48L2664.6,2490.82L2666.61,2491.14L2668.63,2491.41L2670.65,2491.66L2672.67,2491.88L2674.68,2492.07L2676.7,2492.25L2678.72,2492.4L2680.74,2492.53L2682.75,2492.65L2684.77,2492.75L2686.79,2492.84L2688.8,2492.92L2690.82,2492.99L2692.84,2493.06L2694.86,2493.11L2696.87,2493.16L2698.89,2493.2L2700.91,2493.23L2702.93,2493.26L2704.94,2493.29L2706.96,2493.31"/>
<path d="M2706.96,2907.45L2708.98,2907.43L2710.99,2907.4L2713.01,2907.37L2715.03,2907.34L2717.05,2907.3L2719.06,2907.25L2721.08,2907.2L2723.1,2907.13L2725.12,2907.06L2727.13,2906.98L2729.15,2906.89L2731.17,2906.79L2733.18,2906.67L2735.2,2906.54L2737.22,2906.39L2739.24,2906.21L2741.25,2906.02L2743.27,2905.8L2745.29,2905.55L2747.31,2905.28L2749.32,2904.96L2751.34,2904.62L2753.36,2904.23L2755.38,2903.79L2757.39,2903.31L2759.41,2902.77L2761.43,2902.17L2763.44,2901.51L2765.46,2900.78L2767.48,2899.97L2769.5,2899.08L2771.51,2898.1L2773.53,2897.03L2775.55,2895.85L2777.57,2894.56L2779.58,2893.15L2781.6,2891.61L2783.62,2889.94L2785.63,2888.13L2787.65,2886.16L2789.67,2884.03L2791.69,2881.73L2793.7,2879.25L2795.72,2876.59L2797.74,2873.72L2799.76,2870.65L2801.77,2867.37L2803.79,2863.86L2805.81,2860.13L2807.82,2856.15L2809.84,2851.93L2811.86,2847.47L2813.88,2842.74L2815.89,2837.76L2817.91,2832.51L2819.93,2827L2821.95,2821.22L2823.96,2815.17L2825.98,2808.85L2828,2802.28L2830.02,2795.44L2832.03,2788.35L2834.05,2781.01L2836.07,2773.44L2838.08,2765.63L2840.1,2757.62L2842.12,2749.4L2844.14,2741L2846.15,2732.43L2848.17,2723.71L2850.19,2714.86L2852.21,2705.92L2854.22,2696.89L2856.24,2687.8L2858.26,2678.7L2860.27,2669.59L2862.29,2660.51L2864.31,2651.5L2866.33,2642.58L2868.34,2633.78L2870.36,2625.15L2872.38,2616.7L2874.4,2608.48L2876.41,2600.52L2878.43,2592.85L2880.45,2585.49L2882.47,2578.49L2884.48,2571.88L2886.5,2565.67L2888.52,2559.91L2890.53,2554.61L2892.55,2549.8L2894.57,2545.5L2896.59,2541.73L2898.6,2538.51L2900.62,2535.86L2902.64,2533.78L2904.66,2532.29L2906.67,2531.39L2908.69,2531.09L2910.71,2531.39L2912.72,2532.29L2914.74,2533.78L2916.76,2535.86L2918.78,2538.51L2920.79,2541.73L2922.81,2545.5L2924.83,2549.8L2926.85,2554.61L2928.86,2559.91L2930.88,2565.67L2932.9,2571.88L2934.91,2578.49L2936.93,2585.49L2938.95,2592.85L2940.97,2600.52L2942.98,2608.48L2945,2616.7L2947.02,2625.15L2949.04,2633.78L2951.05,2642.58L2953.07,2651.5L2955.09,2660.51L2957.11,2669.59L2959.12,2678.7L2961.14,2687.8L2963.16,2696.89L2965.17,2705.92L2967.19,2714.86L2969.21,2723.71L2971.23,2732.43L2973.24,2741L2975.26,2749.4L2977.28,2757.62L2979.3,2765.63L2981.31,2773.44L2983.33,2781.01L2985.35,2788.35L2987.36,2795.44L2989.38,2802.28L2991.4,2808.85L2993.42,2815.17L2995.43,2821.22L2997.45,2827L2999.47,2832.51L3001.49,2837.76L3003.5,2842.74L3005.52,2847.47L3007.54,2851.93L3009.55,2856.15L3011.57,2860.13L3013.59,2863.86L3015.61,2867.37L3017.62,2870.65L3019.64,2873.72L3021.66,2876.59L3023.68,2879.25L3025.69,2881.73L3027.71,2884.03L3029.73,2886.16L3031.75,2888.13L3033.76,2889.94L3035.78,2891.61L3037.8,2893.15L3039.81,2894.56L3041.83,2895.85L3043.85,2897.03L3045.87,2898.1L3047.88,2899.08L3049.9,2899.97L3051.92,2900.78L3053.94,2901.51L3055.95,2902.17L3057.97,2902.77L3059.99,2903.31L3062,2903.79L3064.02,2904.23L3066.04,2904.62L3068.06,2904.96L3070.07,2905.28L3072.09,2905.55L3074.11,2905.8L3076.13,2906.02L3078.14,2906.21L3080.16,2906.39L3082.18,2906.54L3084.2,2906.67L3086.21,2906.79L3088.23,2906.89L3090.25,2906.98L3092.26,2907.06L3094.28,2907.13L3096.3,2907.2L3098.32,2907.25L3100.33,2907.3L3102.35,2907.34L3104.37,2907.37L3106.39,2907.4L3108.4,2907.43L3110.42,2907.45"/>
</g>
<g fill="none" stroke="#000" stroke-width="2.4">
<rect x="286.2" y="8.6" width="403.46" height="414.14"/>
<rect x="286.2" y="422.74" width="403.46" height="414.14"/>
<rect x="689.66" y="422.74" width="403.46" height="414.14"/>
<rect x="286.2" y="836.88" width="403.46" height="414.14"/>
<rect x="689.66" y="836.88" width="403.46" height="414.14"/>
<rect x="1093.12" y="836.88" width="403.46" height="414.14"/>
<rect x="286.2" y="1251.02" width="403.46" height="414.14"/>
<rect x="689.66" y="1251.02" width="403.46" height="414.14"/>
<rect x="1093.12" y="1251.02" width="403.46" height="414.14"/>
<rect x="1496.58" y="1251.02" width="403.46" height="414.14"/>
<rect x="286.2" y="1665.16" width="403.46" height="414.14"/>
<rect x="689.66" y="1665.16" width="403.46" height="414.14"/>
<rect x="1093.12" y="1665.16" width="403.46" height="414.14"/>
<rect x="1496.58" y="1665.16" width="403.46" height="414.14"/>
<rect x="1900.04" y="1665.16" width="403.46" height="414.14"/>
<rect x="286.2" y="2079.3" width="403.46" height="414.14"/>
<rect x="689.66" y="2079.3" width="403.46" height="414.14"/>
<rect x="1093.12" y="2079.3" width="403.46" height="414.14"/>
<rect x="1496.58" y="2079.3" width="403.46" height="414.14"/>
<rect x="1900.04" y="2079.3" width="403.46" height="414.14"/>
<rect x="2303.5" y="2079.3" width="403.46" height="414.14"/>
<rect x="286.2" y="2493.44" width="403.46" height="414.14"/>
<rect x="689.66" y="2493.44" width="403.46" height="414.14"/>
<rect x="1093.12" y="2493.44" width="403.46" height="414.14"/>
<rect x="1496.58" y="2493.44" width="403.46" height="414.14"/>
<rect x="1900.04" y="2493.44" width="403.46" height="414.14"/>
<rect x="2303.5" y="2493.44" width="403.46" height="414.14"/>
<rect x="2706.96" y="2493.44" width="403.46" height="414.14"/>
</g>
<g font-family="'Liberation Serif', serif" fill="#000" stroke="#000" stroke-width="0.4">
<rect x="300.06" y="2949.72" width="45.52" height="2.73"/>
<text x="351.84" y="2971.2" font-size="74.5">2</text>
<text x="487.93" y="2971.2" font-size="74.5" text-anchor="middle">0</text>
<text x="634.38" y="2971.2" font-size="74.5" text-anchor="middle">2</text>
<text x="891.39" y="2971.2" font-size="74.5" text-anchor="middle">40</text>
<rect x="1225.49" y="2949.72" width="45.52" height="2.73"/>
<text x="1277.27" y="2971.2" font-size="74.5">1.3</text>
<rect x="1656.89" y="2949.72" width="45.52" height="2.73"/>
<text x="1708.67" y="2971.2" font-size="74.5">1</text>
<text x="1998.42" y="2971.2" font-size="74.5" text-anchor="middle">0.4</text>
<text x="2205.12" y="2971.2" font-size="74.5" text-anchor="middle">0.6</text>
<rect x="2435.87" y="2949.72" width="45.52" height="2.73"/>
<text x="2487.65" y="2971.2" font-size="74.5">0.5</text>
<text x="2803.39" y="2971.2" font-size="74.5" text-anchor="middle">0.45</text>
<text x="3013.99" y="2971.2" font-size="74.5" text-anchor="middle">0.55</text>
<text x="274.6" y="520.31" font-size="74.5" text-anchor="end">40.08</text>
<text x="274.6" y="656.11" font-size="74.5" text-anchor="end">40.00</text>
<text x="274.6" y="791.91" font-size="74.5" text-anchor="end">39.92</text>
<text x="274.6" y="945.75" font-size="74.5" text-anchor="end">1.2</text>
<rect x="129.7" y="924.27" width="45.52" height="2.73"/>
<text x="274.6" y="1070.25" font-size="74.5" text-anchor="end">1.3</text>
<rect x="129.7" y="1048.77" width="45.52" height="2.73"/>
<text x="274.6" y="1194.75" font-size="74.5" text-anchor="end">1.4</text>
<rect x="129.7" y="1173.27" width="45.52" height="2.73"/>
<text x="274.6" y="1340.19" font-size="74.5" text-anchor="end">0.85</text>
<rect x="92.45" y="1318.71" width="45.52" height="2.73"/>
<text x="274.6" y="1484.39" font-size="74.5" text-anchor="end">1.00</text>
<rect x="92.45" y="1462.91" width="45.52" height="2.73"/>
<text x="274.6" y="1628.59" font-size="74.5" text-anchor="end">1.15</text>
<rect x="92.45" y="1607.11" width="45.52" height="2.73"/>
<text x="274.6" y="1792.43" font-size="74.5" text-anchor="end">0.6</text>
<text x="274.6" y="2004.63" font-size="74.5" text-anchor="end">0.4</text>
<text x="274.6" y="2242.37" font-size="74.5" text-anchor="end">0.4</text>
<rect x="129.7" y="2220.89" width="45.52" height="2.73"/>
<text x="274.6" y="2382.97" font-size="74.5" text-anchor="end">0.6</text>
<rect x="129.7" y="2361.49" width="45.52" height="2.73"/>
<text x="274.6" y="2597.11" font-size="74.5" text-anchor="end">0.56</text>
<text x="274.6" y="2726.81" font-size="74.5" text-anchor="end">0.50</text>
<text x="274.6" y="2856.51" font-size="74.5" text-anchor="end">0.44</text>
<g transform="translate(487.8,3072.2)"><path d="M-194.3,-54.7L-207.5,-19L-194.3,16.8" fill="none" stroke="#000" stroke-width="3.3" stroke-linecap="round" stroke-linejoin="round"/><g transform="translate(-217.8,-67.2) scale(0.10352)"><path fill-rule="evenodd" d="M329,478a183,180 0 1,0 366,0a183,180 0 1,0 -366,0ZM590.3,518.8L584.1,539.0L576.0,558.2L566.0,575.9L554.5,591.6L541.7,605.0L527.9,615.8L513.5,623.6L498.9,628.3L484.4,629.8L470.3,628.0L457.1,623.0L445.0,614.9L434.3,603.8L425.2,590.2L418.2,574.2L413.2,556.4L410.4,537.1L409.9,516.8L411.6,496.0L415.7,475.2L421.9,455.0L430.0,435.8L440.0,418.1L451.5,402.4L464.3,389.0L478.1,378.2L492.5,370.4L507.1,365.7L521.6,364.2L535.7,366.0L548.9,371.0L561.0,379.1L571.7,390.2L580.8,403.8L587.8,419.8L592.8,437.6L595.6,456.9L596.1,477.2L594.4,498.0Z"/><path d="M470,292L765,292L750,357L560,357Z"/></g><text x="-112.4" y="0" font-size="74.5" font-style="italic">v</text><path d="M-75.6,-54.7L-61.8,-19L-75.6,16.8" fill="none" stroke="#000" stroke-width="3.3" stroke-linecap="round" stroke-linejoin="round"/><path d="M-33.4,-54L-41.8,-54L-41.8,16.6L-33.4,16.6" fill="none" stroke="#000" stroke-width="3"/><path d="M-20,-35.7L13,-2.4M-20,-2.4L13,-35.7" fill="none" stroke="#000" stroke-width="3" stroke-linecap="round"/><text x="26.1" y="0" font-size="74.5">1</text><text x="59.9" y="0" font-size="74.5">0</text><rect x="103.2" y="-41.3" width="34.7" height="2.0"/><text x="139.1" y="-24.8" font-size="54.6">29</text><path d="M196.6,-54L205.8,-54L205.8,16.6L196.6,16.6" fill="none" stroke="#000" stroke-width="3"/></g>
<g transform="translate(892.45,3072.2)"><text x="-25.85" y="0" font-size="74.5" font-style="italic">t</text><polygon points="8.95,-15.7 10.95,-4.26 22.46,-5.89 12.19,-0.45 17.3,9.99 8.95,1.91 0.6,9.99 5.71,-0.45 -4.56,-5.89 6.95,-4.26"/></g>
<g transform="translate(1295.2,3072.2)"><text x="-106" y="0" font-size="74.5">log</text><text x="-10.3" y="11" font-size="54.6">10</text><g transform="translate(29.8,-62.2) scale(0.04658)"><path d="M1148,294C1110,262 1000,255 930,320C850,400 800,520 765,655L700,1000C670,1180 640,1340 590,1460C550,1550 490,1610 440,1615L410,1600L330,1625C370,1690 440,1695 500,1675C590,1640 670,1520 730,1370C770,1240 790,1110 810,1000L878,655C900,540 930,420 975,350C1010,305 1050,295 1085,300Z"/><circle cx="1148" cy="362" r="68"/><circle cx="370" cy="1555" r="68"/><rect x="600" y="655" width="445" height="50"/></g><polygon points="91.3,-15.9 93.3,-4.46 104.81,-6.09 94.54,-0.65 99.65,9.79 91.3,1.71 82.95,9.79 88.06,-0.65 77.79,-6.09 89.3,-4.46"/></g>
<g transform="translate(1697.6,3072.2)"><text x="-125.2" y="0" font-size="74.5">log</text><text x="-29.6" y="11" font-size="54.6">10</text><g transform="translate(10.3,-62.2) scale(0.04658)"><path d="M1148,294C1110,262 1000,255 930,320C850,400 800,520 765,655L700,1000C670,1180 640,1340 590,1460C550,1550 490,1610 440,1615L410,1600L330,1625C370,1690 440,1695 500,1675C590,1640 670,1520 730,1370C770,1240 790,1110 810,1000L878,655C900,540 930,420 975,350C1010,305 1050,295 1085,300Z"/><circle cx="1148" cy="362" r="68"/><circle cx="370" cy="1555" r="68"/><rect x="600" y="655" width="445" height="50"/></g><text x="57.4" y="11" font-size="54.6">esc</text></g>
<g transform="translate(2104.3,3072.2)"><text x="-114" y="0" font-size="74.5">log</text><text x="-19.2" y="11" font-size="54.6">10</text><text x="36.4" y="0" font-size="74.5" font-style="italic">L</text><text x="74.1" y="11" font-size="54.6" font-style="italic">X</text></g>
<g transform="translate(2506,3072.2)"><text x="-33.4" y="0" font-size="74.5" font-style="italic">a</text><polygon points="17.3,-17.2 19.3,-5.76 30.81,-7.39 20.54,-1.95 25.65,8.49 17.3,0.41 8.95,8.49 14.06,-1.95 3.79,-7.39 15.3,-5.76"/></g>
<g transform="translate(2908.9,3072.2)"><text x="-53.7" y="0" font-size="74.5" font-style="italic">a</text><text x="-17.3" y="11" font-size="54.6">esc</text></g>
<g transform="translate(80,628.9) rotate(-90)"><text x="-25.85" y="0" font-size="74.5" font-style="italic">t</text><polygon points="8.95,-15.7 10.95,-4.26 22.46,-5.89 12.19,-0.45 17.3,9.99 8.95,1.91 0.6,9.99 5.71,-0.45 -4.56,-5.89 6.95,-4.26"/></g>
<g transform="translate(95,1044.2) rotate(-90)"><text x="-106" y="0" font-size="74.5">log</text><text x="-10.3" y="11" font-size="54.6">10</text><g transform="translate(29.8,-62.2) scale(0.04658)"><path d="M1148,294C1110,262 1000,255 930,320C850,400 800,520 765,655L700,1000C670,1180 640,1340 590,1460C550,1550 490,1610 440,1615L410,1600L330,1625C370,1690 440,1695 500,1675C590,1640 670,1520 730,1370C770,1240 790,1110 810,1000L878,655C900,540 930,420 975,350C1010,305 1050,295 1085,300Z"/><circle cx="1148" cy="362" r="68"/><circle cx="370" cy="1555" r="68"/><rect x="600" y="655" width="445" height="50"/></g><polygon points="91.3,-15.9 93.3,-4.46 104.81,-6.09 94.54,-0.65 99.65,9.79 91.3,1.71 82.95,9.79 88.06,-0.65 77.79,-6.09 89.3,-4.46"/></g>
<g transform="translate(57.8,1459.7) rotate(-90)"><text x="-125.2" y="0" font-size="74.5">log</text><text x="-29.6" y="11" font-size="54.6">10</text><g transform="translate(10.3,-62.2) scale(0.04658)"><path d="M1148,294C1110,262 1000,255 930,320C850,400 800,520 765,655L700,1000C670,1180 640,1340 590,1460C550,1550 490,1610 440,1615L410,1600L330,1625C370,1690 440,1695 500,1675C590,1640 670,1520 730,1370C770,1240 790,1110 810,1000L878,655C900,540 930,420 975,350C1010,305 1050,295 1085,300Z"/><circle cx="1148" cy="362" r="68"/><circle cx="370" cy="1555" r="68"/><rect x="600" y="655" width="445" height="50"/></g><text x="57.4" y="11" font-size="54.6">esc</text></g>
<g transform="translate(152.4,1872.5) rotate(-90)"><text x="-114" y="0" font-size="74.5">log</text><text x="-19.2" y="11" font-size="54.6">10</text><text x="36.4" y="0" font-size="74.5" font-style="italic">L</text><text x="74.1" y="11" font-size="54.6" font-style="italic">X</text></g>
<g transform="translate(95.7,2287.8) rotate(-90)"><text x="-33.4" y="0" font-size="74.5" font-style="italic">a</text><polygon points="17.3,-17.2 19.3,-5.76 30.81,-7.39 20.54,-1.95 25.65,8.49 17.3,0.41 8.95,8.49 14.06,-1.95 3.79,-7.39 15.3,-5.76"/></g>
<g transform="translate(116.5,2700.6) rotate(-90)"><text x="-53.7" y="0" font-size="74.5" font-style="italic">a</text><text x="-17.3" y="11" font-size="54.6">esc</text></g>
<rect x="2241.9" y="185.9" width="697.1" height="236" fill="none" stroke="#000" stroke-width="7.2"/>
<g transform="translate(2310,200) scale(0.07764)"><path d="M160,1105L300,1105L930,207L795,207Z"/><path d="M272,420C290,330 350,190 445,185C530,185 565,300 578,450C590,600 595,760 610,870C625,960 660,1005 700,1000C760,995 810,940 830,880L852,880C835,990 760,1120 650,1122C570,1122 545,1020 535,880C525,740 520,560 500,420C485,330 455,295 420,295C370,295 325,350 305,420Z"/></g>
<g transform="translate(2375.5,200) scale(0.07764)"><path d="M160,1105L300,1105L930,207L795,207Z"/><path d="M272,420C290,330 350,190 445,185C530,185 565,300 578,450C590,600 595,760 610,870C625,960 660,1005 700,1000C760,995 810,940 830,880L852,880C835,990 760,1120 650,1122C570,1122 545,1020 535,880C525,740 520,560 500,420C485,330 455,295 420,295C370,295 325,350 305,420Z"/></g>
<path d="M2481,241.3H2567" fill="none" stroke="#000" stroke-width="3.4" stroke-linecap="round"/>
<path d="M2545.3,216.5Q2551,236 2568.5,241.3Q2551,246.6 2545.3,266" fill="none" stroke="#000" stroke-width="3.4" stroke-linecap="round" stroke-linejoin="miter"/>
<path transform="translate(2590,200) scale(0.07764)" d="M170,435C195,320 250,190 335,188C410,188 450,300 465,480L475,640L690,207L825,207L480,770C475,900 465,1010 430,1090C405,1135 365,1138 340,1135C300,1125 285,1080 298,1020C320,930 390,830 420,740C430,640 420,500 400,390C385,320 360,295 330,295C275,295 225,360 205,435Z"/>
<path transform="translate(2639.7,200) scale(0.07764)" d="M170,435C195,320 250,190 335,188C410,188 450,300 465,480L475,640L690,207L825,207L480,770C475,900 465,1010 430,1090C405,1135 365,1138 340,1135C300,1125 285,1080 298,1020C320,930 390,830 420,740C430,640 420,500 400,390C385,320 360,295 330,295C275,295 225,360 205,435Z"/>
<text x="2271.1" y="359.9" font-size="100">m</text>
<g transform="translate(2341.52,327.22) scale(0.05613)"><path d="M160,1105L300,1105L930,207L795,207Z"/><path d="M272,420C290,330 350,190 445,185C530,185 565,300 578,450C590,600 595,760 610,870C625,960 660,1005 700,1000C760,995 810,940 830,880L852,880C835,990 760,1120 650,1122C570,1122 545,1020 535,880C525,740 520,560 500,420C485,330 455,295 420,295C370,295 325,350 305,420Z"/></g>
<rect x="2427.9" y="323" width="66.7" height="4"/><rect x="2427.9" y="342.5" width="66.7" height="4"/>
<text x="2524.7" y="359.9" font-size="100">1</text>
<text x="2570.3" y="359.9" font-size="100">00</text>
<text x="2700.8" y="359.9" font-size="100">MeV</text>
</g>
</svg>
</body></html>
